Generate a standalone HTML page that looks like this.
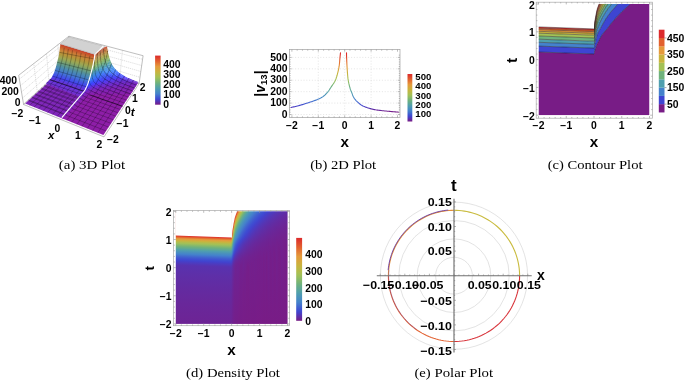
<!DOCTYPE html>
<html><head><meta charset="utf-8"><style>html,body{margin:0;padding:0;background:#fff}svg{display:block;will-change:transform}.m{stroke:#000;stroke-opacity:.47;stroke-width:.55;fill:none}</style></head>
<body><svg width="685" height="381" viewBox="0 0 685 381">
<rect width="685" height="381" fill="#fff"/>
<g opacity="0.999"><text x="58.8" y="169.3" font-family="'Liberation Serif', serif" font-size="13.2" font-weight="normal" textLength="66.4" lengthAdjust="spacingAndGlyphs" fill="#000">(a) 3D Plot</text><text x="310.2" y="169.4" font-family="'Liberation Serif', serif" font-size="13.2" font-weight="normal" textLength="66.0" lengthAdjust="spacingAndGlyphs" fill="#000">(b) 2D Plot</text><text x="547.7" y="169.1" font-family="'Liberation Serif', serif" font-size="13.2" font-weight="normal" textLength="94.8" lengthAdjust="spacingAndGlyphs" fill="#000">(c) Contour Plot</text><text x="186.1" y="377.3" font-family="'Liberation Serif', serif" font-size="13.2" font-weight="normal" textLength="93.8" lengthAdjust="spacingAndGlyphs" fill="#000">(d) Density Plot</text><text x="414.4" y="377.3" font-family="'Liberation Serif', serif" font-size="13.2" font-weight="normal" textLength="78.7" lengthAdjust="spacingAndGlyphs" fill="#000">(e) Polar Plot</text><path d="M318.30 49.5V117.5M344.70 49.5V117.5M371.10 49.5V117.5M289.5 114.50H400M289.5 103.08H400M289.5 91.66H400M289.5 80.24H400M289.5 68.82H400M289.5 57.40H400" stroke="#d4d4d4" stroke-width="0.6" stroke-dasharray="1,1.8" fill="none"/><rect x="289.5" y="49.5" width="110.5" height="68" fill="none" stroke="#a0a0a0" stroke-width="0.7"/><path d="M291.90 117.5v-2.2M291.90 49.5v2.2M297.18 117.5v-1.2M297.18 49.5v1.2M302.46 117.5v-1.2M302.46 49.5v1.2M307.74 117.5v-1.2M307.74 49.5v1.2M313.02 117.5v-1.2M313.02 49.5v1.2M318.30 117.5v-2.2M318.30 49.5v2.2M323.58 117.5v-1.2M323.58 49.5v1.2M328.86 117.5v-1.2M328.86 49.5v1.2M334.14 117.5v-1.2M334.14 49.5v1.2M339.42 117.5v-1.2M339.42 49.5v1.2M344.70 117.5v-2.2M344.70 49.5v2.2M349.98 117.5v-1.2M349.98 49.5v1.2M355.26 117.5v-1.2M355.26 49.5v1.2M360.54 117.5v-1.2M360.54 49.5v1.2M365.82 117.5v-1.2M365.82 49.5v1.2M371.10 117.5v-2.2M371.10 49.5v2.2M376.38 117.5v-1.2M376.38 49.5v1.2M381.66 117.5v-1.2M381.66 49.5v1.2M386.94 117.5v-1.2M386.94 49.5v1.2M392.22 117.5v-1.2M392.22 49.5v1.2M397.50 117.5v-2.2M397.50 49.5v2.2M289.5 114.50h2.2M400 114.50h-2.2M289.5 112.22h1.2M400 112.22h-1.2M289.5 109.93h1.2M400 109.93h-1.2M289.5 107.65h1.2M400 107.65h-1.2M289.5 105.36h1.2M400 105.36h-1.2M289.5 103.08h2.2M400 103.08h-2.2M289.5 100.80h1.2M400 100.80h-1.2M289.5 98.51h1.2M400 98.51h-1.2M289.5 96.23h1.2M400 96.23h-1.2M289.5 93.94h1.2M400 93.94h-1.2M289.5 91.66h2.2M400 91.66h-2.2M289.5 89.38h1.2M400 89.38h-1.2M289.5 87.09h1.2M400 87.09h-1.2M289.5 84.81h1.2M400 84.81h-1.2M289.5 82.52h1.2M400 82.52h-1.2M289.5 80.24h2.2M400 80.24h-2.2M289.5 77.96h1.2M400 77.96h-1.2M289.5 75.67h1.2M400 75.67h-1.2M289.5 73.39h1.2M400 73.39h-1.2M289.5 71.10h1.2M400 71.10h-1.2M289.5 68.82h2.2M400 68.82h-2.2M289.5 66.54h1.2M400 66.54h-1.2M289.5 64.25h1.2M400 64.25h-1.2M289.5 61.97h1.2M400 61.97h-1.2M289.5 59.68h1.2M400 59.68h-1.2M289.5 57.40h2.2M400 57.40h-2.2M289.5 55.12h1.2M400 55.12h-1.2" stroke="#909090" stroke-width="0.6" fill="none"/><text x="287.6" y="117.74" font-family="'Liberation Sans', sans-serif" font-size="10.1" font-weight="bold" text-anchor="end" textLength="5.78" lengthAdjust="spacingAndGlyphs" fill="#000">0</text><text x="287.6" y="106.32" font-family="'Liberation Sans', sans-serif" font-size="10.1" font-weight="bold" text-anchor="end" textLength="17.35" lengthAdjust="spacingAndGlyphs" fill="#000">100</text><text x="287.6" y="94.9" font-family="'Liberation Sans', sans-serif" font-size="10.1" font-weight="bold" text-anchor="end" textLength="17.35" lengthAdjust="spacingAndGlyphs" fill="#000">200</text><text x="287.6" y="83.48" font-family="'Liberation Sans', sans-serif" font-size="10.1" font-weight="bold" text-anchor="end" textLength="17.35" lengthAdjust="spacingAndGlyphs" fill="#000">300</text><text x="287.6" y="72.06" font-family="'Liberation Sans', sans-serif" font-size="10.1" font-weight="bold" text-anchor="end" textLength="17.35" lengthAdjust="spacingAndGlyphs" fill="#000">400</text><text x="287.6" y="60.64" font-family="'Liberation Sans', sans-serif" font-size="10.1" font-weight="bold" text-anchor="end" textLength="17.35" lengthAdjust="spacingAndGlyphs" fill="#000">500</text><text x="291.9" y="129.44" font-family="'Liberation Sans', sans-serif" font-size="10.1" font-weight="bold" text-anchor="middle" textLength="11.86" lengthAdjust="spacingAndGlyphs" fill="#000">−2</text><text x="318.3" y="129.44" font-family="'Liberation Sans', sans-serif" font-size="10.1" font-weight="bold" text-anchor="middle" textLength="11.86" lengthAdjust="spacingAndGlyphs" fill="#000">−1</text><text x="344.7" y="129.44" font-family="'Liberation Sans', sans-serif" font-size="10.1" font-weight="bold" text-anchor="middle" textLength="5.78" lengthAdjust="spacingAndGlyphs" fill="#000">0</text><text x="371.1" y="129.44" font-family="'Liberation Sans', sans-serif" font-size="10.1" font-weight="bold" text-anchor="middle" textLength="5.78" lengthAdjust="spacingAndGlyphs" fill="#000">1</text><text x="397.5" y="129.44" font-family="'Liberation Sans', sans-serif" font-size="10.1" font-weight="bold" text-anchor="middle" textLength="5.78" lengthAdjust="spacingAndGlyphs" fill="#000">2</text><text x="344.7" y="147.0" font-family="'Liberation Sans', sans-serif" font-size="15.2" font-weight="bold" text-anchor="middle" fill="#000">x</text><g transform="translate(264.6,83.6) rotate(-90)"><text x="0" y="0" font-family="Liberation Sans, sans-serif" font-size="14" font-weight="bold" text-anchor="middle">|<tspan font-style="italic">v</tspan><tspan font-size="9.6" dy="2.7">13</tspan><tspan dy="-2.7">|</tspan></text></g><defs><linearGradient id="cvg" gradientUnits="userSpaceOnUse" x1="0" y1="111.99" x2="0" y2="53.97"><stop offset="0.00" stop-color="#781c86"/><stop offset="0.05" stop-color="#5e2ea8"/><stop offset="0.10" stop-color="#4441ca"/><stop offset="0.15" stop-color="#405ad0"/><stop offset="0.20" stop-color="#4376cd"/><stop offset="0.25" stop-color="#4789c4"/><stop offset="0.30" stop-color="#4c96b7"/><stop offset="0.35" stop-color="#54a2a6"/><stop offset="0.40" stop-color="#62aa90"/><stop offset="0.45" stop-color="#72b37a"/><stop offset="0.50" stop-color="#89ba69"/><stop offset="0.55" stop-color="#a0c058"/><stop offset="0.60" stop-color="#b2bc4c"/><stop offset="0.65" stop-color="#c3b642"/><stop offset="0.70" stop-color="#d1ac3d"/><stop offset="0.75" stop-color="#dea03c"/><stop offset="0.80" stop-color="#e48e39"/><stop offset="0.85" stop-color="#e37433"/><stop offset="0.90" stop-color="#e15b2e"/><stop offset="0.95" stop-color="#df422d"/><stop offset="1.00" stop-color="#dc2a2c"/></linearGradient></defs><path d="M291.10 107.50 292.00 107.28 292.88 107.08 293.74 106.89 294.61 106.69 295.50 106.48 296.43 106.25 297.43 105.99 298.50 105.70 299.67 105.37 300.93 105.00 302.26 104.61 303.63 104.20 305.01 103.78 306.38 103.35 307.72 102.92 309.00 102.50 310.26 102.08 311.52 101.66 312.79 101.23 314.03 100.79 315.22 100.36 316.36 99.93 317.43 99.51 318.40 99.10 319.27 98.71 320.04 98.33 320.74 97.96 321.38 97.60 321.97 97.23 322.55 96.85 323.12 96.44 323.70 96.00 324.29 95.53 324.85 95.04 325.40 94.52 325.94 93.99 326.45 93.45 326.95 92.90 327.44 92.35 327.90 91.80 328.33 91.27 328.71 90.75 329.07 90.24 329.42 89.72 329.77 89.17 330.14 88.58 330.54 87.93 331.00 87.20 331.52 86.41 332.10 85.59 332.71 84.72 333.34 83.81 333.98 82.83 334.59 81.79 335.17 80.68 335.70 79.50 336.19 78.20 336.65 76.78 337.10 75.27 337.52 73.71 337.92 72.12 338.28 70.55 338.61 69.03 338.90 67.60 339.14 66.21 339.34 64.80 339.49 63.41 339.62 62.05 339.72 60.75 339.82 59.52 339.91 58.40 340.00 57.40 340.09 56.55 340.17 55.84 340.23 55.23 340.29 54.71 340.34 54.22 340.39 53.75 340.44 53.25 340.50 52.70" fill="none" stroke="url(#cvg)" stroke-width="1.1" stroke-linecap="round" stroke-linejoin="round"/><path d="M346.50 52.70 346.51 53.25 346.52 53.75 346.52 54.22 346.52 54.71 346.53 55.23 346.55 55.84 346.57 56.55 346.60 57.40 346.64 58.40 346.69 59.52 346.74 60.75 346.79 62.05 346.86 63.41 346.93 64.80 347.01 66.21 347.10 67.60 347.19 69.03 347.29 70.54 347.40 72.09 347.51 73.66 347.64 75.21 347.78 76.72 347.93 78.16 348.10 79.50 348.30 80.76 348.52 81.97 348.76 83.13 349.02 84.24 349.28 85.29 349.53 86.27 349.78 87.18 350.00 88.00 350.20 88.70 350.38 89.27 350.55 89.75 350.71 90.16 350.88 90.56 351.06 90.97 351.27 91.44 351.50 92.00 351.75 92.66 352.02 93.37 352.30 94.13 352.59 94.92 352.91 95.71 353.25 96.48 353.61 97.22 354.00 97.90 354.42 98.54 354.87 99.15 355.35 99.73 355.85 100.30 356.37 100.85 356.90 101.38 357.45 101.89 358.00 102.40 358.54 102.89 359.08 103.36 359.61 103.81 360.17 104.24 360.76 104.67 361.40 105.08 362.11 105.49 362.90 105.90 363.79 106.31 364.77 106.72 365.82 107.13 366.92 107.53 368.05 107.91 369.19 108.27 370.31 108.60 371.40 108.90 372.45 109.16 373.49 109.39 374.53 109.59 375.56 109.78 376.61 109.94 377.68 110.10 378.77 110.25 379.90 110.40 381.08 110.55 382.31 110.69 383.57 110.82 384.85 110.95 386.13 111.07 387.39 111.18 388.62 111.29 389.80 111.40 390.93 111.50 392.02 111.60 393.09 111.68 394.14 111.77 395.17 111.85 396.21 111.93 397.25 112.01 398.30 112.10" fill="none" stroke="url(#cvg)" stroke-width="1.1" stroke-linecap="round" stroke-linejoin="round"/><defs><linearGradient id="cbb" x1="0" y1="1" x2="0" y2="0"><stop offset="0.000" stop-color="#781c86"/><stop offset="0.025" stop-color="#6b2597"/><stop offset="0.050" stop-color="#5e2ea8"/><stop offset="0.075" stop-color="#5138b9"/><stop offset="0.100" stop-color="#4441ca"/><stop offset="0.125" stop-color="#3f4dd1"/><stop offset="0.150" stop-color="#405ad0"/><stop offset="0.175" stop-color="#4168cf"/><stop offset="0.200" stop-color="#4376cd"/><stop offset="0.225" stop-color="#4483cb"/><stop offset="0.250" stop-color="#4789c4"/><stop offset="0.275" stop-color="#4990be"/><stop offset="0.300" stop-color="#4c96b7"/><stop offset="0.325" stop-color="#4e9db0"/><stop offset="0.350" stop-color="#54a2a6"/><stop offset="0.375" stop-color="#5ba69b"/><stop offset="0.400" stop-color="#62aa90"/><stop offset="0.425" stop-color="#69af85"/><stop offset="0.450" stop-color="#72b37a"/><stop offset="0.475" stop-color="#7db672"/><stop offset="0.500" stop-color="#89ba69"/><stop offset="0.525" stop-color="#95bd60"/><stop offset="0.550" stop-color="#a0c058"/><stop offset="0.575" stop-color="#aabf52"/><stop offset="0.600" stop-color="#b2bc4c"/><stop offset="0.625" stop-color="#bbb947"/><stop offset="0.650" stop-color="#c3b642"/><stop offset="0.675" stop-color="#cbb23e"/><stop offset="0.700" stop-color="#d1ac3d"/><stop offset="0.725" stop-color="#d8a63d"/><stop offset="0.750" stop-color="#dea03c"/><stop offset="0.775" stop-color="#e49b3c"/><stop offset="0.800" stop-color="#e48e39"/><stop offset="0.825" stop-color="#e48136"/><stop offset="0.850" stop-color="#e37433"/><stop offset="0.875" stop-color="#e26730"/><stop offset="0.900" stop-color="#e15b2e"/><stop offset="0.925" stop-color="#e04e2d"/><stop offset="0.950" stop-color="#df422d"/><stop offset="0.975" stop-color="#dd362c"/><stop offset="1.000" stop-color="#dc2a2c"/></linearGradient></defs><rect x="407.5" y="74" width="4.800000000000011" height="47.5" fill="url(#cbb)"/><text x="415.3" y="117.3" font-family="'Liberation Sans', sans-serif" font-size="8.6" font-weight="bold" textLength="16.07" lengthAdjust="spacingAndGlyphs" fill="#000">100</text><text x="415.3" y="107.95" font-family="'Liberation Sans', sans-serif" font-size="8.6" font-weight="bold" textLength="16.07" lengthAdjust="spacingAndGlyphs" fill="#000">200</text><text x="415.3" y="98.6" font-family="'Liberation Sans', sans-serif" font-size="8.6" font-weight="bold" textLength="16.07" lengthAdjust="spacingAndGlyphs" fill="#000">300</text><text x="415.3" y="89.25" font-family="'Liberation Sans', sans-serif" font-size="8.6" font-weight="bold" textLength="16.07" lengthAdjust="spacingAndGlyphs" fill="#000">400</text><text x="415.3" y="79.9" font-family="'Liberation Sans', sans-serif" font-size="8.6" font-weight="bold" textLength="16.07" lengthAdjust="spacingAndGlyphs" fill="#000">500</text><defs><clipPath id="cl"><rect x="538.5" y="4.0" width="55.5" height="111.2"/></clipPath><clipPath id="cr"><rect x="594.0" y="4.0" width="55.5" height="111.2"/></clipPath></defs><g clip-path="url(#cl)"><path d="M538.7 115.2 594.0 115.2 594.0 54.0 538.5 52.0 538.5 115.2Z" fill="#781c86" fill-rule="evenodd"/><path d="M591.4 53.9 594.0 54.0 594.0 48.1 538.5 46.1 538.5 52.0Z" fill="#3e45d2" fill-rule="evenodd"/><path d="M588.2 47.9 594.0 48.1 594.0 44.3 538.5 42.3 538.5 46.1Z" fill="#4482cc" fill-rule="evenodd"/><path d="M590.1 44.2 594.0 44.3 594.0 41.2 538.5 39.2 538.5 42.3Z" fill="#4f9fae" fill-rule="evenodd"/><path d="M592.6 41.1 594.0 41.2 594.0 38.0 538.5 36.0 538.5 39.2Z" fill="#6fb27c" fill-rule="evenodd"/><path d="M591.2 37.9 594.0 38.0 594.0 35.2 538.5 33.2 538.5 36.0Z" fill="#a3c156" fill-rule="evenodd"/><path d="M591.9 35.1 594.0 35.2 594.0 33.3 538.5 31.3 538.5 33.2Z" fill="#c9b43e" fill-rule="evenodd"/><path d="M592.6 33.3 594.0 33.3 594.0 31.6 538.5 29.6 538.5 31.3Z" fill="#e59a3c" fill-rule="evenodd"/><path d="M588.2 31.4 594.0 31.6 594.0 30.1 538.5 28.1 538.5 29.6Z" fill="#e2602e" fill-rule="evenodd"/><path d="M591.2 30.0 594.0 30.1 594.0 28.9 538.5 26.9 538.5 28.1Z" fill="#dc2a2c" fill-rule="evenodd"/><polyline points="538.5,52.0 594.0,54.0" fill="none" stroke="#1a1a1a" stroke-opacity="0.55" stroke-width="0.85"/><polyline points="538.5,46.1 594.0,48.1" fill="none" stroke="#1a1a1a" stroke-opacity="0.55" stroke-width="0.85"/><polyline points="538.5,42.3 594.0,44.3" fill="none" stroke="#1a1a1a" stroke-opacity="0.55" stroke-width="0.85"/><polyline points="538.5,39.2 594.0,41.2" fill="none" stroke="#1a1a1a" stroke-opacity="0.55" stroke-width="0.85"/><polyline points="538.5,36.0 594.0,38.0" fill="none" stroke="#1a1a1a" stroke-opacity="0.55" stroke-width="0.85"/><polyline points="538.5,33.2 594.0,35.2" fill="none" stroke="#1a1a1a" stroke-opacity="0.55" stroke-width="0.85"/><polyline points="538.5,31.3 594.0,33.3" fill="none" stroke="#1a1a1a" stroke-opacity="0.55" stroke-width="0.85"/><polyline points="538.5,29.6 594.0,31.6" fill="none" stroke="#1a1a1a" stroke-opacity="0.55" stroke-width="0.85"/><polyline points="538.5,28.1 594.0,30.1" fill="none" stroke="#1a1a1a" stroke-opacity="0.55" stroke-width="0.85"/><polyline points="538.5,26.9 594.0,28.9" fill="none" stroke="#1a1a1a" stroke-opacity="0.55" stroke-width="0.85"/></g><g clip-path="url(#cr)"><path d="M594.2 115.2 649.5 115.2 649.5 4.0 630.3 4.0 621.6 11.9 616.3 17.4 610.7 24.0 607.2 28.8 605.1 31.0 601.9 35.1 597.3 43.5 594.7 50.6 594.0 54.0 594.0 115.2Z" fill="#781c86" fill-rule="evenodd"/><path d="M594.0 53.9 594.7 50.6 597.0 44.0 602.1 34.7 605.1 31.0 607.2 28.8 610.7 24.0 616.3 17.4 621.9 11.7 630.3 4.0 617.8 4.0 610.7 12.1 607.9 15.8 605.1 20.0 602.4 24.7 600.3 28.8 598.2 32.3 597.0 34.9 595.6 41.4 594.7 44.3 594.0 48.1Z" fill="#3e45d2" fill-rule="evenodd"/><path d="M594.1 47.9 594.7 44.3 595.6 41.4 597.0 35.1 598.2 32.3 604.9 20.4 607.9 15.8 610.7 12.1 617.8 4.0 611.7 4.0 607.7 9.2 605.1 13.0 602.4 17.7 599.6 23.4 596.8 30.6 595.9 34.0 594.7 39.6 594.0 44.3Z" fill="#4482cc" fill-rule="evenodd"/><path d="M594.0 44.2 594.7 39.6 595.9 34.0 597.0 29.8 599.6 23.4 602.4 17.7 605.1 13.0 607.9 8.9 611.7 4.0 607.9 4.0 605.1 8.1 602.4 12.8 599.6 18.4 597.3 24.5 594.7 35.3 594.0 41.2Z" fill="#4f9fae" fill-rule="evenodd"/><path d="M594.0 41.1 594.7 35.3 597.0 25.3 598.2 21.8 599.6 18.4 602.4 12.8 605.1 8.1 607.9 4.0 605.3 4.0 601.0 11.6 598.2 18.0 597.0 21.5 595.6 28.8 594.7 32.5 594.0 38.0Z" fill="#6fb27c" fill-rule="evenodd"/><path d="M594.0 37.9 594.7 32.5 595.6 28.8 597.3 20.7 598.2 18.0 601.0 11.6 605.3 4.0 603.4 4.0 601.0 8.5 599.6 11.5 597.3 17.5 594.7 30.2 594.0 35.2Z" fill="#a3c156" fill-rule="evenodd"/><path d="M594.0 35.1 594.7 30.2 597.3 17.5 599.6 11.5 601.0 8.5 603.4 4.0 601.9 4.0 599.6 8.8 597.3 14.9 594.7 28.1 594.0 33.3Z" fill="#c9b43e" fill-rule="evenodd"/><path d="M594.0 33.3 594.7 28.1 597.0 15.7 598.2 12.2 599.6 8.8 601.9 4.0 600.8 4.0 598.2 9.9 597.0 13.4 594.7 25.9 594.4 29.1 594.0 31.6Z" fill="#e59a3c" fill-rule="evenodd"/><path d="M594.1 31.4 594.5 28.9 594.7 25.9 597.0 13.4 598.2 9.9 600.8 4.0 599.8 4.0 598.2 7.9 597.0 11.4 594.7 23.8 594.3 28.8 594.0 30.1Z" fill="#e2602e" fill-rule="evenodd"/><path d="M594.0 30.0 594.3 28.8 594.7 23.8 597.0 11.4 598.2 7.9 599.8 4.0 599.0 4.0 597.0 9.6 594.7 22.0 594.0 28.9Z" fill="#dc2a2c" fill-rule="evenodd"/><polyline points="594.0,54.0 594.7,50.6 597.0,44.0 602.1,34.7 605.1,31.0 607.2,28.8 610.7,24.0 616.3,17.4 621.9,11.7 630.3,4.0" fill="none" stroke="#1a1a1a" stroke-opacity="0.55" stroke-width="0.85"/><polyline points="594.0,48.1 594.7,44.3 597.0,35.1 598.2,32.3 604.9,20.4 607.9,15.8 610.7,12.1 617.8,4.0" fill="none" stroke="#1a1a1a" stroke-opacity="0.55" stroke-width="0.85"/><polyline points="594.0,44.3 594.7,39.6 595.9,34.0 597.0,29.8 599.6,23.4 602.4,17.7 605.1,13.0 607.9,8.9 611.7,4.0" fill="none" stroke="#1a1a1a" stroke-opacity="0.55" stroke-width="0.85"/><polyline points="594.0,41.2 594.7,35.3 597.0,25.3 598.2,21.8 599.6,18.4 602.4,12.8 605.1,8.1 607.9,4.0" fill="none" stroke="#1a1a1a" stroke-opacity="0.55" stroke-width="0.85"/><polyline points="594.0,38.0 594.7,32.5 597.3,20.7 598.2,18.0 601.0,11.6 605.3,4.0" fill="none" stroke="#1a1a1a" stroke-opacity="0.55" stroke-width="0.85"/><polyline points="594.0,35.2 594.7,30.2 597.3,17.5 599.6,11.5 603.4,4.0" fill="none" stroke="#1a1a1a" stroke-opacity="0.55" stroke-width="0.85"/><polyline points="594.0,33.3 594.7,28.1 597.0,15.7 599.6,8.8 601.9,4.0" fill="none" stroke="#1a1a1a" stroke-opacity="0.55" stroke-width="0.85"/><polyline points="594.0,31.6 594.7,25.9 597.0,13.4 598.2,9.9 600.8,4.0" fill="none" stroke="#1a1a1a" stroke-opacity="0.55" stroke-width="0.85"/><polyline points="594.0,30.1 594.7,23.8 597.0,11.4 598.2,7.9 599.8,4.0" fill="none" stroke="#1a1a1a" stroke-opacity="0.55" stroke-width="0.85"/><polyline points="594.0,28.9 594.7,22.0 596.1,14.2 597.3,8.8 599.0,4.0" fill="none" stroke="#1a1a1a" stroke-opacity="0.55" stroke-width="0.85"/></g><rect x="536.2" y="2.2" width="116.19999999999993" height="116.0" fill="none" stroke="#a8a8a8" stroke-width="0.7"/><path d="M538.50 118.2v-2.2M538.50 2.2v2.2M544.05 118.2v-1.2M544.05 2.2v1.2M549.60 118.2v-1.2M549.60 2.2v1.2M555.15 118.2v-1.2M555.15 2.2v1.2M560.70 118.2v-1.2M560.70 2.2v1.2M566.25 118.2v-2.2M566.25 2.2v2.2M571.80 118.2v-1.2M571.80 2.2v1.2M577.35 118.2v-1.2M577.35 2.2v1.2M582.90 118.2v-1.2M582.90 2.2v1.2M588.45 118.2v-1.2M588.45 2.2v1.2M594.00 118.2v-2.2M594.00 2.2v2.2M599.55 118.2v-1.2M599.55 2.2v1.2M605.10 118.2v-1.2M605.10 2.2v1.2M610.65 118.2v-1.2M610.65 2.2v1.2M616.20 118.2v-1.2M616.20 2.2v1.2M621.75 118.2v-2.2M621.75 2.2v2.2M627.30 118.2v-1.2M627.30 2.2v1.2M632.85 118.2v-1.2M632.85 2.2v1.2M638.40 118.2v-1.2M638.40 2.2v1.2M643.95 118.2v-1.2M643.95 2.2v1.2M649.50 118.2v-2.2M649.50 2.2v2.2M536.2 115.20h2.2M652.4 115.20h-2.2M536.2 109.64h1.2M652.4 109.64h-1.2M536.2 104.08h1.2M652.4 104.08h-1.2M536.2 98.52h1.2M652.4 98.52h-1.2M536.2 92.96h1.2M652.4 92.96h-1.2M536.2 87.40h2.2M652.4 87.40h-2.2M536.2 81.84h1.2M652.4 81.84h-1.2M536.2 76.28h1.2M652.4 76.28h-1.2M536.2 70.72h1.2M652.4 70.72h-1.2M536.2 65.16h1.2M652.4 65.16h-1.2M536.2 59.60h2.2M652.4 59.60h-2.2M536.2 54.04h1.2M652.4 54.04h-1.2M536.2 48.48h1.2M652.4 48.48h-1.2M536.2 42.92h1.2M652.4 42.92h-1.2M536.2 37.36h1.2M652.4 37.36h-1.2M536.2 31.80h2.2M652.4 31.80h-2.2M536.2 26.24h1.2M652.4 26.24h-1.2M536.2 20.68h1.2M652.4 20.68h-1.2M536.2 15.12h1.2M652.4 15.12h-1.2M536.2 9.56h1.2M652.4 9.56h-1.2M536.2 4.00h2.2M652.4 4.00h-2.2" stroke="#909090" stroke-width="0.6" fill="none"/><text x="538.5" y="129.34" font-family="'Liberation Sans', sans-serif" font-size="10.1" font-weight="bold" text-anchor="middle" textLength="11.86" lengthAdjust="spacingAndGlyphs" fill="#000">−2</text><text x="534.8" y="119.74" font-family="'Liberation Sans', sans-serif" font-size="10.1" font-weight="bold" text-anchor="end" textLength="11.86" lengthAdjust="spacingAndGlyphs" fill="#000">−2</text><text x="566.25" y="129.34" font-family="'Liberation Sans', sans-serif" font-size="10.1" font-weight="bold" text-anchor="middle" textLength="11.86" lengthAdjust="spacingAndGlyphs" fill="#000">−1</text><text x="534.8" y="91.94" font-family="'Liberation Sans', sans-serif" font-size="10.1" font-weight="bold" text-anchor="end" textLength="11.86" lengthAdjust="spacingAndGlyphs" fill="#000">−1</text><text x="594.0" y="129.34" font-family="'Liberation Sans', sans-serif" font-size="10.1" font-weight="bold" text-anchor="middle" textLength="5.78" lengthAdjust="spacingAndGlyphs" fill="#000">0</text><text x="534.8" y="64.14" font-family="'Liberation Sans', sans-serif" font-size="10.1" font-weight="bold" text-anchor="end" textLength="5.78" lengthAdjust="spacingAndGlyphs" fill="#000">0</text><text x="621.75" y="129.34" font-family="'Liberation Sans', sans-serif" font-size="10.1" font-weight="bold" text-anchor="middle" textLength="5.78" lengthAdjust="spacingAndGlyphs" fill="#000">1</text><text x="534.8" y="36.34" font-family="'Liberation Sans', sans-serif" font-size="10.1" font-weight="bold" text-anchor="end" textLength="5.78" lengthAdjust="spacingAndGlyphs" fill="#000">1</text><text x="649.5" y="129.34" font-family="'Liberation Sans', sans-serif" font-size="10.1" font-weight="bold" text-anchor="middle" textLength="5.78" lengthAdjust="spacingAndGlyphs" fill="#000">2</text><text x="534.8" y="8.54" font-family="'Liberation Sans', sans-serif" font-size="10.1" font-weight="bold" text-anchor="end" textLength="5.78" lengthAdjust="spacingAndGlyphs" fill="#000">2</text><text x="594" y="146.8" font-family="'Liberation Sans', sans-serif" font-size="15.2" font-weight="bold" text-anchor="middle" fill="#000">x</text><g transform="translate(516.6,60.4) rotate(-90)"><text x="0" y="0" font-family="Liberation Sans, sans-serif" font-size="15.5" font-weight="bold" text-anchor="middle">t</text></g><rect x="658.8" y="104.13" width="5.7" height="8.32" fill="#781c86"/><rect x="658.8" y="95.86" width="5.7" height="8.32" fill="#3e45d2"/><rect x="658.8" y="87.59" width="5.7" height="8.32" fill="#4482cc"/><rect x="658.8" y="79.32" width="5.7" height="8.32" fill="#4f9fae"/><rect x="658.8" y="71.05" width="5.7" height="8.32" fill="#6fb27c"/><rect x="658.8" y="62.78" width="5.7" height="8.32" fill="#a3c156"/><rect x="658.8" y="54.51" width="5.7" height="8.32" fill="#c9b43e"/><rect x="658.8" y="46.24" width="5.7" height="8.32" fill="#e59a3c"/><rect x="658.8" y="37.97" width="5.7" height="8.32" fill="#e2602e"/><rect x="658.8" y="29.70" width="5.7" height="8.32" fill="#dc2a2c"/><line x1="664.5" y1="104.13" x2="666.5" y2="104.13" stroke="#555" stroke-width="0.5"/><text x="667.0" y="107.77" font-family="'Liberation Sans', sans-serif" font-size="10.1" font-weight="bold" textLength="11.57" lengthAdjust="spacingAndGlyphs" fill="#000">50</text><line x1="664.5" y1="87.59" x2="666.5" y2="87.59" stroke="#555" stroke-width="0.5"/><text x="667.0" y="91.23" font-family="'Liberation Sans', sans-serif" font-size="10.1" font-weight="bold" textLength="17.35" lengthAdjust="spacingAndGlyphs" fill="#000">150</text><line x1="664.5" y1="71.05" x2="666.5" y2="71.05" stroke="#555" stroke-width="0.5"/><text x="667.0" y="74.69" font-family="'Liberation Sans', sans-serif" font-size="10.1" font-weight="bold" textLength="17.35" lengthAdjust="spacingAndGlyphs" fill="#000">250</text><line x1="664.5" y1="54.51" x2="666.5" y2="54.51" stroke="#555" stroke-width="0.5"/><text x="667.0" y="58.15" font-family="'Liberation Sans', sans-serif" font-size="10.1" font-weight="bold" textLength="17.35" lengthAdjust="spacingAndGlyphs" fill="#000">350</text><line x1="664.5" y1="37.97" x2="666.5" y2="37.97" stroke="#555" stroke-width="0.5"/><text x="667.0" y="41.61" font-family="'Liberation Sans', sans-serif" font-size="10.1" font-weight="bold" textLength="17.35" lengthAdjust="spacingAndGlyphs" fill="#000">450</text><defs><linearGradient id="dgl" gradientUnits="userSpaceOnUse" x1="203.73" y1="205.40" x2="199.25" y2="329.74"><stop offset="0.0000" stop-color="#dc2a2c"/><stop offset="0.2521" stop-color="#dd332c"/><stop offset="0.2538" stop-color="#de3b2d"/><stop offset="0.2554" stop-color="#df442d"/><stop offset="0.2571" stop-color="#e04c2d"/><stop offset="0.2588" stop-color="#e1542e"/><stop offset="0.2604" stop-color="#e25c2e"/><stop offset="0.2621" stop-color="#e2632f"/><stop offset="0.2638" stop-color="#e36b31"/><stop offset="0.2654" stop-color="#e37232"/><stop offset="0.2671" stop-color="#e37934"/><stop offset="0.2688" stop-color="#e48036"/><stop offset="0.2721" stop-color="#e48e39"/><stop offset="0.2755" stop-color="#e59a3c"/><stop offset="0.2805" stop-color="#dba33d"/><stop offset="0.2855" stop-color="#d2ab3d"/><stop offset="0.2905" stop-color="#cab33e"/><stop offset="0.2938" stop-color="#c2b642"/><stop offset="0.2972" stop-color="#bbb947"/><stop offset="0.3005" stop-color="#b4bb4b"/><stop offset="0.3055" stop-color="#acbe51"/><stop offset="0.3105" stop-color="#a4c155"/><stop offset="0.3155" stop-color="#9abe5d"/><stop offset="0.3205" stop-color="#90bc64"/><stop offset="0.3255" stop-color="#86b96b"/><stop offset="0.3306" stop-color="#7db672"/><stop offset="0.3356" stop-color="#73b379"/><stop offset="0.3406" stop-color="#6cb080"/><stop offset="0.3456" stop-color="#67ad89"/><stop offset="0.3506" stop-color="#62aa91"/><stop offset="0.3556" stop-color="#5ba69b"/><stop offset="0.3606" stop-color="#55a3a4"/><stop offset="0.3656" stop-color="#509fad"/><stop offset="0.3723" stop-color="#4d99b4"/><stop offset="0.3806" stop-color="#4a91bc"/><stop offset="0.3890" stop-color="#478ac4"/><stop offset="0.3973" stop-color="#4483cb"/><stop offset="0.4023" stop-color="#437ccd"/><stop offset="0.4073" stop-color="#4374cd"/><stop offset="0.4124" stop-color="#426dce"/><stop offset="0.4190" stop-color="#4163cf"/><stop offset="0.4257" stop-color="#405bd0"/><stop offset="0.4324" stop-color="#3f53d1"/><stop offset="0.4407" stop-color="#3f4bd1"/><stop offset="0.4508" stop-color="#4143ce"/><stop offset="0.4591" stop-color="#473ec6"/><stop offset="0.4674" stop-color="#4d3bbf"/><stop offset="0.4775" stop-color="#5336b7"/><stop offset="0.4891" stop-color="#5832af"/><stop offset="0.5626" stop-color="#5e2fa8"/><stop offset="0.6661" stop-color="#632ba1"/><stop offset="0.8013" stop-color="#69279a"/><stop offset="0.9933" stop-color="#6e2393"/><stop offset="1.0000" stop-color="#6e2393"/></linearGradient><linearGradient id="dg1" x1="0" y1="0" x2="0" y2="1"><stop offset="0.000" stop-color="#dc2a2c"/><stop offset="0.199" stop-color="#dd372c"/><stop offset="0.203" stop-color="#df442d"/><stop offset="0.208" stop-color="#e0522d"/><stop offset="0.212" stop-color="#e25e2e"/><stop offset="0.217" stop-color="#e36b31"/><stop offset="0.221" stop-color="#e37834"/><stop offset="0.225" stop-color="#e48537"/><stop offset="0.230" stop-color="#e5913a"/><stop offset="0.234" stop-color="#e39c3c"/><stop offset="0.241" stop-color="#d6a83d"/><stop offset="0.248" stop-color="#ccb23e"/><stop offset="0.254" stop-color="#bfb744"/><stop offset="0.261" stop-color="#b3bc4c"/><stop offset="0.268" stop-color="#a7c053"/><stop offset="0.275" stop-color="#99be5d"/><stop offset="0.281" stop-color="#8bba68"/><stop offset="0.288" stop-color="#7db672"/><stop offset="0.295" stop-color="#72b37a"/><stop offset="0.304" stop-color="#69ae86"/><stop offset="0.312" stop-color="#61aa92"/><stop offset="0.321" stop-color="#59a59e"/><stop offset="0.330" stop-color="#52a1a9"/><stop offset="0.344" stop-color="#4d99b4"/><stop offset="0.357" stop-color="#498fbf"/><stop offset="0.373" stop-color="#4584ca"/><stop offset="0.382" stop-color="#4379cd"/><stop offset="0.391" stop-color="#426ece"/><stop offset="0.400" stop-color="#4164cf"/><stop offset="0.411" stop-color="#4058d0"/><stop offset="0.422" stop-color="#3f4dd1"/><stop offset="0.435" stop-color="#4143ce"/><stop offset="0.449" stop-color="#4a3dc3"/><stop offset="0.464" stop-color="#5237b8"/><stop offset="0.482" stop-color="#5a31ad"/><stop offset="0.536" stop-color="#622ca3"/><stop offset="0.746" stop-color="#692699"/><stop offset="1.000" stop-color="#6f2292"/></linearGradient><linearGradient id="dg2" x1="0" y1="0" x2="0" y2="1"><stop offset="0.000" stop-color="#dc2a2c"/><stop offset="0.136" stop-color="#dd342c"/><stop offset="0.141" stop-color="#df422d"/><stop offset="0.145" stop-color="#e04f2d"/><stop offset="0.150" stop-color="#e25c2e"/><stop offset="0.154" stop-color="#e26930"/><stop offset="0.158" stop-color="#e37633"/><stop offset="0.163" stop-color="#e48336"/><stop offset="0.167" stop-color="#e48f39"/><stop offset="0.172" stop-color="#e59a3c"/><stop offset="0.181" stop-color="#daa53d"/><stop offset="0.190" stop-color="#cfae3e"/><stop offset="0.199" stop-color="#c4b641"/><stop offset="0.208" stop-color="#b8ba49"/><stop offset="0.217" stop-color="#acbe50"/><stop offset="0.225" stop-color="#a0c058"/><stop offset="0.232" stop-color="#95bd60"/><stop offset="0.237" stop-color="#8bba68"/><stop offset="0.241" stop-color="#81b76f"/><stop offset="0.248" stop-color="#73b379"/><stop offset="0.254" stop-color="#6aaf83"/><stop offset="0.261" stop-color="#63ab8e"/><stop offset="0.268" stop-color="#5da799"/><stop offset="0.277" stop-color="#54a2a6"/><stop offset="0.286" stop-color="#4e9db0"/><stop offset="0.304" stop-color="#4a92bc"/><stop offset="0.324" stop-color="#4688c6"/><stop offset="0.342" stop-color="#437ccd"/><stop offset="0.353" stop-color="#4270ce"/><stop offset="0.364" stop-color="#4165cf"/><stop offset="0.375" stop-color="#405ad0"/><stop offset="0.386" stop-color="#3f50d1"/><stop offset="0.400" stop-color="#3e46d2"/><stop offset="0.413" stop-color="#473fc7"/><stop offset="0.426" stop-color="#4e39bc"/><stop offset="0.442" stop-color="#5634b2"/><stop offset="0.462" stop-color="#5e2ea8"/><stop offset="0.489" stop-color="#66299e"/><stop offset="0.701" stop-color="#6d2494"/><stop offset="1.000" stop-color="#72208e"/></linearGradient><linearGradient id="dg3" x1="0" y1="0" x2="0" y2="1"><stop offset="0.000" stop-color="#dc2a2c"/><stop offset="0.087" stop-color="#dd372c"/><stop offset="0.092" stop-color="#df442d"/><stop offset="0.096" stop-color="#e0522d"/><stop offset="0.100" stop-color="#e25e2e"/><stop offset="0.105" stop-color="#e36b31"/><stop offset="0.109" stop-color="#e37834"/><stop offset="0.114" stop-color="#e48537"/><stop offset="0.118" stop-color="#e5913a"/><stop offset="0.123" stop-color="#e49b3c"/><stop offset="0.132" stop-color="#d9a53d"/><stop offset="0.141" stop-color="#ceaf3e"/><stop offset="0.150" stop-color="#c3b642"/><stop offset="0.158" stop-color="#b7ba4a"/><stop offset="0.167" stop-color="#abbe51"/><stop offset="0.176" stop-color="#9ec059"/><stop offset="0.183" stop-color="#94bd61"/><stop offset="0.190" stop-color="#89ba69"/><stop offset="0.199" stop-color="#7cb673"/><stop offset="0.208" stop-color="#70b27c"/><stop offset="0.217" stop-color="#68ae87"/><stop offset="0.225" stop-color="#61aa91"/><stop offset="0.234" stop-color="#5aa69c"/><stop offset="0.241" stop-color="#54a2a7"/><stop offset="0.250" stop-color="#4e9cb1"/><stop offset="0.266" stop-color="#4a91bc"/><stop offset="0.283" stop-color="#4686c7"/><stop offset="0.299" stop-color="#437ccd"/><stop offset="0.312" stop-color="#4271ce"/><stop offset="0.326" stop-color="#4167cf"/><stop offset="0.342" stop-color="#405cd0"/><stop offset="0.355" stop-color="#3f52d1"/><stop offset="0.371" stop-color="#3e47d2"/><stop offset="0.386" stop-color="#463fc7"/><stop offset="0.402" stop-color="#4f39bc"/><stop offset="0.420" stop-color="#5733b1"/><stop offset="0.442" stop-color="#5f2da6"/><stop offset="0.471" stop-color="#67289c"/><stop offset="0.618" stop-color="#6f2292"/><stop offset="1.000" stop-color="#741f8c"/></linearGradient><linearGradient id="dg4" x1="0" y1="0" x2="0" y2="1"><stop offset="0.000" stop-color="#dc2a2c"/><stop offset="0.049" stop-color="#dd352c"/><stop offset="0.054" stop-color="#df422d"/><stop offset="0.058" stop-color="#e0502d"/><stop offset="0.063" stop-color="#e25c2e"/><stop offset="0.067" stop-color="#e26930"/><stop offset="0.071" stop-color="#e37633"/><stop offset="0.076" stop-color="#e48336"/><stop offset="0.080" stop-color="#e48f39"/><stop offset="0.085" stop-color="#e49a3c"/><stop offset="0.094" stop-color="#daa53d"/><stop offset="0.103" stop-color="#cfae3e"/><stop offset="0.112" stop-color="#c4b641"/><stop offset="0.121" stop-color="#b8ba49"/><stop offset="0.129" stop-color="#acbe51"/><stop offset="0.138" stop-color="#a0c059"/><stop offset="0.145" stop-color="#95bd60"/><stop offset="0.152" stop-color="#8aba68"/><stop offset="0.161" stop-color="#7db672"/><stop offset="0.170" stop-color="#71b27b"/><stop offset="0.179" stop-color="#69ae86"/><stop offset="0.188" stop-color="#62aa91"/><stop offset="0.196" stop-color="#5ba69b"/><stop offset="0.208" stop-color="#54a2a6"/><stop offset="0.221" stop-color="#4e9cb1"/><stop offset="0.239" stop-color="#4a91bc"/><stop offset="0.257" stop-color="#4686c8"/><stop offset="0.272" stop-color="#437acd"/><stop offset="0.283" stop-color="#426fce"/><stop offset="0.297" stop-color="#4165cf"/><stop offset="0.315" stop-color="#405ad0"/><stop offset="0.333" stop-color="#3f4fd1"/><stop offset="0.350" stop-color="#3e45d2"/><stop offset="0.366" stop-color="#473fc6"/><stop offset="0.382" stop-color="#4f39bc"/><stop offset="0.400" stop-color="#5733b2"/><stop offset="0.422" stop-color="#5f2ea7"/><stop offset="0.451" stop-color="#67289c"/><stop offset="0.498" stop-color="#6f2392"/><stop offset="1.000" stop-color="#751e8a"/></linearGradient><linearGradient id="dg5" x1="0" y1="0" x2="0" y2="1"><stop offset="0.000" stop-color="#dc2a2c"/><stop offset="0.025" stop-color="#dd352c"/><stop offset="0.029" stop-color="#df422d"/><stop offset="0.033" stop-color="#e0502d"/><stop offset="0.038" stop-color="#e25c2e"/><stop offset="0.042" stop-color="#e26930"/><stop offset="0.047" stop-color="#e37633"/><stop offset="0.051" stop-color="#e48336"/><stop offset="0.056" stop-color="#e48f39"/><stop offset="0.060" stop-color="#e49a3c"/><stop offset="0.069" stop-color="#d9a53d"/><stop offset="0.078" stop-color="#cfae3e"/><stop offset="0.087" stop-color="#c4b641"/><stop offset="0.096" stop-color="#b7ba49"/><stop offset="0.105" stop-color="#acbe51"/><stop offset="0.114" stop-color="#a0c059"/><stop offset="0.121" stop-color="#95bd60"/><stop offset="0.127" stop-color="#8aba68"/><stop offset="0.136" stop-color="#7db672"/><stop offset="0.145" stop-color="#71b27b"/><stop offset="0.154" stop-color="#69ae86"/><stop offset="0.163" stop-color="#62aa91"/><stop offset="0.172" stop-color="#5ba69b"/><stop offset="0.183" stop-color="#54a2a6"/><stop offset="0.196" stop-color="#4e9cb1"/><stop offset="0.217" stop-color="#4a92bc"/><stop offset="0.237" stop-color="#4688c6"/><stop offset="0.252" stop-color="#437ccd"/><stop offset="0.263" stop-color="#4271ce"/><stop offset="0.277" stop-color="#4166cf"/><stop offset="0.290" stop-color="#405bd0"/><stop offset="0.308" stop-color="#3f51d1"/><stop offset="0.328" stop-color="#3e47d2"/><stop offset="0.350" stop-color="#473fc6"/><stop offset="0.368" stop-color="#4f39bc"/><stop offset="0.386" stop-color="#5734b2"/><stop offset="0.408" stop-color="#5f2ea7"/><stop offset="0.437" stop-color="#67289d"/><stop offset="0.482" stop-color="#6e2393"/><stop offset="1.000" stop-color="#751e8a"/></linearGradient><linearGradient id="dg6" x1="0" y1="0" x2="0" y2="1"><stop offset="0.000" stop-color="#dc2c2c"/><stop offset="0.004" stop-color="#de3a2d"/><stop offset="0.009" stop-color="#df472d"/><stop offset="0.013" stop-color="#e1542e"/><stop offset="0.018" stop-color="#e2612e"/><stop offset="0.022" stop-color="#e36e31"/><stop offset="0.027" stop-color="#e37b34"/><stop offset="0.031" stop-color="#e48737"/><stop offset="0.036" stop-color="#e5933a"/><stop offset="0.042" stop-color="#e09f3c"/><stop offset="0.051" stop-color="#d5a93d"/><stop offset="0.060" stop-color="#cbb23e"/><stop offset="0.069" stop-color="#bfb845"/><stop offset="0.078" stop-color="#b2bc4c"/><stop offset="0.087" stop-color="#a7c054"/><stop offset="0.096" stop-color="#99be5d"/><stop offset="0.103" stop-color="#8fbb65"/><stop offset="0.109" stop-color="#84b86c"/><stop offset="0.118" stop-color="#78b476"/><stop offset="0.127" stop-color="#6db17f"/><stop offset="0.136" stop-color="#66ac8a"/><stop offset="0.145" stop-color="#5fa995"/><stop offset="0.156" stop-color="#57a4a1"/><stop offset="0.167" stop-color="#50a0ad"/><stop offset="0.185" stop-color="#4c96b7"/><stop offset="0.208" stop-color="#488cc2"/><stop offset="0.232" stop-color="#4482cc"/><stop offset="0.243" stop-color="#4375cd"/><stop offset="0.254" stop-color="#426bce"/><stop offset="0.268" stop-color="#4160cf"/><stop offset="0.283" stop-color="#4055d0"/><stop offset="0.304" stop-color="#3e49d2"/><stop offset="0.333" stop-color="#463fc8"/><stop offset="0.353" stop-color="#4e3abd"/><stop offset="0.373" stop-color="#5634b2"/><stop offset="0.395" stop-color="#5e2ea8"/><stop offset="0.424" stop-color="#66299e"/><stop offset="0.467" stop-color="#6e2394"/><stop offset="0.953" stop-color="#751e8a"/><stop offset="1.000" stop-color="#761e89"/></linearGradient><linearGradient id="dg7" x1="0" y1="0" x2="0" y2="1"><stop offset="0.000" stop-color="#e2652f"/><stop offset="0.004" stop-color="#e37232"/><stop offset="0.009" stop-color="#e47f35"/><stop offset="0.013" stop-color="#e48b38"/><stop offset="0.018" stop-color="#e5973b"/><stop offset="0.027" stop-color="#dba33d"/><stop offset="0.036" stop-color="#d1ad3d"/><stop offset="0.045" stop-color="#c6b540"/><stop offset="0.054" stop-color="#bab948"/><stop offset="0.063" stop-color="#aebd4f"/><stop offset="0.071" stop-color="#a2c157"/><stop offset="0.078" stop-color="#97be5f"/><stop offset="0.085" stop-color="#8dbb66"/><stop offset="0.092" stop-color="#82b86e"/><stop offset="0.100" stop-color="#76b477"/><stop offset="0.109" stop-color="#6cb081"/><stop offset="0.118" stop-color="#65ac8c"/><stop offset="0.127" stop-color="#5ea896"/><stop offset="0.138" stop-color="#56a3a3"/><stop offset="0.150" stop-color="#4f9fae"/><stop offset="0.170" stop-color="#4b94b9"/><stop offset="0.192" stop-color="#478ac4"/><stop offset="0.217" stop-color="#447fcc"/><stop offset="0.232" stop-color="#4373cd"/><stop offset="0.243" stop-color="#4168cf"/><stop offset="0.257" stop-color="#405ed0"/><stop offset="0.272" stop-color="#3f53d1"/><stop offset="0.290" stop-color="#3e48d2"/><stop offset="0.317" stop-color="#463fc7"/><stop offset="0.339" stop-color="#4e3abd"/><stop offset="0.362" stop-color="#5634b2"/><stop offset="0.386" stop-color="#5e2ea7"/><stop offset="0.415" stop-color="#66299d"/><stop offset="0.460" stop-color="#6e2393"/><stop offset="0.967" stop-color="#761e89"/><stop offset="1.000" stop-color="#761e89"/></linearGradient><linearGradient id="dg8" x1="0" y1="0" x2="0" y2="1"><stop offset="0.000" stop-color="#e5983b"/><stop offset="0.009" stop-color="#dba33d"/><stop offset="0.018" stop-color="#d1ad3d"/><stop offset="0.027" stop-color="#c6b540"/><stop offset="0.036" stop-color="#b9b948"/><stop offset="0.045" stop-color="#adbd4f"/><stop offset="0.054" stop-color="#a2c157"/><stop offset="0.060" stop-color="#97bd5f"/><stop offset="0.067" stop-color="#8cba67"/><stop offset="0.074" stop-color="#82b86e"/><stop offset="0.083" stop-color="#75b477"/><stop offset="0.092" stop-color="#6bb081"/><stop offset="0.100" stop-color="#64ac8c"/><stop offset="0.109" stop-color="#5ea897"/><stop offset="0.121" stop-color="#56a3a3"/><stop offset="0.132" stop-color="#4f9fae"/><stop offset="0.152" stop-color="#4b94b9"/><stop offset="0.174" stop-color="#478ac4"/><stop offset="0.199" stop-color="#447fcc"/><stop offset="0.214" stop-color="#4373cd"/><stop offset="0.230" stop-color="#4269ce"/><stop offset="0.243" stop-color="#405ed0"/><stop offset="0.259" stop-color="#3f53d1"/><stop offset="0.277" stop-color="#3e48d2"/><stop offset="0.301" stop-color="#463fc7"/><stop offset="0.326" stop-color="#4f39bc"/><stop offset="0.350" stop-color="#5634b2"/><stop offset="0.375" stop-color="#5e2ea8"/><stop offset="0.406" stop-color="#66299d"/><stop offset="0.451" stop-color="#6e2393"/><stop offset="0.911" stop-color="#761e89"/><stop offset="1.000" stop-color="#761d89"/></linearGradient><linearGradient id="dg9" x1="0" y1="0" x2="0" y2="1"><stop offset="0.000" stop-color="#d2ac3d"/><stop offset="0.009" stop-color="#c7b53f"/><stop offset="0.018" stop-color="#bab947"/><stop offset="0.027" stop-color="#aebd4f"/><stop offset="0.036" stop-color="#a3c156"/><stop offset="0.042" stop-color="#98be5e"/><stop offset="0.049" stop-color="#8ebb66"/><stop offset="0.056" stop-color="#83b86d"/><stop offset="0.065" stop-color="#77b476"/><stop offset="0.074" stop-color="#6cb080"/><stop offset="0.083" stop-color="#65ac8b"/><stop offset="0.092" stop-color="#5fa896"/><stop offset="0.103" stop-color="#57a4a2"/><stop offset="0.114" stop-color="#4f9fad"/><stop offset="0.132" stop-color="#4c96b7"/><stop offset="0.154" stop-color="#488bc2"/><stop offset="0.179" stop-color="#4481cc"/><stop offset="0.192" stop-color="#4377cd"/><stop offset="0.208" stop-color="#426cce"/><stop offset="0.225" stop-color="#4161cf"/><stop offset="0.241" stop-color="#4056d0"/><stop offset="0.257" stop-color="#3f4cd1"/><stop offset="0.279" stop-color="#4342cc"/><stop offset="0.299" stop-color="#4b3cc1"/><stop offset="0.326" stop-color="#5336b7"/><stop offset="0.353" stop-color="#5b31ad"/><stop offset="0.382" stop-color="#632ba2"/><stop offset="0.420" stop-color="#6b2598"/><stop offset="0.484" stop-color="#72208e"/><stop offset="1.000" stop-color="#761d88"/></linearGradient><linearGradient id="dg10" x1="0" y1="0" x2="0" y2="1"><stop offset="0.000" stop-color="#beb845"/><stop offset="0.009" stop-color="#b2bc4d"/><stop offset="0.018" stop-color="#a6c054"/><stop offset="0.027" stop-color="#99be5d"/><stop offset="0.033" stop-color="#8ebb65"/><stop offset="0.040" stop-color="#84b86d"/><stop offset="0.049" stop-color="#77b476"/><stop offset="0.058" stop-color="#6db180"/><stop offset="0.067" stop-color="#66ac8b"/><stop offset="0.076" stop-color="#5fa895"/><stop offset="0.087" stop-color="#57a4a1"/><stop offset="0.098" stop-color="#509fad"/><stop offset="0.116" stop-color="#4c96b7"/><stop offset="0.138" stop-color="#488cc2"/><stop offset="0.163" stop-color="#4481cc"/><stop offset="0.176" stop-color="#4377cd"/><stop offset="0.192" stop-color="#426dce"/><stop offset="0.210" stop-color="#4162cf"/><stop offset="0.230" stop-color="#4057d0"/><stop offset="0.246" stop-color="#3f4cd1"/><stop offset="0.268" stop-color="#4342cc"/><stop offset="0.286" stop-color="#4b3cc2"/><stop offset="0.310" stop-color="#5237b8"/><stop offset="0.342" stop-color="#5a31ad"/><stop offset="0.373" stop-color="#622ba2"/><stop offset="0.411" stop-color="#6a2698"/><stop offset="0.475" stop-color="#72208e"/><stop offset="1.000" stop-color="#761d88"/></linearGradient><linearGradient id="dg11" x1="0" y1="0" x2="0" y2="1"><stop offset="0.000" stop-color="#aabf52"/><stop offset="0.009" stop-color="#9dbf5a"/><stop offset="0.016" stop-color="#93bc62"/><stop offset="0.022" stop-color="#88b96a"/><stop offset="0.031" stop-color="#7bb573"/><stop offset="0.040" stop-color="#6fb27c"/><stop offset="0.049" stop-color="#68ae88"/><stop offset="0.058" stop-color="#61aa92"/><stop offset="0.069" stop-color="#59a59f"/><stop offset="0.080" stop-color="#52a0aa"/><stop offset="0.096" stop-color="#4d99b5"/><stop offset="0.116" stop-color="#498fbf"/><stop offset="0.141" stop-color="#4584ca"/><stop offset="0.158" stop-color="#4379cd"/><stop offset="0.174" stop-color="#426ece"/><stop offset="0.192" stop-color="#4163cf"/><stop offset="0.212" stop-color="#4058d0"/><stop offset="0.234" stop-color="#3f4dd1"/><stop offset="0.254" stop-color="#4242cd"/><stop offset="0.272" stop-color="#493dc3"/><stop offset="0.295" stop-color="#5237b8"/><stop offset="0.326" stop-color="#5a32ae"/><stop offset="0.359" stop-color="#612ca4"/><stop offset="0.397" stop-color="#692699"/><stop offset="0.455" stop-color="#71218f"/><stop offset="1.000" stop-color="#771d88"/></linearGradient><linearGradient id="dg12" x1="0" y1="0" x2="0" y2="1"><stop offset="0.000" stop-color="#94bd61"/><stop offset="0.007" stop-color="#8aba68"/><stop offset="0.016" stop-color="#7db672"/><stop offset="0.025" stop-color="#70b27b"/><stop offset="0.033" stop-color="#68ae86"/><stop offset="0.042" stop-color="#62aa91"/><stop offset="0.051" stop-color="#5ba69b"/><stop offset="0.063" stop-color="#54a2a7"/><stop offset="0.076" stop-color="#4e9cb1"/><stop offset="0.096" stop-color="#4a91bc"/><stop offset="0.118" stop-color="#4688c6"/><stop offset="0.138" stop-color="#447dcc"/><stop offset="0.154" stop-color="#4272ce"/><stop offset="0.170" stop-color="#4168cf"/><stop offset="0.188" stop-color="#405dd0"/><stop offset="0.208" stop-color="#3f53d1"/><stop offset="0.230" stop-color="#3e49d2"/><stop offset="0.254" stop-color="#463fc7"/><stop offset="0.275" stop-color="#4e39bc"/><stop offset="0.299" stop-color="#5634b2"/><stop offset="0.335" stop-color="#5e2ea8"/><stop offset="0.373" stop-color="#66299d"/><stop offset="0.420" stop-color="#6e2393"/><stop offset="0.696" stop-color="#761e89"/><stop offset="1.000" stop-color="#771d88"/></linearGradient><linearGradient id="dg13" x1="0" y1="0" x2="0" y2="1"><stop offset="0.000" stop-color="#80b770"/><stop offset="0.009" stop-color="#73b379"/><stop offset="0.018" stop-color="#6aaf83"/><stop offset="0.027" stop-color="#63ab8e"/><stop offset="0.036" stop-color="#5da798"/><stop offset="0.047" stop-color="#55a3a4"/><stop offset="0.058" stop-color="#4f9eaf"/><stop offset="0.078" stop-color="#4b94ba"/><stop offset="0.100" stop-color="#4789c4"/><stop offset="0.123" stop-color="#447fcc"/><stop offset="0.138" stop-color="#4374cd"/><stop offset="0.154" stop-color="#4269ce"/><stop offset="0.172" stop-color="#415fcf"/><stop offset="0.192" stop-color="#3f54d1"/><stop offset="0.214" stop-color="#3e4ad2"/><stop offset="0.243" stop-color="#463fc8"/><stop offset="0.263" stop-color="#4e3abd"/><stop offset="0.288" stop-color="#5634b2"/><stop offset="0.324" stop-color="#5e2ea8"/><stop offset="0.364" stop-color="#66299e"/><stop offset="0.411" stop-color="#6e2394"/><stop offset="0.594" stop-color="#751e8a"/><stop offset="1.000" stop-color="#771d88"/></linearGradient><linearGradient id="dg14" x1="0" y1="0" x2="0" y2="1"><stop offset="0.000" stop-color="#6eb17d"/><stop offset="0.009" stop-color="#67ad89"/><stop offset="0.018" stop-color="#60a993"/><stop offset="0.029" stop-color="#58a59f"/><stop offset="0.040" stop-color="#51a0ab"/><stop offset="0.056" stop-color="#4c98b5"/><stop offset="0.076" stop-color="#498ebf"/><stop offset="0.100" stop-color="#4584ca"/><stop offset="0.118" stop-color="#4379cd"/><stop offset="0.134" stop-color="#426ece"/><stop offset="0.152" stop-color="#4163cf"/><stop offset="0.172" stop-color="#4058d0"/><stop offset="0.194" stop-color="#3f4dd1"/><stop offset="0.223" stop-color="#4242cd"/><stop offset="0.243" stop-color="#4a3cc2"/><stop offset="0.266" stop-color="#5237b8"/><stop offset="0.292" stop-color="#5a31ad"/><stop offset="0.333" stop-color="#622ca3"/><stop offset="0.377" stop-color="#6a2699"/><stop offset="0.440" stop-color="#71218f"/><stop offset="1.000" stop-color="#771d87"/></linearGradient><linearGradient id="dg15" x1="0" y1="0" x2="0" y2="1"><stop offset="0.000" stop-color="#64ac8d"/><stop offset="0.009" stop-color="#5ea897"/><stop offset="0.020" stop-color="#56a3a3"/><stop offset="0.031" stop-color="#4f9fae"/><stop offset="0.051" stop-color="#4b94b9"/><stop offset="0.074" stop-color="#478ac4"/><stop offset="0.098" stop-color="#447ecc"/><stop offset="0.114" stop-color="#4373cd"/><stop offset="0.129" stop-color="#4169cf"/><stop offset="0.147" stop-color="#405ed0"/><stop offset="0.167" stop-color="#3f53d1"/><stop offset="0.190" stop-color="#3e49d2"/><stop offset="0.223" stop-color="#463fc8"/><stop offset="0.246" stop-color="#4e39bc"/><stop offset="0.270" stop-color="#5634b2"/><stop offset="0.301" stop-color="#5e2ea8"/><stop offset="0.348" stop-color="#66299d"/><stop offset="0.400" stop-color="#6e2393"/><stop offset="0.565" stop-color="#761e89"/><stop offset="1.000" stop-color="#771d87"/></linearGradient><linearGradient id="dg16" x1="0" y1="0" x2="0" y2="1"><stop offset="0.000" stop-color="#5ba69b"/><stop offset="0.011" stop-color="#54a2a6"/><stop offset="0.025" stop-color="#4e9cb1"/><stop offset="0.045" stop-color="#4a92bc"/><stop offset="0.067" stop-color="#4688c6"/><stop offset="0.087" stop-color="#447ecc"/><stop offset="0.103" stop-color="#4272ce"/><stop offset="0.118" stop-color="#4168cf"/><stop offset="0.136" stop-color="#405ed0"/><stop offset="0.156" stop-color="#3f53d1"/><stop offset="0.179" stop-color="#3e49d2"/><stop offset="0.212" stop-color="#463fc7"/><stop offset="0.237" stop-color="#4e3abd"/><stop offset="0.259" stop-color="#5634b3"/><stop offset="0.288" stop-color="#5e2fa9"/><stop offset="0.335" stop-color="#65299e"/><stop offset="0.386" stop-color="#6d2494"/><stop offset="0.482" stop-color="#751e8a"/><stop offset="1.000" stop-color="#771d87"/></linearGradient><linearGradient id="dg17" x1="0" y1="0" x2="0" y2="1"><stop offset="0.000" stop-color="#53a2a7"/><stop offset="0.013" stop-color="#4e9bb2"/><stop offset="0.033" stop-color="#4a91bc"/><stop offset="0.056" stop-color="#4687c6"/><stop offset="0.076" stop-color="#447dcc"/><stop offset="0.092" stop-color="#4272ce"/><stop offset="0.107" stop-color="#4168cf"/><stop offset="0.125" stop-color="#405dd0"/><stop offset="0.145" stop-color="#3f53d1"/><stop offset="0.167" stop-color="#3e49d2"/><stop offset="0.201" stop-color="#473fc7"/><stop offset="0.228" stop-color="#4e39bd"/><stop offset="0.252" stop-color="#5634b2"/><stop offset="0.283" stop-color="#5f2ea7"/><stop offset="0.330" stop-color="#66299d"/><stop offset="0.386" stop-color="#6e2393"/><stop offset="0.498" stop-color="#761e89"/><stop offset="1.000" stop-color="#771d87"/></linearGradient><linearGradient id="dg18" x1="0" y1="0" x2="0" y2="1"><stop offset="0.000" stop-color="#4e9db0"/><stop offset="0.020" stop-color="#4a92bb"/><stop offset="0.042" stop-color="#4688c5"/><stop offset="0.065" stop-color="#447dcc"/><stop offset="0.080" stop-color="#4272ce"/><stop offset="0.096" stop-color="#4168cf"/><stop offset="0.114" stop-color="#405dd0"/><stop offset="0.134" stop-color="#3f53d1"/><stop offset="0.156" stop-color="#3e49d2"/><stop offset="0.190" stop-color="#463fc7"/><stop offset="0.217" stop-color="#4e39bd"/><stop offset="0.243" stop-color="#5634b2"/><stop offset="0.275" stop-color="#5e2ea8"/><stop offset="0.321" stop-color="#66299d"/><stop offset="0.382" stop-color="#6e2393"/><stop offset="0.498" stop-color="#761e89"/><stop offset="1.000" stop-color="#771d87"/></linearGradient><linearGradient id="dg19" x1="0" y1="0" x2="0" y2="1"><stop offset="0.000" stop-color="#4c97b6"/><stop offset="0.022" stop-color="#488cc1"/><stop offset="0.047" stop-color="#4482cc"/><stop offset="0.063" stop-color="#4377cd"/><stop offset="0.078" stop-color="#426cce"/><stop offset="0.096" stop-color="#4161cf"/><stop offset="0.116" stop-color="#4056d0"/><stop offset="0.138" stop-color="#3f4cd1"/><stop offset="0.167" stop-color="#4342cc"/><stop offset="0.192" stop-color="#4a3cc2"/><stop offset="0.221" stop-color="#5237b8"/><stop offset="0.250" stop-color="#5a31ad"/><stop offset="0.283" stop-color="#622ca3"/><stop offset="0.339" stop-color="#6a2699"/><stop offset="0.408" stop-color="#71218f"/><stop offset="1.000" stop-color="#771d87"/></linearGradient><linearGradient id="dg20" x1="0" y1="0" x2="0" y2="1"><stop offset="0.000" stop-color="#4a92bc"/><stop offset="0.022" stop-color="#4688c6"/><stop offset="0.045" stop-color="#437ccd"/><stop offset="0.060" stop-color="#4271ce"/><stop offset="0.076" stop-color="#4167cf"/><stop offset="0.094" stop-color="#405dd0"/><stop offset="0.114" stop-color="#3f52d1"/><stop offset="0.136" stop-color="#3e48d2"/><stop offset="0.167" stop-color="#463fc7"/><stop offset="0.194" stop-color="#4e3abd"/><stop offset="0.225" stop-color="#5634b3"/><stop offset="0.257" stop-color="#5e2fa8"/><stop offset="0.297" stop-color="#65299e"/><stop offset="0.362" stop-color="#6d2494"/><stop offset="0.462" stop-color="#751e8a"/><stop offset="1.000" stop-color="#771c87"/></linearGradient><linearGradient id="dg21" x1="0" y1="0" x2="0" y2="1"><stop offset="0.000" stop-color="#488dc1"/><stop offset="0.025" stop-color="#4483cb"/><stop offset="0.040" stop-color="#4378cd"/><stop offset="0.056" stop-color="#426dce"/><stop offset="0.074" stop-color="#4162cf"/><stop offset="0.094" stop-color="#4057d0"/><stop offset="0.116" stop-color="#3f4cd1"/><stop offset="0.145" stop-color="#4242cd"/><stop offset="0.170" stop-color="#4a3cc2"/><stop offset="0.199" stop-color="#5237b8"/><stop offset="0.234" stop-color="#5a31ad"/><stop offset="0.268" stop-color="#622ca3"/><stop offset="0.321" stop-color="#6a2699"/><stop offset="0.397" stop-color="#71218f"/><stop offset="1.000" stop-color="#771c87"/></linearGradient><linearGradient id="dg22" x1="0" y1="0" x2="0" y2="1"><stop offset="0.000" stop-color="#4688c5"/><stop offset="0.022" stop-color="#447dcc"/><stop offset="0.038" stop-color="#4272ce"/><stop offset="0.054" stop-color="#4168cf"/><stop offset="0.071" stop-color="#405dd0"/><stop offset="0.092" stop-color="#3f53d1"/><stop offset="0.114" stop-color="#3e49d2"/><stop offset="0.147" stop-color="#463fc7"/><stop offset="0.174" stop-color="#4e39bd"/><stop offset="0.205" stop-color="#5634b3"/><stop offset="0.241" stop-color="#5e2fa8"/><stop offset="0.281" stop-color="#66299e"/><stop offset="0.350" stop-color="#6d2394"/><stop offset="0.458" stop-color="#751e8a"/><stop offset="1.000" stop-color="#771c87"/></linearGradient><linearGradient id="dg23" x1="0" y1="0" x2="0" y2="1"><stop offset="0.000" stop-color="#4584ca"/><stop offset="0.018" stop-color="#4379cd"/><stop offset="0.033" stop-color="#426ece"/><stop offset="0.051" stop-color="#4163cf"/><stop offset="0.071" stop-color="#4058d0"/><stop offset="0.094" stop-color="#3f4dd1"/><stop offset="0.121" stop-color="#4143ce"/><stop offset="0.145" stop-color="#493dc4"/><stop offset="0.174" stop-color="#5138b9"/><stop offset="0.210" stop-color="#5932af"/><stop offset="0.248" stop-color="#612ca4"/><stop offset="0.295" stop-color="#69279a"/><stop offset="0.375" stop-color="#702190"/><stop offset="1.000" stop-color="#771c87"/></linearGradient><linearGradient id="dg24" x1="0" y1="0" x2="0" y2="1"><stop offset="0.000" stop-color="#447fcc"/><stop offset="0.016" stop-color="#4374cd"/><stop offset="0.031" stop-color="#4269ce"/><stop offset="0.049" stop-color="#415fcf"/><stop offset="0.069" stop-color="#3f54d1"/><stop offset="0.092" stop-color="#3e4ad2"/><stop offset="0.125" stop-color="#4640c8"/><stop offset="0.152" stop-color="#4e3abe"/><stop offset="0.183" stop-color="#5534b3"/><stop offset="0.223" stop-color="#5d2fa9"/><stop offset="0.263" stop-color="#65299f"/><stop offset="0.328" stop-color="#6d2495"/><stop offset="0.431" stop-color="#741f8b"/><stop offset="1.000" stop-color="#771c87"/></linearGradient><linearGradient id="dg25" x1="0" y1="0" x2="0" y2="1"><stop offset="0.000" stop-color="#4378cd"/><stop offset="0.016" stop-color="#426ece"/><stop offset="0.033" stop-color="#4162cf"/><stop offset="0.054" stop-color="#4057d0"/><stop offset="0.076" stop-color="#3f4dd1"/><stop offset="0.105" stop-color="#4242cd"/><stop offset="0.129" stop-color="#4a3dc3"/><stop offset="0.158" stop-color="#5237b8"/><stop offset="0.194" stop-color="#5a31ae"/><stop offset="0.239" stop-color="#622ca3"/><stop offset="0.288" stop-color="#6a2699"/><stop offset="0.377" stop-color="#71218f"/><stop offset="1.000" stop-color="#771c87"/></linearGradient><linearGradient id="dg26" x1="0" y1="0" x2="0" y2="1"><stop offset="0.000" stop-color="#4272ce"/><stop offset="0.016" stop-color="#4168cf"/><stop offset="0.033" stop-color="#405dd0"/><stop offset="0.054" stop-color="#3f53d1"/><stop offset="0.076" stop-color="#3e49d2"/><stop offset="0.109" stop-color="#463fc7"/><stop offset="0.136" stop-color="#4e39bd"/><stop offset="0.167" stop-color="#5634b3"/><stop offset="0.208" stop-color="#5e2fa8"/><stop offset="0.252" stop-color="#65299e"/><stop offset="0.317" stop-color="#6d2494"/><stop offset="0.429" stop-color="#751e8a"/><stop offset="1.000" stop-color="#781c87"/></linearGradient><linearGradient id="dg27" x1="0" y1="0" x2="0" y2="1"><stop offset="0.000" stop-color="#426cce"/><stop offset="0.018" stop-color="#4161cf"/><stop offset="0.038" stop-color="#4056d0"/><stop offset="0.060" stop-color="#3f4bd1"/><stop offset="0.092" stop-color="#4441cb"/><stop offset="0.116" stop-color="#4b3cc1"/><stop offset="0.145" stop-color="#5336b6"/><stop offset="0.181" stop-color="#5b31ac"/><stop offset="0.228" stop-color="#622ba2"/><stop offset="0.279" stop-color="#6a2698"/><stop offset="0.375" stop-color="#72208e"/><stop offset="1.000" stop-color="#781c87"/></linearGradient><linearGradient id="dg28" x1="0" y1="0" x2="0" y2="1"><stop offset="0.000" stop-color="#4166cf"/><stop offset="0.018" stop-color="#405cd0"/><stop offset="0.038" stop-color="#3f51d1"/><stop offset="0.063" stop-color="#3e47d2"/><stop offset="0.089" stop-color="#463fc8"/><stop offset="0.116" stop-color="#4e3abd"/><stop offset="0.147" stop-color="#5634b3"/><stop offset="0.188" stop-color="#5e2fa9"/><stop offset="0.239" stop-color="#65299e"/><stop offset="0.301" stop-color="#6d2494"/><stop offset="0.422" stop-color="#751e8a"/><stop offset="1.000" stop-color="#781c87"/></linearGradient><linearGradient id="dg29" x1="0" y1="0" x2="0" y2="1"><stop offset="0.000" stop-color="#4161cf"/><stop offset="0.020" stop-color="#4056d0"/><stop offset="0.042" stop-color="#3f4bd1"/><stop offset="0.074" stop-color="#4441cb"/><stop offset="0.098" stop-color="#4b3cc1"/><stop offset="0.127" stop-color="#5336b6"/><stop offset="0.163" stop-color="#5b31ac"/><stop offset="0.210" stop-color="#622ba2"/><stop offset="0.266" stop-color="#6a2698"/><stop offset="0.362" stop-color="#72208e"/><stop offset="1.000" stop-color="#781c87"/></linearGradient><linearGradient id="dg30" x1="0" y1="0" x2="0" y2="1"><stop offset="0.000" stop-color="#405cd0"/><stop offset="0.020" stop-color="#3f52d1"/><stop offset="0.045" stop-color="#3e47d2"/><stop offset="0.074" stop-color="#463fc7"/><stop offset="0.100" stop-color="#4e3abd"/><stop offset="0.132" stop-color="#5634b3"/><stop offset="0.172" stop-color="#5e2fa8"/><stop offset="0.225" stop-color="#65299e"/><stop offset="0.288" stop-color="#6d2494"/><stop offset="0.415" stop-color="#751e8a"/><stop offset="1.000" stop-color="#781c87"/></linearGradient><linearGradient id="dg31" x1="0" y1="0" x2="0" y2="1"><stop offset="0.000" stop-color="#4058d0"/><stop offset="0.022" stop-color="#3f4dd1"/><stop offset="0.049" stop-color="#4143ce"/><stop offset="0.074" stop-color="#493dc4"/><stop offset="0.103" stop-color="#5138b9"/><stop offset="0.138" stop-color="#5932af"/><stop offset="0.183" stop-color="#612ca4"/><stop offset="0.241" stop-color="#69279a"/><stop offset="0.324" stop-color="#702290"/><stop offset="1.000" stop-color="#781c86"/></linearGradient><linearGradient id="dg32" x1="0" y1="0" x2="0" y2="1"><stop offset="0.000" stop-color="#3f54d1"/><stop offset="0.022" stop-color="#3e4ad2"/><stop offset="0.056" stop-color="#463fc8"/><stop offset="0.083" stop-color="#4e3abd"/><stop offset="0.114" stop-color="#5634b3"/><stop offset="0.154" stop-color="#5d2fa9"/><stop offset="0.208" stop-color="#65299f"/><stop offset="0.275" stop-color="#6d2494"/><stop offset="0.404" stop-color="#751e8a"/><stop offset="1.000" stop-color="#781c86"/></linearGradient><linearGradient id="dg33" x1="0" y1="0" x2="0" y2="1"><stop offset="0.000" stop-color="#3f50d1"/><stop offset="0.025" stop-color="#3e45d2"/><stop offset="0.049" stop-color="#463fc7"/><stop offset="0.076" stop-color="#4e3abd"/><stop offset="0.107" stop-color="#5634b3"/><stop offset="0.147" stop-color="#5e2fa8"/><stop offset="0.201" stop-color="#65299e"/><stop offset="0.270" stop-color="#6d2494"/><stop offset="0.402" stop-color="#751e8a"/><stop offset="1.000" stop-color="#781c86"/></linearGradient><linearGradient id="dg34" x1="0" y1="0" x2="0" y2="1"><stop offset="0.000" stop-color="#3f4cd1"/><stop offset="0.029" stop-color="#4242cc"/><stop offset="0.054" stop-color="#4a3cc2"/><stop offset="0.083" stop-color="#5237b8"/><stop offset="0.118" stop-color="#5a31ad"/><stop offset="0.165" stop-color="#622ca3"/><stop offset="0.232" stop-color="#6a2699"/><stop offset="0.324" stop-color="#71218f"/><stop offset="1.000" stop-color="#781c86"/></linearGradient><linearGradient id="dg35" x1="0" y1="0" x2="0" y2="1"><stop offset="0.000" stop-color="#3e49d2"/><stop offset="0.033" stop-color="#473fc7"/><stop offset="0.060" stop-color="#4e39bc"/><stop offset="0.094" stop-color="#5734b2"/><stop offset="0.134" stop-color="#5e2ea8"/><stop offset="0.190" stop-color="#66299e"/><stop offset="0.263" stop-color="#6e2393"/><stop offset="0.408" stop-color="#751e89"/><stop offset="1.000" stop-color="#781c86"/></linearGradient><linearGradient id="dg36" x1="0" y1="0" x2="0" y2="1"><stop offset="0.000" stop-color="#3e45d2"/><stop offset="0.025" stop-color="#463fc7"/><stop offset="0.051" stop-color="#4e3abd"/><stop offset="0.083" stop-color="#5634b3"/><stop offset="0.123" stop-color="#5e2fa8"/><stop offset="0.176" stop-color="#65299e"/><stop offset="0.252" stop-color="#6d2494"/><stop offset="0.391" stop-color="#751e8a"/><stop offset="1.000" stop-color="#781c86"/></linearGradient><linearGradient id="dg37" x1="0" y1="0" x2="0" y2="1"><stop offset="0.000" stop-color="#4143cf"/><stop offset="0.025" stop-color="#493dc4"/><stop offset="0.054" stop-color="#5138b9"/><stop offset="0.089" stop-color="#5932af"/><stop offset="0.134" stop-color="#612ca4"/><stop offset="0.196" stop-color="#69279a"/><stop offset="0.283" stop-color="#702190"/><stop offset="1.000" stop-color="#781c86"/></linearGradient><linearGradient id="dg38" x1="0" y1="0" x2="0" y2="1"><stop offset="0.000" stop-color="#4341cb"/><stop offset="0.025" stop-color="#4b3cc1"/><stop offset="0.054" stop-color="#5336b7"/><stop offset="0.089" stop-color="#5a31ad"/><stop offset="0.136" stop-color="#622ba3"/><stop offset="0.203" stop-color="#6a2699"/><stop offset="0.301" stop-color="#72218e"/><stop offset="1.000" stop-color="#781c86"/></linearGradient><linearGradient id="dg39" x1="0" y1="0" x2="0" y2="1"><stop offset="0.000" stop-color="#4640c8"/><stop offset="0.027" stop-color="#4e3abe"/><stop offset="0.058" stop-color="#5534b3"/><stop offset="0.098" stop-color="#5d2fa9"/><stop offset="0.152" stop-color="#65299f"/><stop offset="0.232" stop-color="#6d2495"/><stop offset="0.366" stop-color="#741e8b"/><stop offset="1.000" stop-color="#781c86"/></linearGradient><linearGradient id="dg40" x1="0" y1="0" x2="0" y2="1"><stop offset="0.000" stop-color="#483ec5"/><stop offset="0.027" stop-color="#5039bb"/><stop offset="0.060" stop-color="#5733b1"/><stop offset="0.103" stop-color="#5f2da6"/><stop offset="0.161" stop-color="#67289c"/><stop offset="0.248" stop-color="#6f2392"/><stop offset="0.429" stop-color="#761d88"/><stop offset="1.000" stop-color="#781c86"/></linearGradient><linearGradient id="dg41" x1="0" y1="0" x2="0" y2="1"><stop offset="0.000" stop-color="#4a3cc2"/><stop offset="0.029" stop-color="#5237b8"/><stop offset="0.065" stop-color="#5a31ae"/><stop offset="0.112" stop-color="#622ca3"/><stop offset="0.179" stop-color="#6a2699"/><stop offset="0.279" stop-color="#71218f"/><stop offset="1.000" stop-color="#781c86"/></linearGradient><linearGradient id="dg42" x1="0" y1="0" x2="0" y2="1"><stop offset="0.000" stop-color="#4c3bbf"/><stop offset="0.031" stop-color="#5435b5"/><stop offset="0.069" stop-color="#5c30ab"/><stop offset="0.121" stop-color="#642aa0"/><stop offset="0.196" stop-color="#6c2596"/><stop offset="0.321" stop-color="#731f8c"/><stop offset="1.000" stop-color="#781c86"/></linearGradient><linearGradient id="dg43" x1="0" y1="0" x2="0" y2="1"><stop offset="0.000" stop-color="#4e3abd"/><stop offset="0.031" stop-color="#5634b3"/><stop offset="0.071" stop-color="#5e2fa8"/><stop offset="0.125" stop-color="#65299e"/><stop offset="0.208" stop-color="#6d2494"/><stop offset="0.357" stop-color="#751e8a"/><stop offset="1.000" stop-color="#781c86"/></linearGradient><linearGradient id="dg44" x1="0" y1="0" x2="0" y2="1"><stop offset="0.000" stop-color="#5038ba"/><stop offset="0.033" stop-color="#5833b0"/><stop offset="0.076" stop-color="#602da6"/><stop offset="0.134" stop-color="#67289c"/><stop offset="0.230" stop-color="#6f2292"/><stop offset="0.426" stop-color="#771d88"/><stop offset="1.000" stop-color="#781c86"/></linearGradient><linearGradient id="dg45" x1="0" y1="0" x2="0" y2="1"><stop offset="0.000" stop-color="#5237b8"/><stop offset="0.036" stop-color="#5a31ae"/><stop offset="0.083" stop-color="#622ca3"/><stop offset="0.147" stop-color="#692699"/><stop offset="0.254" stop-color="#71218f"/><stop offset="1.000" stop-color="#781c86"/></linearGradient><linearGradient id="dg46" x1="0" y1="0" x2="0" y2="1"><stop offset="0.000" stop-color="#5436b6"/><stop offset="0.038" stop-color="#5b30ab"/><stop offset="0.087" stop-color="#632ba1"/><stop offset="0.158" stop-color="#6b2597"/><stop offset="0.277" stop-color="#73208d"/><stop offset="1.000" stop-color="#781c86"/></linearGradient><linearGradient id="dg47" x1="0" y1="0" x2="0" y2="1"><stop offset="0.000" stop-color="#5535b4"/><stop offset="0.040" stop-color="#5d2fa9"/><stop offset="0.094" stop-color="#65299f"/><stop offset="0.174" stop-color="#6d2495"/><stop offset="0.321" stop-color="#741f8b"/><stop offset="1.000" stop-color="#781c86"/></linearGradient><linearGradient id="dg48" x1="0" y1="0" x2="0" y2="1"><stop offset="0.000" stop-color="#5634b2"/><stop offset="0.040" stop-color="#5e2ea8"/><stop offset="0.096" stop-color="#66299e"/><stop offset="0.183" stop-color="#6e2393"/><stop offset="0.357" stop-color="#751e89"/><stop offset="1.000" stop-color="#781c86"/></linearGradient><linearGradient id="dg49" x1="0" y1="0" x2="0" y2="1"><stop offset="0.000" stop-color="#5833b0"/><stop offset="0.042" stop-color="#602da6"/><stop offset="0.100" stop-color="#67289c"/><stop offset="0.194" stop-color="#6f2292"/><stop offset="0.402" stop-color="#771d88"/><stop offset="1.000" stop-color="#781c86"/></linearGradient><linearGradient id="dg50" x1="0" y1="0" x2="0" y2="1"><stop offset="0.000" stop-color="#5932ae"/><stop offset="0.045" stop-color="#612ca4"/><stop offset="0.107" stop-color="#69279a"/><stop offset="0.214" stop-color="#702190"/><stop offset="1.000" stop-color="#781c86"/></linearGradient><linearGradient id="dg51" x1="0" y1="0" x2="0" y2="1"><stop offset="0.000" stop-color="#5a31ad"/><stop offset="0.047" stop-color="#622ba3"/><stop offset="0.114" stop-color="#6a2699"/><stop offset="0.234" stop-color="#72218e"/><stop offset="1.000" stop-color="#781c86"/></linearGradient><linearGradient id="dg52" x1="0" y1="0" x2="0" y2="1"><stop offset="0.000" stop-color="#5c30ab"/><stop offset="0.049" stop-color="#632ba1"/><stop offset="0.121" stop-color="#6b2597"/><stop offset="0.250" stop-color="#73208d"/><stop offset="1.000" stop-color="#781c86"/></linearGradient><linearGradient id="dg53" x1="0" y1="0" x2="0" y2="1"><stop offset="0.000" stop-color="#5d2faa"/><stop offset="0.051" stop-color="#642aa0"/><stop offset="0.129" stop-color="#6c2495"/><stop offset="0.277" stop-color="#741f8b"/><stop offset="1.000" stop-color="#781c86"/></linearGradient><linearGradient id="dg54" x1="0" y1="0" x2="0" y2="1"><stop offset="0.000" stop-color="#5e2ea8"/><stop offset="0.054" stop-color="#66299e"/><stop offset="0.136" stop-color="#6d2494"/><stop offset="0.304" stop-color="#751e8a"/><stop offset="1.000" stop-color="#781c86"/></linearGradient><linearGradient id="dg55" x1="0" y1="0" x2="0" y2="1"><stop offset="0.000" stop-color="#5f2ea7"/><stop offset="0.058" stop-color="#67289d"/><stop offset="0.150" stop-color="#6f2392"/><stop offset="0.362" stop-color="#761d88"/><stop offset="1.000" stop-color="#781c86"/></linearGradient><linearGradient id="dg56" x1="0" y1="0" x2="0" y2="1"><stop offset="0.000" stop-color="#602da6"/><stop offset="0.060" stop-color="#68289b"/><stop offset="0.158" stop-color="#6f2291"/><stop offset="0.413" stop-color="#771d87"/><stop offset="1.000" stop-color="#781c86"/></linearGradient></defs><rect x="175.8" y="211.4" width="56.35" height="112.50" fill="url(#dgl)"/><rect x="231.65" y="211.4" width="1.50" height="112.50" fill="url(#dg1)"/><rect x="232.65" y="211.4" width="1.50" height="112.50" fill="url(#dg2)"/><rect x="233.65" y="211.4" width="1.50" height="112.50" fill="url(#dg3)"/><rect x="234.65" y="211.4" width="1.50" height="112.50" fill="url(#dg4)"/><rect x="235.65" y="211.4" width="1.50" height="112.50" fill="url(#dg5)"/><rect x="236.65" y="211.4" width="1.50" height="112.50" fill="url(#dg6)"/><rect x="237.65" y="211.4" width="1.50" height="112.50" fill="url(#dg7)"/><rect x="238.65" y="211.4" width="1.50" height="112.50" fill="url(#dg8)"/><rect x="239.65" y="211.4" width="1.50" height="112.50" fill="url(#dg9)"/><rect x="240.65" y="211.4" width="1.50" height="112.50" fill="url(#dg10)"/><rect x="241.65" y="211.4" width="1.50" height="112.50" fill="url(#dg11)"/><rect x="242.65" y="211.4" width="1.50" height="112.50" fill="url(#dg12)"/><rect x="243.65" y="211.4" width="1.50" height="112.50" fill="url(#dg13)"/><rect x="244.65" y="211.4" width="1.50" height="112.50" fill="url(#dg14)"/><rect x="245.65" y="211.4" width="1.50" height="112.50" fill="url(#dg15)"/><rect x="246.65" y="211.4" width="1.50" height="112.50" fill="url(#dg16)"/><rect x="247.65" y="211.4" width="1.50" height="112.50" fill="url(#dg17)"/><rect x="248.65" y="211.4" width="1.50" height="112.50" fill="url(#dg18)"/><rect x="249.65" y="211.4" width="1.50" height="112.50" fill="url(#dg19)"/><rect x="250.65" y="211.4" width="1.50" height="112.50" fill="url(#dg20)"/><rect x="251.65" y="211.4" width="1.50" height="112.50" fill="url(#dg21)"/><rect x="252.65" y="211.4" width="1.50" height="112.50" fill="url(#dg22)"/><rect x="253.65" y="211.4" width="1.50" height="112.50" fill="url(#dg23)"/><rect x="254.65" y="211.4" width="1.50" height="112.50" fill="url(#dg24)"/><rect x="255.65" y="211.4" width="1.50" height="112.50" fill="url(#dg25)"/><rect x="256.65" y="211.4" width="1.50" height="112.50" fill="url(#dg26)"/><rect x="257.65" y="211.4" width="1.50" height="112.50" fill="url(#dg27)"/><rect x="258.65" y="211.4" width="1.50" height="112.50" fill="url(#dg28)"/><rect x="259.65" y="211.4" width="1.50" height="112.50" fill="url(#dg29)"/><rect x="260.65" y="211.4" width="1.50" height="112.50" fill="url(#dg30)"/><rect x="261.65" y="211.4" width="1.50" height="112.50" fill="url(#dg31)"/><rect x="262.65" y="211.4" width="1.50" height="112.50" fill="url(#dg32)"/><rect x="263.65" y="211.4" width="1.50" height="112.50" fill="url(#dg33)"/><rect x="264.65" y="211.4" width="1.50" height="112.50" fill="url(#dg34)"/><rect x="265.65" y="211.4" width="1.50" height="112.50" fill="url(#dg35)"/><rect x="266.65" y="211.4" width="1.50" height="112.50" fill="url(#dg36)"/><rect x="267.65" y="211.4" width="1.50" height="112.50" fill="url(#dg37)"/><rect x="268.65" y="211.4" width="1.50" height="112.50" fill="url(#dg38)"/><rect x="269.65" y="211.4" width="1.50" height="112.50" fill="url(#dg39)"/><rect x="270.65" y="211.4" width="1.50" height="112.50" fill="url(#dg40)"/><rect x="271.65" y="211.4" width="1.50" height="112.50" fill="url(#dg41)"/><rect x="272.65" y="211.4" width="1.50" height="112.50" fill="url(#dg42)"/><rect x="273.65" y="211.4" width="1.50" height="112.50" fill="url(#dg43)"/><rect x="274.65" y="211.4" width="1.50" height="112.50" fill="url(#dg44)"/><rect x="275.65" y="211.4" width="1.50" height="112.50" fill="url(#dg45)"/><rect x="276.65" y="211.4" width="1.50" height="112.50" fill="url(#dg46)"/><rect x="277.65" y="211.4" width="1.50" height="112.50" fill="url(#dg47)"/><rect x="278.65" y="211.4" width="1.50" height="112.50" fill="url(#dg48)"/><rect x="279.65" y="211.4" width="1.50" height="112.50" fill="url(#dg49)"/><rect x="280.65" y="211.4" width="1.50" height="112.50" fill="url(#dg50)"/><rect x="281.65" y="211.4" width="1.50" height="112.50" fill="url(#dg51)"/><rect x="282.65" y="211.4" width="1.50" height="112.50" fill="url(#dg52)"/><rect x="283.65" y="211.4" width="1.50" height="112.50" fill="url(#dg53)"/><rect x="284.65" y="211.4" width="1.50" height="112.50" fill="url(#dg54)"/><rect x="285.65" y="211.4" width="1.50" height="112.50" fill="url(#dg55)"/><rect x="286.65" y="211.4" width="0.85" height="112.50" fill="url(#dg56)"/><path d="M175.30 210.90 231.90 210.90 231.90 237.58 175.30 235.56Z" fill="#fff"/><path d="M231.35 210.90 231.35 237.58 231.65 237.58 231.77 236.91 231.89 236.23 232.01 235.16 232.13 233.56 232.25 231.97 232.37 230.53 232.49 229.89 232.49 229.89 232.75 228.50 233.01 227.10 233.27 225.57 233.53 223.84 233.79 222.51 234.05 221.23 234.31 219.94 234.57 218.66 234.83 217.47 235.09 216.72 235.35 215.96 235.61 215.20 235.87 214.46 236.13 213.82 236.39 213.19 236.65 212.56 236.91 211.92 237.17 210.90Z" fill="#fff"/><rect x="173.6" y="210.6" width="115.9" height="115.1" fill="none" stroke="#a8a8a8" stroke-width="0.7"/><path d="M175.80 325.7v-2.2M175.80 210.6v2.2M181.39 325.7v-1.2M181.39 210.6v1.2M186.97 325.7v-1.2M186.97 210.6v1.2M192.56 325.7v-1.2M192.56 210.6v1.2M198.14 325.7v-1.2M198.14 210.6v1.2M203.72 325.7v-2.2M203.72 210.6v2.2M209.31 325.7v-1.2M209.31 210.6v1.2M214.89 325.7v-1.2M214.89 210.6v1.2M220.48 325.7v-1.2M220.48 210.6v1.2M226.06 325.7v-1.2M226.06 210.6v1.2M231.65 325.7v-2.2M231.65 210.6v2.2M237.23 325.7v-1.2M237.23 210.6v1.2M242.82 325.7v-1.2M242.82 210.6v1.2M248.41 325.7v-1.2M248.41 210.6v1.2M253.99 325.7v-1.2M253.99 210.6v1.2M259.57 325.7v-2.2M259.57 210.6v2.2M265.16 325.7v-1.2M265.16 210.6v1.2M270.75 325.7v-1.2M270.75 210.6v1.2M276.33 325.7v-1.2M276.33 210.6v1.2M281.91 325.7v-1.2M281.91 210.6v1.2M287.50 325.7v-2.2M287.50 210.6v2.2M173.6 323.90h2.2M289.5 323.90h-2.2M173.6 318.27h1.2M289.5 318.27h-1.2M173.6 312.65h1.2M289.5 312.65h-1.2M173.6 307.02h1.2M289.5 307.02h-1.2M173.6 301.40h1.2M289.5 301.40h-1.2M173.6 295.77h2.2M289.5 295.77h-2.2M173.6 290.15h1.2M289.5 290.15h-1.2M173.6 284.52h1.2M289.5 284.52h-1.2M173.6 278.90h1.2M289.5 278.90h-1.2M173.6 273.27h1.2M289.5 273.27h-1.2M173.6 267.65h2.2M289.5 267.65h-2.2M173.6 262.03h1.2M289.5 262.03h-1.2M173.6 256.40h1.2M289.5 256.40h-1.2M173.6 250.78h1.2M289.5 250.78h-1.2M173.6 245.15h1.2M289.5 245.15h-1.2M173.6 239.53h2.2M289.5 239.53h-2.2M173.6 233.90h1.2M289.5 233.90h-1.2M173.6 228.28h1.2M289.5 228.28h-1.2M173.6 222.65h1.2M289.5 222.65h-1.2M173.6 217.03h1.2M289.5 217.03h-1.2M173.6 211.40h2.2M289.5 211.40h-2.2" stroke="#909090" stroke-width="0.6" fill="none"/><text x="175.8" y="337.44" font-family="'Liberation Sans', sans-serif" font-size="10.1" font-weight="bold" text-anchor="middle" textLength="11.86" lengthAdjust="spacingAndGlyphs" fill="#000">−2</text><text x="171.6" y="328.14" font-family="'Liberation Sans', sans-serif" font-size="10.1" font-weight="bold" text-anchor="end" textLength="11.86" lengthAdjust="spacingAndGlyphs" fill="#000">−2</text><text x="203.73" y="337.44" font-family="'Liberation Sans', sans-serif" font-size="10.1" font-weight="bold" text-anchor="middle" textLength="11.86" lengthAdjust="spacingAndGlyphs" fill="#000">−1</text><text x="171.6" y="300.01" font-family="'Liberation Sans', sans-serif" font-size="10.1" font-weight="bold" text-anchor="end" textLength="11.86" lengthAdjust="spacingAndGlyphs" fill="#000">−1</text><text x="231.65" y="337.44" font-family="'Liberation Sans', sans-serif" font-size="10.1" font-weight="bold" text-anchor="middle" textLength="5.78" lengthAdjust="spacingAndGlyphs" fill="#000">0</text><text x="171.6" y="271.89" font-family="'Liberation Sans', sans-serif" font-size="10.1" font-weight="bold" text-anchor="end" textLength="5.78" lengthAdjust="spacingAndGlyphs" fill="#000">0</text><text x="259.57" y="337.44" font-family="'Liberation Sans', sans-serif" font-size="10.1" font-weight="bold" text-anchor="middle" textLength="5.78" lengthAdjust="spacingAndGlyphs" fill="#000">1</text><text x="171.6" y="243.76" font-family="'Liberation Sans', sans-serif" font-size="10.1" font-weight="bold" text-anchor="end" textLength="5.78" lengthAdjust="spacingAndGlyphs" fill="#000">1</text><text x="287.5" y="337.44" font-family="'Liberation Sans', sans-serif" font-size="10.1" font-weight="bold" text-anchor="middle" textLength="5.78" lengthAdjust="spacingAndGlyphs" fill="#000">2</text><text x="171.6" y="215.64" font-family="'Liberation Sans', sans-serif" font-size="10.1" font-weight="bold" text-anchor="end" textLength="5.78" lengthAdjust="spacingAndGlyphs" fill="#000">2</text><text x="231.6" y="354.6" font-family="'Liberation Sans', sans-serif" font-size="15.2" font-weight="bold" text-anchor="middle" fill="#000">x</text><g transform="translate(153.5,268.2) rotate(-90)"><text x="0" y="0" font-family="Liberation Sans, sans-serif" font-size="13.5" font-weight="bold" text-anchor="middle">t</text></g><defs><linearGradient id="cbd" x1="0" y1="1" x2="0" y2="0"><stop offset="0.000" stop-color="#781c86"/><stop offset="0.025" stop-color="#6b2597"/><stop offset="0.050" stop-color="#5e2ea8"/><stop offset="0.075" stop-color="#5138b9"/><stop offset="0.100" stop-color="#4441ca"/><stop offset="0.125" stop-color="#3f4dd1"/><stop offset="0.150" stop-color="#405ad0"/><stop offset="0.175" stop-color="#4168cf"/><stop offset="0.200" stop-color="#4376cd"/><stop offset="0.225" stop-color="#4483cb"/><stop offset="0.250" stop-color="#4789c4"/><stop offset="0.275" stop-color="#4990be"/><stop offset="0.300" stop-color="#4c96b7"/><stop offset="0.325" stop-color="#4e9db0"/><stop offset="0.350" stop-color="#54a2a6"/><stop offset="0.375" stop-color="#5ba69b"/><stop offset="0.400" stop-color="#62aa90"/><stop offset="0.425" stop-color="#69af85"/><stop offset="0.450" stop-color="#72b37a"/><stop offset="0.475" stop-color="#7db672"/><stop offset="0.500" stop-color="#89ba69"/><stop offset="0.525" stop-color="#95bd60"/><stop offset="0.550" stop-color="#a0c058"/><stop offset="0.575" stop-color="#aabf52"/><stop offset="0.600" stop-color="#b2bc4c"/><stop offset="0.625" stop-color="#bbb947"/><stop offset="0.650" stop-color="#c3b642"/><stop offset="0.675" stop-color="#cbb23e"/><stop offset="0.700" stop-color="#d1ac3d"/><stop offset="0.725" stop-color="#d8a63d"/><stop offset="0.750" stop-color="#dea03c"/><stop offset="0.775" stop-color="#e49b3c"/><stop offset="0.800" stop-color="#e48e39"/><stop offset="0.825" stop-color="#e48136"/><stop offset="0.850" stop-color="#e37433"/><stop offset="0.875" stop-color="#e26730"/><stop offset="0.900" stop-color="#e15b2e"/><stop offset="0.925" stop-color="#e04e2d"/><stop offset="0.950" stop-color="#df422d"/><stop offset="0.975" stop-color="#dd362c"/><stop offset="1.000" stop-color="#dc2a2c"/></linearGradient></defs><rect x="296.2" y="237.9" width="5.900000000000034" height="82.9" fill="url(#cbd)"/><text x="305.2" y="324.94" font-family="'Liberation Sans', sans-serif" font-size="10.1" font-weight="bold" textLength="5.78" lengthAdjust="spacingAndGlyphs" fill="#000">0</text><text x="305.2" y="308.29" font-family="'Liberation Sans', sans-serif" font-size="10.1" font-weight="bold" textLength="17.35" lengthAdjust="spacingAndGlyphs" fill="#000">100</text><text x="305.2" y="291.64" font-family="'Liberation Sans', sans-serif" font-size="10.1" font-weight="bold" textLength="17.35" lengthAdjust="spacingAndGlyphs" fill="#000">200</text><text x="305.2" y="274.99" font-family="'Liberation Sans', sans-serif" font-size="10.1" font-weight="bold" textLength="17.35" lengthAdjust="spacingAndGlyphs" fill="#000">300</text><text x="305.2" y="258.34" font-family="'Liberation Sans', sans-serif" font-size="10.1" font-weight="bold" textLength="17.35" lengthAdjust="spacingAndGlyphs" fill="#000">400</text><circle cx="454.0" cy="275.7" r="18.4" fill="none" stroke="#d0d0d0" stroke-width="0.6"/><circle cx="454.0" cy="275.7" r="36.8" fill="none" stroke="#d0d0d0" stroke-width="0.6"/><circle cx="454.0" cy="275.7" r="55.2" fill="none" stroke="#d0d0d0" stroke-width="0.6"/><circle cx="454.0" cy="275.7" r="73.6" fill="none" stroke="#d0d0d0" stroke-width="0.6"/><polyline points="519.60,275.90 519.55,273.32 519.40,270.75 519.15,268.19 518.79,265.64 518.34,263.10 517.79,260.59 517.14,258.09 516.39,255.63 515.55,253.19 514.61,250.80 513.57,248.44 512.45,246.12 511.24,243.85 509.93,241.62 508.54,239.45 507.07,237.34 505.52,235.29 503.88,233.30 502.17,231.37 500.39,229.51 498.53,227.73 496.60,226.02 494.61,224.38 492.56,222.83 490.45,221.36 488.28,219.97 486.05,218.66 483.78,217.45 481.46,216.33 479.10,215.29 476.71,214.35 474.27,213.51 471.81,212.76 469.31,212.11 466.80,211.56 464.26,211.11 461.71,210.75 459.15,210.50 456.58,210.35 454.00,210.30" fill="none" stroke="#c9bb3e" stroke-width="1.1" stroke-opacity="1"/><polyline points="454.00,210.30 451.42,210.35 448.85,210.50 446.29,210.75 443.74,211.11 441.20,211.56 438.69,212.11 436.19,212.76 433.73,213.51 431.29,214.35 428.90,215.29 426.54,216.33 424.22,217.45 421.95,218.66 419.72,219.97 417.55,221.36 415.44,222.83 413.39,224.38 411.40,226.02 409.47,227.73 407.61,229.51 405.83,231.37 404.12,233.30 402.48,235.29 400.93,237.34 399.46,239.45 398.07,241.62 396.76,243.85 395.55,246.12 394.43,248.44 393.39,250.80 392.45,253.19 391.61,255.63 390.86,258.09 390.21,260.59 389.66,263.10 389.21,265.64 388.85,268.19 388.60,270.75 388.45,273.32 388.40,275.90" fill="none" stroke="#e3903a" stroke-width="1.1" stroke-opacity="1"/><polyline points="388.40,275.90 388.45,278.48 388.60,281.05 388.85,283.61 389.21,286.16 389.66,288.70 390.21,291.21 390.86,293.71 391.61,296.17 392.45,298.61 393.39,301.00 394.43,303.36 395.55,305.68 396.76,307.95 398.07,310.18 399.46,312.35 400.93,314.46 402.48,316.51 404.12,318.50 405.83,320.43 407.61,322.29 409.47,324.07 411.40,325.78 413.39,327.42 415.44,328.97 417.55,330.44 419.72,331.83 421.95,333.14 424.22,334.35 426.54,335.47 428.90,336.51 431.29,337.45 433.73,338.29 436.19,339.04 438.69,339.69 441.20,340.24 443.74,340.69 446.29,341.05 448.85,341.30 451.42,341.45 454.00,341.50" fill="none" stroke="#e26232" stroke-width="1.1" stroke-opacity="1"/><polyline points="454.00,341.50 456.58,341.45 459.15,341.30 461.71,341.05 464.26,340.69 466.80,340.24 469.31,339.69 471.81,339.04 474.27,338.29 476.71,337.45 479.10,336.51 481.46,335.47 483.78,334.35 486.05,333.14 488.28,331.83 490.45,330.44 492.56,328.97 494.61,327.42 496.60,325.78 498.53,324.07 500.39,322.29 502.17,320.43 503.88,318.50 505.52,316.51 507.07,314.46 508.54,312.35 509.93,310.18 511.24,307.95 512.45,305.68 513.57,303.36 514.61,301.00 515.55,298.61 516.39,296.17 517.14,293.71 517.79,291.21 518.34,288.70 518.79,286.16 519.15,283.61 519.40,281.05 519.55,278.48 519.60,275.90" fill="none" stroke="#d8333a" stroke-width="1.1" stroke-opacity="1"/><polyline points="448.24,210.05 445.94,210.29 443.66,210.61 441.39,211.01 439.13,211.49 436.89,212.05 434.67,212.69 432.48,213.40 430.31,214.19 428.17,215.05 426.06,215.99 423.99,217.00 421.95,218.09 419.96,219.24 418.00,220.46 416.09,221.75 414.22,223.11 412.40,224.53 410.63,226.01 408.92,227.56 407.26,229.16 405.66,230.82 404.11,232.53 402.63,234.30 401.21,236.12 399.85,237.99 398.56,239.90 397.34,241.86 396.19,243.85 395.10,245.89 394.09,247.96 393.15,250.07 392.29,252.21 391.50,254.38 390.79,256.57 390.15,258.79 389.59,261.03 389.11,263.29 388.71,265.56 388.39,267.84 388.15,270.14" fill="none" stroke="#5a2fa8" stroke-width="0.8" stroke-opacity="1"/><polyline points="388.95,270.21 388.82,271.91 388.74,273.62 388.70,275.33 388.71,277.04 388.76,278.75 388.86,280.46 389.00,282.16 389.19,283.86 389.42,285.55 389.69,287.24 390.01,288.92 390.37,290.59 390.78,292.25 391.23,293.90 391.72,295.54 392.26,297.16 392.84,298.77 393.45,300.36 394.12,301.94 394.82,303.50 395.56,305.04 396.34,306.56 397.17,308.06 398.03,309.53 398.93,310.99 399.86,312.42 400.84,313.82 401.85,315.20 402.90,316.55 403.98,317.87 405.09,319.17 406.24,320.43 407.42,321.67 408.64,322.87 409.88,324.04 411.16,325.18 412.46,326.29 413.80,327.36 415.16,328.39 416.55,329.39" fill="none" stroke="#5a2fa8" stroke-width="0.6" stroke-opacity="0.6"/><path d="M380.20 275.7v-2.0M454.0 201.90h2.0M385.12 275.7v-1.2M454.0 206.82h1.2M390.04 275.7v-1.2M454.0 211.74h1.2M394.96 275.7v-1.2M454.0 216.66h1.2M399.88 275.7v-1.2M454.0 221.58h1.2M404.80 275.7v-2.0M454.0 226.50h2.0M409.72 275.7v-1.2M454.0 231.42h1.2M414.64 275.7v-1.2M454.0 236.34h1.2M419.56 275.7v-1.2M454.0 241.26h1.2M424.48 275.7v-1.2M454.0 246.18h1.2M429.40 275.7v-2.0M454.0 251.10h2.0M434.32 275.7v-1.2M454.0 256.02h1.2M439.24 275.7v-1.2M454.0 260.94h1.2M444.16 275.7v-1.2M454.0 265.86h1.2M449.08 275.7v-1.2M454.0 270.78h1.2M454.00 275.7v-2.0M454.0 275.70h2.0M458.92 275.7v-1.2M454.0 280.62h1.2M463.84 275.7v-1.2M454.0 285.54h1.2M468.76 275.7v-1.2M454.0 290.46h1.2M473.68 275.7v-1.2M454.0 295.38h1.2M478.60 275.7v-2.0M454.0 300.30h2.0M483.52 275.7v-1.2M454.0 305.22h1.2M488.44 275.7v-1.2M454.0 310.14h1.2M493.36 275.7v-1.2M454.0 315.06h1.2M498.28 275.7v-1.2M454.0 319.98h1.2M503.20 275.7v-2.0M454.0 324.90h2.0M508.12 275.7v-1.2M454.0 329.82h1.2M513.04 275.7v-1.2M454.0 334.74h1.2M517.96 275.7v-1.2M454.0 339.66h1.2M522.88 275.7v-1.2M454.0 344.58h1.2M527.80 275.7v-2.0M454.0 349.50h2.0" stroke="#808080" stroke-width="0.6" fill="none"/><line x1="376.8" y1="275.7" x2="531.7" y2="275.7" stroke="#707070" stroke-width="1.15"/><line x1="454.0" y1="198.8" x2="454.0" y2="352.4" stroke="#707070" stroke-width="1.15"/><text x="451.8" y="205.86" font-family="'Liberation Sans', sans-serif" font-size="11.8" font-weight="bold" text-anchor="end" textLength="24.11" lengthAdjust="spacingAndGlyphs" fill="#000">0.15</text><text x="451.8" y="230.65" font-family="'Liberation Sans', sans-serif" font-size="11.8" font-weight="bold" text-anchor="end" textLength="24.11" lengthAdjust="spacingAndGlyphs" fill="#000">0.10</text><text x="451.8" y="255.45" font-family="'Liberation Sans', sans-serif" font-size="11.8" font-weight="bold" text-anchor="end" textLength="24.11" lengthAdjust="spacingAndGlyphs" fill="#000">0.05</text><text x="451.8" y="305.04" font-family="'Liberation Sans', sans-serif" font-size="11.8" font-weight="bold" text-anchor="end" textLength="31.35" lengthAdjust="spacingAndGlyphs" fill="#000">−0.05</text><text x="451.8" y="329.84" font-family="'Liberation Sans', sans-serif" font-size="11.8" font-weight="bold" text-anchor="end" textLength="31.35" lengthAdjust="spacingAndGlyphs" fill="#000">−0.10</text><text x="451.8" y="354.64" font-family="'Liberation Sans', sans-serif" font-size="11.8" font-weight="bold" text-anchor="end" textLength="31.35" lengthAdjust="spacingAndGlyphs" fill="#000">−0.15</text><text x="479.7" y="288.75" font-family="'Liberation Sans', sans-serif" font-size="11.8" font-weight="bold" text-anchor="middle" textLength="24.11" lengthAdjust="spacingAndGlyphs" fill="#000">0.05</text><text x="504.3" y="288.75" font-family="'Liberation Sans', sans-serif" font-size="11.8" font-weight="bold" text-anchor="middle" textLength="24.11" lengthAdjust="spacingAndGlyphs" fill="#000">0.10</text><text x="528.9" y="288.75" font-family="'Liberation Sans', sans-serif" font-size="11.8" font-weight="bold" text-anchor="middle" textLength="24.11" lengthAdjust="spacingAndGlyphs" fill="#000">0.15</text><text x="427.8" y="288.75" font-family="'Liberation Sans', sans-serif" font-size="11.8" font-weight="bold" text-anchor="middle" textLength="31.35" lengthAdjust="spacingAndGlyphs" fill="#000">−0.05</text><text x="403.2" y="288.75" font-family="'Liberation Sans', sans-serif" font-size="11.8" font-weight="bold" text-anchor="middle" textLength="31.35" lengthAdjust="spacingAndGlyphs" fill="#000">−0.10</text><text x="378.6" y="288.75" font-family="'Liberation Sans', sans-serif" font-size="11.8" font-weight="bold" text-anchor="middle" textLength="31.35" lengthAdjust="spacingAndGlyphs" fill="#000">−0.15</text><text x="540.8" y="280.2" font-family="'Liberation Sans', sans-serif" font-size="14" font-weight="bold" text-anchor="middle" fill="#000">x</text><text x="453.9" y="191.4" font-family="'Liberation Sans', sans-serif" font-size="17" font-weight="bold" text-anchor="middle" fill="#000">t</text><path d="M23.6 104.5 L69.8 62.4 L68.9 36.2 L18.7 75.3Z" fill="#ffffff"/><path d="M69.8 62.4 L139.1 83.5 L143.1 55.7 L68.9 36.2Z" fill="#ffffff"/><path d="M23.5 104.0L69.8 61.9L139.2 83.0M22.5 98.1L69.6 56.5L140.0 77.3M21.5 92.0L69.4 51.0L140.9 71.5M20.4 85.7L69.2 45.4L141.7 65.5M19.3 79.2L69.0 39.6L142.6 59.3M37.3 92.0L33.8 63.6M49.0 81.3L46.5 53.7M59.6 71.7L57.9 44.7M86.3 67.4L86.4 40.8M102.6 72.4L103.9 45.4M119.9 77.6L122.4 50.2" fill="none" stroke="#c4c4c4" stroke-width="0.55" stroke-dasharray="1.2,0.8"/><path d="M23.6 104.5L69.8 62.4M69.8 62.4L139.1 83.5M23.6 104.5L18.7 75.3M69.8 62.4L68.9 36.2M139.1 83.5L143.1 55.7M18.7 75.3L68.9 36.2M68.9 36.2L143.1 55.7" fill="none" stroke="#8a8a8a" stroke-width="0.55"/><path d="M25.2 103.6 L61.8 118.3 L102.1 72.4 L70.1 62.7Z" fill="#8027ba"/><path d="M61.9 118.3 L103.4 134.9 L137.8 83.3 L102.3 72.5Z" fill="#8e1ea8"/><path d="M28.6 100.6L64.8 114.8M65.0 114.8L106.0 130.9M29.6 105.4L74.0 63.8M31.9 97.6L67.8 111.4M67.9 111.5L108.6 127.1M34.0 107.1L77.8 65.0M35.1 94.7L70.7 108.1M70.8 108.2L111.1 123.4M38.4 108.9L81.8 66.2M38.2 91.8L73.5 104.9M73.6 105.0L113.5 119.8M43.0 110.7L85.8 67.4M41.2 89.0L76.2 101.8M76.4 101.9L115.8 116.2M47.6 112.6L89.8 68.6M44.2 86.3L78.9 98.8M79.0 98.8L118.1 112.8M52.3 114.5L93.9 69.9M47.1 83.7L81.5 95.8M81.6 95.9L120.3 109.5M57.0 116.4L98.0 71.2M49.9 81.1L84.0 93.0M84.2 93.0L122.5 106.3M52.6 78.6L86.5 90.2M86.6 90.2L124.6 103.1M66.7 120.2L106.4 73.7M55.3 76.2L88.9 87.4M89.0 87.5L126.6 100.1M71.7 122.2L110.7 75.0M57.9 73.8L91.2 84.8M91.4 84.8L128.6 97.1M76.8 124.3L115.1 76.4M60.5 71.5L93.5 82.2M93.7 82.2L130.5 94.2M81.9 126.3L119.5 77.7M63.0 69.2L95.8 79.7M95.9 79.7L132.4 91.3M87.2 128.4L124.0 79.1M65.4 67.0L97.9 77.2M98.1 77.2L134.2 88.6M92.5 130.5L128.5 80.5M67.8 64.8L100.1 74.8M100.2 74.8L136.0 85.9M97.9 132.7L133.1 81.9" class="m"/><defs><linearGradient id="wallg" gradientUnits="userSpaceOnUse" x1="62.27" y1="89.79" x2="74.88" y2="48.35"><stop offset="0.0000" stop-color="#7031d1"/><stop offset="0.0787" stop-color="#6c33d6"/><stop offset="0.1523" stop-color="#6535d5"/><stop offset="0.1684" stop-color="#6037da"/><stop offset="0.1852" stop-color="#593adf"/><stop offset="0.2026" stop-color="#533de5"/><stop offset="0.2207" stop-color="#4b41eb"/><stop offset="0.2333" stop-color="#4644f0"/><stop offset="0.2530" stop-color="#434aee"/><stop offset="0.2737" stop-color="#4351e9"/><stop offset="0.2882" stop-color="#4356e5"/><stop offset="0.3032" stop-color="#435ce2"/><stop offset="0.3189" stop-color="#4362de"/><stop offset="0.3353" stop-color="#4368da"/><stop offset="0.3524" stop-color="#4470da"/><stop offset="0.3695" stop-color="#4477d6"/><stop offset="0.3873" stop-color="#457ace"/><stop offset="0.4059" stop-color="#467dc7"/><stop offset="0.4255" stop-color="#4780bf"/><stop offset="0.4459" stop-color="#4885b8"/><stop offset="0.4662" stop-color="#4b8ab4"/><stop offset="0.4865" stop-color="#4e8dab"/><stop offset="0.4970" stop-color="#518ea5"/><stop offset="0.5078" stop-color="#54909f"/><stop offset="0.5187" stop-color="#569199"/><stop offset="0.5300" stop-color="#599293"/><stop offset="0.5526" stop-color="#639a8c"/><stop offset="0.5625" stop-color="#669b87"/><stop offset="0.5726" stop-color="#689c82"/><stop offset="0.5828" stop-color="#6b9d7d"/><stop offset="0.6038" stop-color="#749f74"/><stop offset="0.6254" stop-color="#7ea16b"/><stop offset="0.6365" stop-color="#83a267"/><stop offset="0.6478" stop-color="#89a463"/><stop offset="0.6698" stop-color="#92a65b"/><stop offset="0.6926" stop-color="#9ca653"/><stop offset="0.7161" stop-color="#a3a34d"/><stop offset="0.7405" stop-color="#a79c45"/><stop offset="0.7553" stop-color="#ac9a41"/><stop offset="0.7704" stop-color="#b1983d"/><stop offset="0.8019" stop-color="#ba913a"/><stop offset="0.8346" stop-color="#c38939"/><stop offset="0.8682" stop-color="#cb8138"/><stop offset="0.8856" stop-color="#cc7836"/><stop offset="0.9035" stop-color="#cb6f33"/><stop offset="0.9217" stop-color="#ca6531"/><stop offset="0.9404" stop-color="#c95b2e"/><stop offset="0.9595" stop-color="#c8502b"/><stop offset="0.9791" stop-color="#c7462a"/><stop offset="1.0000" stop-color="#c53c2a"/></linearGradient></defs><path d="M79.7 96.5 L79.8 96.3 L80.0 96.2 L80.1 96.0 L80.2 95.9 L80.4 95.7 L80.5 95.6 L80.6 95.4 L80.7 95.3 L80.9 95.1 L81.0 94.9 L81.1 94.8 L81.3 94.6 L81.4 94.5 L81.5 94.3 L81.6 94.2 L81.8 94.0 L81.9 93.9 L82.0 93.7 L82.2 93.6 L82.3 93.4 L82.4 93.3 L82.5 93.1 L82.7 92.9 L82.8 92.8 L82.9 92.6 L83.1 92.5 L83.2 92.3 L83.3 92.2 L83.4 92.0 L83.6 91.9 L83.7 91.7 L83.8 91.6 L83.9 91.4 L84.1 91.3 L84.2 91.1 L84.3 91.0 L84.4 90.8 L84.6 90.6 L84.7 90.4 L84.8 90.2 L84.9 89.9 L85.1 89.7 L85.2 89.5 L85.3 89.3 L85.4 89.0 L85.6 88.8 L85.7 88.6 L85.8 88.3 L85.9 88.1 L86.0 87.8 L86.2 87.5 L86.3 87.3 L86.4 87.0 L86.5 86.7 L86.7 86.5 L86.8 86.2 L86.9 85.9 L87.0 85.6 L87.2 85.3 L87.3 85.0 L87.4 84.7 L87.5 84.3 L87.7 84.0 L87.8 83.7 L87.9 83.3 L88.0 83.0 L88.2 82.6 L88.3 82.2 L88.4 81.9 L88.5 81.5 L88.6 81.1 L88.8 80.7 L88.9 80.3 L89.0 79.9 L89.1 79.5 L89.3 79.1 L89.4 78.6 L89.5 78.2 L89.6 77.7 L89.8 77.3 L89.9 76.9 L90.0 76.4 L90.1 76.0 L90.3 75.5 L90.4 75.0 L90.5 74.5 L90.6 74.0 L90.8 73.6 L90.9 73.2 L91.0 72.7 L91.1 72.3 L91.3 71.8 L91.4 71.4 L91.5 70.9 L91.7 70.4 L91.8 69.9 L91.9 69.5 L92.0 69.0 L92.2 68.5 L92.3 68.0 L92.4 67.5 L92.5 67.0 L92.7 66.4 L92.8 65.9 L92.9 65.3 L93.1 64.6 L93.2 63.9 L93.3 63.2 L93.5 62.5 L93.6 61.8 L93.7 61.0 L93.9 60.3 L94.0 59.5 L94.1 58.7 L94.3 57.9 L94.4 57.1 L94.5 56.2 L94.7 55.3 L94.8 54.4 L60.4 43.9 L60.3 44.8 L60.2 45.7 L60.1 46.5 L60.0 47.3 L59.9 48.0 L59.8 48.8 L59.7 49.5 L59.6 50.3 L59.5 51.0 L59.4 51.6 L59.3 52.3 L59.2 53.0 L59.1 53.7 L59.0 54.3 L58.9 54.9 L58.8 55.4 L58.7 55.9 L58.6 56.4 L58.5 56.9 L58.4 57.4 L58.3 57.8 L58.2 58.3 L58.0 58.7 L57.9 59.2 L57.8 59.6 L57.7 60.1 L57.6 60.5 L57.5 61.0 L57.4 61.4 L57.3 61.8 L57.1 62.2 L57.0 62.6 L56.9 63.1 L56.8 63.5 L56.7 64.0 L56.6 64.4 L56.5 64.9 L56.4 65.3 L56.3 65.7 L56.1 66.1 L56.0 66.5 L55.9 66.9 L55.8 67.4 L55.7 67.8 L55.6 68.2 L55.5 68.6 L55.3 69.0 L55.2 69.3 L55.1 69.7 L55.0 70.0 L54.9 70.4 L54.8 70.7 L54.6 71.1 L54.5 71.4 L54.4 71.7 L54.3 72.0 L54.2 72.4 L54.0 72.7 L53.9 73.0 L53.8 73.2 L53.7 73.5 L53.5 73.8 L53.4 74.1 L53.3 74.3 L53.2 74.6 L53.0 74.9 L52.9 75.1 L52.8 75.4 L52.7 75.6 L52.5 75.8 L52.4 76.1 L52.3 76.3 L52.2 76.5 L52.0 76.7 L51.9 76.9 L51.8 77.2 L51.6 77.4 L51.5 77.6 L51.4 77.8 L51.2 78.0 L51.1 78.2 L51.0 78.4 L50.8 78.5 L50.7 78.6 L50.6 78.8 L50.4 78.9 L50.3 79.0 L50.2 79.2 L50.0 79.3 L49.9 79.5 L49.7 79.6 L49.6 79.7 L49.5 79.9 L49.3 80.0 L49.2 80.1 L49.0 80.3 L48.9 80.4 L48.8 80.5 L48.6 80.7 L48.5 80.8 L48.3 81.0 L48.2 81.1 L48.1 81.2 L47.9 81.4 L47.8 81.5 L47.6 81.6 L47.5 81.8 L47.4 81.9 L47.2 82.1 L47.1 82.2 L46.9 82.3 L46.8 82.5 L46.6 82.6 L46.5 82.8 L46.4 82.9 L46.2 83.0 L46.1 83.2 L45.9 83.3 L45.8 83.4Z" fill="url(#wallg)"/><path d="M49.8 85.0 L50.4 84.4 L50.9 83.9 L51.5 83.3 L52.1 82.8 L52.6 82.2 L53.2 81.6 L53.7 81.1 L54.3 80.5 L54.8 80.0 L55.4 79.2 L55.9 78.4 L56.4 77.5 L56.9 76.6 L57.4 75.5 L57.9 74.4 L58.4 73.1 L58.8 71.8 L59.3 70.4 L59.8 68.8 L60.2 67.1 L60.7 65.4 L61.1 63.6 L61.6 61.9 L62.1 60.1 L62.5 58.2 L63.0 56.2 L63.4 53.6 L63.8 50.8 L64.2 47.7M53.9 86.6 L54.5 86.0 L55.0 85.4 L55.6 84.9 L56.1 84.3 L56.7 83.7 L57.2 83.2 L57.8 82.6 L58.3 82.0 L58.9 81.5 L59.4 80.7 L59.9 79.9 L60.4 79.0 L60.9 78.0 L61.4 77.0 L61.9 75.8 L62.4 74.6 L62.9 73.2 L63.4 71.8 L63.8 70.2 L64.3 68.5 L64.7 66.7 L65.2 64.9 L65.7 63.2 L66.1 61.4 L66.6 59.5 L67.0 57.5 L67.5 54.9 L67.9 52.1 L68.3 49.0M58.1 88.2 L58.6 87.6 L59.2 87.0 L59.7 86.4 L60.3 85.9 L60.8 85.3 L61.3 84.7 L61.9 84.1 L62.4 83.6 L63.0 83.0 L63.5 82.3 L64.0 81.4 L64.5 80.5 L65.0 79.5 L65.5 78.5 L66.0 77.3 L66.5 76.0 L67.0 74.7 L67.4 73.2 L67.9 71.6 L68.4 69.9 L68.9 68.1 L69.3 66.3 L69.8 64.6 L70.3 62.8 L70.7 60.9 L71.2 58.9 L71.6 56.3 L72.1 53.4 L72.5 50.3M62.3 89.8 L62.8 89.2 L63.4 88.6 L63.9 88.0 L64.4 87.4 L65.0 86.9 L65.5 86.3 L66.1 85.7 L66.6 85.1 L67.1 84.6 L67.6 83.8 L68.1 82.9 L68.7 82.0 L69.2 81.0 L69.7 80.0 L70.1 78.8 L70.6 77.5 L71.1 76.1 L71.6 74.7 L72.1 73.1 L72.6 71.4 L73.0 69.6 L73.5 67.7 L74.0 66.0 L74.5 64.2 L74.9 62.3 L75.4 60.3 L75.9 57.6 L76.3 54.8 L76.8 51.6M66.5 91.4 L67.1 90.8 L67.6 90.2 L68.2 89.7 L68.7 89.1 L69.2 88.5 L69.8 87.9 L70.3 87.3 L70.8 86.7 L71.3 86.1 L71.8 85.4 L72.4 84.5 L72.9 83.6 L73.4 82.6 L73.9 81.5 L74.4 80.3 L74.8 79.0 L75.3 77.6 L75.8 76.2 L76.3 74.5 L76.8 72.8 L77.3 71.0 L77.7 69.2 L78.2 67.4 L78.7 65.6 L79.2 63.7 L79.7 61.6 L80.1 59.0 L80.6 56.1 L81.1 53.0M70.9 93.1 L71.4 92.5 L72.0 91.9 L72.5 91.3 L73.0 90.7 L73.5 90.1 L74.1 89.5 L74.6 88.9 L75.1 88.3 L75.6 87.7 L76.1 86.9 L76.6 86.1 L77.1 85.1 L77.6 84.1 L78.1 83.0 L78.6 81.9 L79.1 80.6 L79.6 79.2 L80.1 77.7 L80.6 76.0 L81.1 74.3 L81.6 72.5 L82.0 70.6 L82.5 68.9 L83.0 67.0 L83.5 65.1 L84.0 63.1 L84.5 60.4 L85.0 57.5 L85.5 54.3M75.3 94.8 L75.8 94.2 L76.4 93.6 L76.9 93.0 L77.4 92.4 L77.9 91.8 L78.4 91.2 L78.9 90.5 L79.5 89.9 L80.0 89.4 L80.5 88.6 L81.0 87.7 L81.5 86.7 L82.0 85.7 L82.5 84.6 L83.0 83.4 L83.5 82.1 L83.9 80.7 L84.4 79.2 L84.9 77.5 L85.4 75.8 L85.9 74.0 L86.4 72.1 L86.9 70.4 L87.4 68.5 L87.9 66.5 L88.4 64.5 L88.9 61.8 L89.4 58.9 L89.9 55.7M28.5 99.9 L31.6 101.1 L34.8 102.3 L38.0 103.6 L41.2 104.9 L44.4 106.1 L47.7 107.4 L51.1 108.7 L54.4 110.0 L57.8 111.4 L61.3 112.7 L64.8 114.1M31.8 96.8 L34.9 98.0 L38.0 99.2 L41.2 100.4 L44.4 101.6 L47.6 102.9 L50.9 104.1 L54.2 105.4 L57.5 106.7 L60.9 108.0 L64.3 109.3 L67.8 110.6M35.0 93.8 L38.0 95.0 L41.1 96.1 L44.3 97.3 L47.5 98.5 L50.7 99.7 L53.9 100.9 L57.2 102.1 L60.5 103.4 L63.8 104.7 L67.2 105.9 L70.7 107.2M38.1 90.9 L41.1 92.0 L44.2 93.1 L47.3 94.3 L50.5 95.4 L53.6 96.6 L56.9 97.8 L60.1 99.0 L63.4 100.2 L66.7 101.4 L70.1 102.6 L73.5 103.9M41.1 88.0 L44.1 89.1 L47.2 90.2 L50.3 91.3 L53.4 92.4 L56.6 93.6 L59.7 94.7 L63.0 95.9 L66.2 97.0 L69.5 98.2 L72.8 99.4 L76.2 100.7M44.0 85.1 L47.1 86.2 L50.1 87.3 L53.2 88.4 L56.3 89.5 L59.4 90.6 L62.6 91.7 L65.8 92.8 L69.0 94.0 L72.2 95.1 L75.5 96.3 L78.9 97.5M46.9 82.3 L49.9 83.4 L52.9 84.4 L56.0 85.5 L59.0 86.6 L62.2 87.6 L65.3 88.7 L68.5 89.8 L71.7 91.0 L74.9 92.1 L78.2 93.2 L81.5 94.4M49.7 79.6 L52.7 80.6 L55.7 81.6 L58.7 82.7 L61.8 83.7 L64.9 84.8 L68.0 85.8 L71.1 86.9 L74.3 88.0 L77.5 89.1 L80.7 90.2 L84.0 91.3M52.4 76.1 L55.4 77.0 L58.3 77.9 L61.3 78.9 L64.4 79.8 L67.4 80.8 L70.5 81.8 L73.7 82.8 L76.8 83.8 L80.0 84.8 L83.2 85.8 L86.5 86.8M54.9 70.4 L57.8 71.2 L60.8 72.1 L63.8 72.9 L66.8 73.8 L69.9 74.7 L73.0 75.5 L76.1 76.4 L79.3 77.3 L82.5 78.2 L85.7 79.1 L89.0 80.0M57.1 62.2 L60.1 63.0 L63.1 63.7 L66.1 64.5 L69.2 65.3 L72.3 66.1 L75.4 66.9 L78.5 67.7 L81.7 68.5 L84.9 69.3 L88.2 70.2 L91.5 71.0M59.3 52.3 L62.3 52.9 L65.3 53.5 L68.4 54.1 L71.5 54.7 L74.6 55.3 L77.7 55.9 L80.9 56.5 L84.2 57.1 L87.4 57.7 L90.7 58.3 L94.1 58.9" class="m"/><path d="M49.7 79.6 L52.2 80.4 L54.8 81.3 L57.3 82.2 L59.9 83.1 L62.5 83.9 L65.1 84.8 L67.7 85.7 L70.4 86.6 L73.1 87.6 L75.8 88.5 L78.5 89.4 L81.3 90.4 L84.0 91.3M84.2 91.4 L87.0 93.6 L89.8 94.7 L92.6 95.8 L95.5 96.8 L98.4 97.8 L101.3 98.9 L104.2 99.9 L107.2 100.9 L110.2 102.0 L113.2 103.0 L116.3 104.1 L119.4 105.2 L122.5 106.2" stroke="#000" stroke-opacity="0.45" stroke-width="1.1" fill="none"/><path d="M60.4 43.9 L94.8 54.4 L103.3 46.0 L69.2 37.0Z" fill="#d2d2d2" stroke="#999" stroke-width="0.4"/><path d="M102.8 46.6 103.1 46.7 103.8 45.9 103.6 45.8Z" fill="#d2d2d2"/><path d="M103.0 46.6 103.3 46.8 104.0 46.0 103.7 45.8Z" fill="#d2d2d2"/><path d="M103.1 46.7 103.5 46.8 104.3 46.0 103.9 45.9Z" fill="#d2d2d2"/><path d="M103.4 46.7 103.8 46.9 104.5 46.1 104.1 45.9Z" fill="#d2d2d2"/><path d="M103.6 46.8 104.2 47.0 104.9 46.2 104.3 46.0Z" fill="#d2d2d2"/><path d="M104.0 46.9 104.6 47.1 105.3 46.3 104.7 46.1Z" fill="#d2d2d2"/><path d="M102.4 47.0 102.6 47.1 103.4 46.3 103.2 46.2Z" fill="#d2d2d2"/><path d="M104.4 46.9 105.1 47.2 105.7 46.5 105.0 46.2Z" fill="#d2d2d2"/><path d="M102.5 47.0 102.8 47.2 103.6 46.4 103.3 46.3Z" fill="#d2d2d2"/><path d="M102.7 47.1 103.1 47.3 103.8 46.5 103.5 46.3Z" fill="#d2d2d2"/><path d="M104.8 47.0 105.6 47.4 106.3 46.6 105.4 46.3Z" fill="#d2d2d2"/><path d="M102.9 47.1 103.4 47.3 104.1 46.6 103.7 46.4Z" fill="#d2d2d2"/><path d="M103.2 47.2 103.8 47.4 104.5 46.7 103.9 46.4Z" fill="#d2d2d2"/><path d="M105.4 47.2 106.1 47.5 106.7 46.7 106.0 46.4Z" fill="#d2d2d2"/><path d="M103.6 47.3 104.1 47.5 104.8 46.8 104.3 46.5Z" fill="#d2d2d2"/><path d="M105.8 47.1 106.5 49.3 107.2 46.8 106.5 46.6Z" fill="#c94d37"/><path d="M102.0 47.5 102.2 47.6 103.0 46.8 102.7 46.7Z" fill="#d2d2d2"/><path d="M103.9 47.4 104.6 47.7 105.3 46.9 104.6 46.6Z" fill="#d2d2d2"/><path d="M102.1 47.5 102.4 47.6 103.1 46.8 102.9 46.7Z" fill="#d2d2d2"/><path d="M102.3 47.5 102.6 47.7 103.4 46.9 103.0 46.7Z" fill="#d2d2d2"/><path d="M104.4 47.5 105.2 47.8 105.8 47.0 105.0 46.7Z" fill="#d2d2d2"/><path d="M106.4 48.8 107.2 53.7 107.9 51.3 107.0 46.7Z" fill="#bc713e"/><path d="M107.2 53.4L107.7 51.1" class="m"/><path d="M102.5 47.6 102.9 47.8 103.7 47.0 103.2 46.8Z" fill="#d2d2d2"/><path d="M102.8 47.6 103.3 47.9 104.0 47.1 103.5 46.9Z" fill="#d2d2d2"/><path d="M104.9 47.6 105.6 48.6 106.3 47.1 105.6 46.9Z" fill="#e64f3a"/><path d="M103.1 47.7 103.7 48.0 104.4 47.2 103.8 46.9Z" fill="#d2d2d2"/><path d="M107.0 53.2 107.9 57.0 108.6 55.0 107.7 50.9Z" fill="#b29d49"/><path d="M107.2 53.4L107.7 51.1" class="m"/><path d="M105.5 48.1 106.0 51.8 106.8 49.0 106.1 47.0Z" fill="#bb5b38"/><path d="M101.5 47.9 101.7 48.0 102.5 47.2 102.3 47.1Z" fill="#d2d2d2"/><path d="M103.5 47.8 104.2 48.1 104.9 47.3 104.2 47.0Z" fill="#d2d2d2"/><path d="M101.7 47.9 101.9 48.1 102.7 47.3 102.4 47.1Z" fill="#d2d2d2"/><path d="M101.8 48.0 102.2 48.1 102.9 47.3 102.6 47.2Z" fill="#d2d2d2"/><path d="M103.9 47.9 104.8 48.3 105.4 47.5 104.6 47.2Z" fill="#ff4f39"/><path d="M105.8 51.3 106.7 55.8 107.3 53.6 106.5 48.8Z" fill="#bd8e47"/><path d="M106.7 55.5L107.2 53.4" class="m"/><path d="M102.1 48.0 102.5 48.2 103.2 47.4 102.8 47.2Z" fill="#d2d2d2"/><path d="M102.3 48.1 102.9 48.3 103.6 47.5 103.0 47.3Z" fill="#d2d2d2"/><path d="M107.8 56.6 109.1 60.8 109.7 59.1 108.4 54.5Z" fill="#97b05b"/><path d="M104.6 47.8 105.0 51.1 105.8 48.1 105.2 47.3Z" fill="#bb5238"/><path d="M102.7 48.2 103.3 48.4 104.0 47.6 103.4 47.4Z" fill="#d2d2d2"/><path d="M106.5 55.4 107.4 58.9 108.1 57.0 107.2 53.2Z" fill="#a7a94b"/><path d="M106.7 55.5L107.2 53.4" class="m"/><path d="M104.8 50.8 105.4 54.1 106.2 51.7 105.6 48.1Z" fill="#bb7640"/><path d="M101.1 48.3 101.3 48.4 102.1 47.7 101.9 47.5Z" fill="#d2d2d2"/><path d="M103.1 48.3 103.8 48.5 104.4 47.8 103.7 47.5Z" fill="#d2d2d2"/><path d="M101.2 48.4 101.5 48.5 102.3 47.7 102.0 47.6Z" fill="#d2d2d2"/><path d="M101.4 48.4 101.7 48.6 102.5 47.8 102.1 47.6Z" fill="#d2d2d2"/><path d="M103.6 48.1 104.2 50.9 104.9 47.9 104.2 47.6Z" fill="#c24e37"/><path d="M105.3 53.6 106.2 57.8 106.8 55.8 106.0 51.3Z" fill="#b29d49"/><path d="M106.2 57.6L106.7 55.5" class="m"/><path d="M101.6 48.5 102.0 48.7 102.8 47.9 102.4 47.7Z" fill="#d2d2d2"/><path d="M101.9 48.5 102.4 48.8 103.2 48.0 102.6 47.7Z" fill="#d2d2d2"/><path d="M107.2 58.5 108.6 62.4 109.2 60.8 107.9 56.5Z" fill="#8ab567"/><path d="M103.9 50.7 104.5 53.6 105.3 51.0 104.7 47.8Z" fill="#ba6a3c"/><path d="M108.9 60.4 111.1 65.3 111.7 63.9 109.5 58.6Z" fill="#6aac8b"/><path d="M111.0 65.1L111.5 63.7" class="m"/><path d="M102.3 48.6 102.8 48.9 103.5 48.1 103.0 47.8Z" fill="#d2d2d2"/><path d="M106.0 57.4 106.9 60.7 107.6 58.9 106.7 55.3Z" fill="#99af59"/><path d="M106.2 57.6L106.7 55.5" class="m"/><path d="M104.3 53.2 104.9 56.3 105.7 54.0 105.1 50.6Z" fill="#ba9348"/><path d="M100.6 48.8 100.8 48.9 101.6 48.1 101.4 48.0Z" fill="#d2d2d2"/><path d="M102.6 48.6 103.3 49.6 103.9 48.1 103.3 47.9Z" fill="#e54f3a"/><path d="M102.8 48.6L103.3 49.4" class="m"/><path d="M100.8 48.8 101.0 48.9 101.8 48.1 101.5 48.0Z" fill="#d2d2d2"/><path d="M100.9 48.8 101.3 49.0 102.1 48.2 101.7 48.1Z" fill="#d2d2d2"/><path d="M103.2 49.2 103.6 53.4 104.4 50.8 103.7 48.0Z" fill="#ba603a"/><path d="M103.3 49.4L103.7 53.1" class="m"/><path d="M104.8 55.8 105.7 59.7 106.3 57.8 105.4 53.6Z" fill="#a7a94b"/><path d="M105.7 59.4L106.2 57.6" class="m"/><path d="M101.2 48.9 101.6 49.1 102.3 48.3 101.9 48.1Z" fill="#d2d2d2"/><path d="M101.4 49.0 102.0 49.2 102.7 48.4 102.2 48.2Z" fill="#d2d2d2"/><path d="M106.7 60.3 108.1 63.9 108.7 62.4 107.4 58.4Z" fill="#7ab179"/><path d="M103.4 53.1 104.0 55.8 104.8 53.4 104.2 50.4Z" fill="#bc8b47"/><path d="M103.7 53.1L104.0 55.5" class="m"/><path d="M108.4 62.0 110.6 66.6 111.2 65.3 109.0 60.3Z" fill="#5ea89c"/><path d="M110.6 66.4L111.0 65.1" class="m"/><path d="M101.8 49.1 102.4 49.3 103.1 48.5 102.5 48.3Z" fill="#d2d2d2"/><path d="M105.5 59.3 106.4 62.4 107.1 60.6 106.2 57.3Z" fill="#8cb565"/><path d="M105.7 59.4L106.2 57.6" class="m"/><path d="M103.8 55.5 104.4 58.3 105.1 56.1 104.5 53.1Z" fill="#aea04a"/><path d="M104.0 55.5L104.4 58.0" class="m"/><path d="M100.2 49.2 100.4 49.3 101.2 48.5 101.0 48.4Z" fill="#d2d2d2"/><path d="M110.8 65.0 113.2 68.5 113.7 67.2 111.4 63.5Z" fill="#4d9dca"/><path d="M111.0 65.1L111.5 63.7" class="m"/><path d="M102.3 48.8 102.7 52.2 103.5 49.2 102.9 48.4Z" fill="#bb5238"/><path d="M102.8 48.6L103.3 49.4" class="m"/><path d="M100.3 49.3 100.6 49.4 101.4 48.6 101.1 48.5Z" fill="#d2d2d2"/><path d="M100.5 49.3 100.9 49.5 101.6 48.7 101.3 48.5Z" fill="#d2d2d2"/><path d="M102.6 51.8 103.1 55.7 103.8 53.3 103.3 49.1Z" fill="#bb7b42"/><path d="M103.3 49.4L103.7 53.1" class="m"/><path d="M104.2 57.9 105.2 61.5 105.8 59.6 104.9 55.8Z" fill="#98af59"/><path d="M104.4 58.0L105.2 61.2M105.2 61.2L105.7 59.4" class="m"/><path d="M100.7 49.4 101.1 49.5 101.9 48.7 101.5 48.6Z" fill="#d2d2d2"/><path d="M101.0 49.4 101.6 49.7 102.3 48.9 101.7 48.6Z" fill="#d2d2d2"/><path d="M106.2 62.0 107.7 65.4 108.3 63.9 106.9 60.2Z" fill="#6bac8a"/><path d="M102.9 55.4 103.5 57.9 104.2 55.6 103.7 52.9Z" fill="#b29b49"/><path d="M103.7 53.1L104.0 55.5" class="m"/><path d="M107.9 63.5 110.2 67.9 110.7 66.6 108.5 61.9Z" fill="#56a3af"/><path d="M110.1 67.6L110.6 66.4" class="m"/><path d="M101.4 49.5 101.9 49.8 102.6 49.0 102.1 48.7Z" fill="#d2d2d2"/><path d="M105.0 61.1 106.0 63.9 106.6 62.3 105.7 59.2Z" fill="#7cb176"/><path d="M105.2 61.2L105.9 63.7M105.2 61.2L105.7 59.4" class="m"/><path d="M103.2 57.6 103.9 60.2 104.6 58.2 104.0 55.3Z" fill="#a2ab4f"/><path d="M104.0 55.5L104.4 58.0" class="m"/><path d="M99.7 49.7 99.9 49.8 100.7 49.0 100.5 48.9Z" fill="#d2d2d2"/><path d="M110.4 66.3 112.7 69.6 113.3 68.4 111.0 64.9Z" fill="#4899d8"/><path d="M110.6 66.4L111.0 65.1" class="m"/><path d="M101.9 49.3 102.2 54.7 102.9 52.2 102.4 48.8Z" fill="#b9623a"/><path d="M99.9 49.7 100.1 49.8 100.9 49.0 100.6 48.9Z" fill="#d2d2d2"/><path d="M100.0 49.7 100.4 49.9 101.2 49.1 100.8 48.9Z" fill="#d2d2d2"/><path d="M102.0 54.2 102.6 57.8 103.3 55.6 102.7 51.7Z" fill="#b89549"/><path d="M103.7 59.8 104.7 63.1 105.3 61.4 104.4 57.8Z" fill="#8bb565"/><path d="M104.4 58.0L105.2 61.2M104.7 62.9L105.2 61.2" class="m"/><path d="M112.9 68.1 115.3 70.8 115.8 69.7 113.4 66.8Z" fill="#468eeb"/><path d="M115.2 70.6L115.6 69.6" class="m"/><path d="M100.3 49.8 100.7 50.0 101.4 49.2 101.0 49.0Z" fill="#d2d2d2"/><path d="M100.5 49.9 101.1 50.1 101.8 49.3 101.3 49.1Z" fill="#d2d2d2"/><path d="M105.8 63.5 107.2 66.8 107.8 65.3 106.4 61.9Z" fill="#5ea89b"/><path d="M105.9 63.7L107.2 66.5" class="m"/><path d="M102.4 57.6 103.0 59.9 103.7 57.7 103.1 55.2Z" fill="#a7a84b"/><path d="M107.4 65.0 109.7 69.1 110.3 67.8 108.0 63.5Z" fill="#4f9fc1"/><path d="M109.7 68.8L110.1 67.6" class="m"/><path d="M101.0 49.7 101.4 52.3 102.1 49.3 101.6 49.2Z" fill="#bd4d37"/><path d="M104.5 62.8 105.5 65.4 106.2 63.8 105.2 61.0Z" fill="#6cad87"/><path d="M105.2 61.2L105.9 63.7M104.7 62.9L105.2 61.2" class="m"/><path d="M102.7 59.6 103.4 62.0 104.2 60.0 103.5 57.4Z" fill="#94b05c"/><path d="M99.3 50.1 99.5 50.2 100.3 49.4 100.1 49.3Z" fill="#d2d2d2"/><path d="M109.9 67.5 112.3 70.6 112.9 69.5 110.5 66.2Z" fill="#4793e1"/><path d="M110.1 67.6L110.6 66.4" class="m"/><path d="M101.3 51.8 101.7 56.9 102.3 54.6 102.0 49.3Z" fill="#b97a42"/><path d="M99.4 50.2 99.7 50.3 100.5 49.5 100.2 49.4Z" fill="#d2d2d2"/><path d="M99.6 50.2 100.0 50.4 100.7 49.6 100.4 49.4Z" fill="#d2d2d2"/><path d="M101.5 56.5 102.1 59.8 102.8 57.8 102.2 54.2Z" fill="#aca24a"/><path d="M103.2 61.6 104.2 64.7 104.9 63.1 103.9 59.7Z" fill="#7cb276"/><path d="M104.2 64.5L104.7 62.9" class="m"/><path d="M112.4 69.2 114.9 71.8 115.4 70.7 113.0 68.0Z" fill="#458af4"/><path d="M114.8 71.6L115.2 70.6" class="m"/><path d="M99.8 50.2 100.2 50.4 101.0 49.6 100.6 49.4Z" fill="#d2d2d2"/><path d="M100.1 50.3 100.7 50.6 101.4 49.8 100.8 49.5Z" fill="#d2d2d2"/><path d="M105.3 65.0 106.7 68.0 107.3 66.7 105.9 63.4Z" fill="#56a3ae"/><path d="M105.9 63.7L107.2 66.5" class="m"/><path d="M101.9 59.6 102.5 61.7 103.2 59.6 102.6 57.3Z" fill="#99ae57"/><path d="M107.0 66.3 109.3 70.2 109.8 69.0 107.5 64.9Z" fill="#499bd1"/><path d="M107.2 66.5L109.2 69.9M109.2 69.9L109.7 68.8" class="m"/><path d="M115.0 70.5 117.5 72.7 118.0 71.7 115.5 69.4Z" fill="#4581ff"/><path d="M115.2 70.6L115.6 69.6" class="m"/><path d="M100.6 50.1 100.9 54.8 101.6 52.2 101.2 49.6Z" fill="#b85c39"/><path d="M104.0 64.3 105.0 66.8 105.7 65.3 104.7 62.6Z" fill="#5fa997"/><path d="M104.2 64.5L104.7 62.9" class="m"/><path d="M102.2 61.4 102.9 63.7 103.7 61.8 103.0 59.4Z" fill="#87b568"/><path d="M98.8 50.6 99.0 50.7 99.8 49.9 99.6 49.8Z" fill="#d2d2d2"/><path d="M109.4 68.7 111.9 71.6 112.4 70.5 110.0 67.4Z" fill="#468fea"/><path d="M109.7 68.8L110.1 67.6" class="m"/><path d="M100.8 54.3 101.2 59.0 101.8 56.9 101.4 51.8Z" fill="#b79449"/><path d="M99.0 50.6 99.2 50.7 100.0 49.9 99.7 49.8Z" fill="#d2d2d2"/><path d="M99.1 50.6 99.5 50.8 100.3 50.0 99.9 49.8Z" fill="#d2d2d2"/><path d="M101.0 58.6 101.6 61.7 102.3 59.8 101.7 56.4Z" fill="#9fab51"/><path d="M102.7 63.3 103.7 66.2 104.4 64.6 103.4 61.5Z" fill="#6cad87"/><path d="M103.7 65.9L104.2 64.5" class="m"/><path d="M112.0 70.3 114.4 72.7 115.0 71.7 112.5 69.1Z" fill="#4586fc"/><path d="M114.3 72.5L114.8 71.6" class="m"/><path d="M99.4 50.7 99.8 50.9 100.5 50.1 100.1 49.9Z" fill="#d2d2d2"/><path d="M99.7 50.5 100.1 53.2 100.8 50.1 100.3 50.0Z" fill="#bd4d37"/><path d="M99.9 50.7L100.2 53.0" class="m"/><path d="M104.8 66.5 106.3 69.3 106.9 68.0 105.4 64.9Z" fill="#4f9fc0"/><path d="M101.4 61.5 102.0 63.4 102.7 61.5 102.1 59.3Z" fill="#8cb464"/><path d="M106.5 67.6 108.8 71.3 109.4 70.1 107.1 66.3Z" fill="#4796dc"/><path d="M107.2 66.5L109.2 69.9M108.8 71.0L109.2 69.9" class="m"/><path d="M114.5 71.5 117.0 73.6 117.6 72.6 115.1 70.4Z" fill="#4578ff"/><path d="M114.8 71.6L115.2 70.6" class="m"/><path d="M100.0 52.7 100.4 57.1 101.0 54.8 100.7 50.1Z" fill="#b97540"/><path d="M100.2 53.0L100.4 56.9" class="m"/><path d="M103.5 65.8 104.6 68.2 105.2 66.7 104.2 64.2Z" fill="#57a4ab"/><path d="M103.7 65.9L104.2 64.5" class="m"/><path d="M101.7 63.2 102.4 65.3 103.2 63.5 102.5 61.2Z" fill="#77b07a"/><path d="M98.4 51.0 98.6 51.1 99.4 50.3 99.2 50.2Z" fill="#d2d2d2"/><path d="M109.0 69.8 111.4 72.6 112.0 71.5 109.6 68.6Z" fill="#458af3"/><path d="M109.2 69.9L111.3 72.4M109.2 69.9L109.7 68.8" class="m"/><path d="M100.3 56.6 100.7 61.0 101.3 59.0 100.9 54.3Z" fill="#aba14b"/><path d="M100.4 56.9L100.7 60.7" class="m"/><path d="M117.1 72.5 119.6 74.4 120.1 73.4 117.6 71.4Z" fill="#456cff"/><path d="M119.5 74.1L119.9 73.3" class="m"/><path d="M98.5 51.1 98.8 51.2 99.6 50.4 99.3 50.3Z" fill="#d2d2d2"/><path d="M98.7 51.1 99.0 51.3 99.8 50.5 99.5 50.3Z" fill="#d2d2d2"/><path d="M100.5 60.6 101.1 63.5 101.8 61.6 101.2 58.5Z" fill="#91b15e"/><path d="M100.7 60.7L101.1 63.2" class="m"/><path d="M102.2 64.9 103.3 67.6 103.9 66.1 102.9 63.2Z" fill="#5ea997"/><path d="M103.2 67.3L103.7 65.9" class="m"/><path d="M111.5 71.3 114.0 73.6 114.6 72.6 112.1 70.2Z" fill="#447fff"/><path d="M113.9 73.4L114.3 72.5" class="m"/><path d="M98.9 51.2 99.3 51.4 100.1 50.5 99.7 50.4Z" fill="#d2d2d2"/><path d="M99.4 50.9 99.6 55.7 100.3 53.1 99.9 50.4Z" fill="#b85d39"/><path d="M99.9 50.7L100.2 53.0" class="m"/><path d="M104.3 67.8 105.8 70.5 106.4 69.2 104.9 66.3Z" fill="#499bd0"/><path d="M100.9 63.3 101.5 65.1 102.2 63.2 101.6 61.2Z" fill="#7cb274"/><path d="M101.1 63.2L101.5 64.8" class="m"/><path d="M106.0 68.9 108.4 72.3 109.0 71.2 106.6 67.6Z" fill="#4591e6"/><path d="M108.3 72.1L108.8 71.0" class="m"/><path d="M114.1 72.4 116.6 74.5 117.1 73.5 114.6 71.4Z" fill="#4570ff"/><path d="M114.3 72.5L114.8 71.6" class="m"/><path d="M99.5 55.2 99.8 59.3 100.5 57.1 100.2 52.7Z" fill="#b99249"/><path d="M100.2 53.0L100.4 56.9" class="m"/><path d="M103.0 67.3 104.1 69.4 104.8 68.0 103.7 65.7Z" fill="#509fbc"/><path d="M103.2 67.3L103.7 65.9" class="m"/><path d="M101.3 64.8 102.0 66.8 102.7 65.1 102.0 62.9Z" fill="#68ac8b"/><path d="M101.5 64.8L102.0 66.5" class="m"/><path d="M97.9 51.5 98.1 51.6 98.9 50.8 98.7 50.7Z" fill="#d2d2d2"/><path d="M108.5 70.9 111.0 73.5 111.5 72.5 109.1 69.7Z" fill="#4486fb"/><path d="M109.2 69.9L111.3 72.4M108.8 71.0L109.2 69.9" class="m"/><path d="M99.7 58.8 100.2 62.9 100.8 61.0 100.4 56.6Z" fill="#9fab50"/><path d="M100.4 56.9L100.7 60.7" class="m"/><path d="M116.7 73.3 119.2 75.2 119.7 74.2 117.2 72.3Z" fill="#4564ff"/><path d="M119.1 75.0L119.5 74.1" class="m"/><path d="M98.0 51.5 98.3 51.7 99.1 50.8 98.8 50.7Z" fill="#d2d2d2"/><path d="M98.2 51.6 98.6 51.7 99.4 50.9 99.0 50.7Z" fill="#d2d2d2"/><path d="M100.0 62.5 100.6 65.1 101.3 63.4 100.7 60.5Z" fill="#84b56b"/><path d="M100.7 60.7L101.1 63.2" class="m"/><path d="M101.8 66.4 102.8 68.9 103.5 67.5 102.4 64.8Z" fill="#56a4aa"/><path d="M102.0 66.5L102.8 68.7M102.8 68.7L103.2 67.3" class="m"/><path d="M111.1 72.3 113.6 74.5 114.1 73.5 111.6 71.2Z" fill="#4477ff"/><path d="M111.3 72.4L113.5 74.3M113.5 74.3L113.9 73.4" class="m"/><path d="M98.4 51.4 98.9 53.0 99.6 50.9 99.2 50.8Z" fill="#c24b38"/><path d="M98.9 52.5 99.1 58.0 99.7 55.7 99.4 50.9Z" fill="#b9713f"/><path d="M103.8 69.1 105.4 71.6 106.0 70.3 104.5 67.7Z" fill="#4696dc"/><path d="M100.4 64.9 101.0 66.6 101.8 64.8 101.1 63.0Z" fill="#6dad85"/><path d="M101.1 63.2L101.5 64.8" class="m"/><path d="M105.6 70.1 108.0 73.3 108.5 72.2 106.1 68.8Z" fill="#448cee"/><path d="M107.9 73.0L108.3 72.1" class="m"/><path d="M113.7 73.3 116.2 75.3 116.7 74.3 114.2 72.3Z" fill="#4569ff"/><path d="M113.9 73.4L114.3 72.5" class="m"/><path d="M99.0 57.6 99.3 61.3 100.0 59.3 99.6 55.2Z" fill="#ada04a"/><path d="M102.5 68.6 103.6 70.7 104.3 69.3 103.2 67.1Z" fill="#499bcd"/><path d="M102.8 68.7L103.6 70.4M102.8 68.7L103.2 67.3" class="m"/><path d="M100.8 66.4 101.5 68.2 102.2 66.6 101.5 64.6Z" fill="#5ba79c"/><path d="M101.5 64.8L102.0 66.5" class="m"/><path d="M97.4 51.9 97.7 52.1 98.5 51.2 98.2 51.1Z" fill="#d2d2d2"/><path d="M108.1 71.9 110.6 74.5 111.1 73.4 108.6 70.8Z" fill="#4380ff"/><path d="M108.3 72.1L108.8 71.0" class="m"/><path d="M99.2 60.9 99.7 64.6 100.3 62.8 99.9 58.8Z" fill="#91b15e"/><path d="M116.2 74.2 118.8 75.9 119.3 75.0 116.8 73.2Z" fill="#455eff"/><path d="M118.7 75.7L119.1 75.0" class="m"/><path d="M97.6 52.0 97.9 52.1 98.6 51.3 98.4 51.2Z" fill="#d2d2d2"/><path d="M119.3 74.1 124.1 76.9 124.5 76.1 119.7 73.2Z" fill="#4655ff"/><path d="M119.5 74.1L119.9 73.3M123.9 76.8L124.3 76.0" class="m"/><path d="M97.8 52.0 98.1 52.2 98.9 51.4 98.5 51.2Z" fill="#d2d2d2"/><path d="M99.5 64.2 100.1 66.7 100.8 65.0 100.2 62.4Z" fill="#74b07d"/><path d="M101.3 67.8 102.3 70.2 103.0 68.8 101.9 66.3Z" fill="#4f9fbc"/><path d="M102.0 66.5L102.8 68.7M102.3 70.0L102.8 68.7" class="m"/><path d="M110.7 73.2 113.2 75.4 113.7 74.4 111.2 72.2Z" fill="#446fff"/><path d="M111.3 72.4L113.5 74.3M113.0 75.1L113.5 74.3" class="m"/><path d="M98.1 51.7 98.4 55.6 99.1 52.7 98.7 51.3Z" fill="#b85538"/><path d="M98.3 55.1 98.6 60.2 99.2 58.0 98.9 52.5Z" fill="#ba8d48"/><path d="M103.4 70.3 104.9 72.6 105.5 71.5 104.0 69.0Z" fill="#4491e5"/><path d="M103.6 70.4L104.9 72.4" class="m"/><path d="M99.9 66.5 100.5 68.1 101.3 66.4 100.6 64.6Z" fill="#5ea995"/><path d="M105.1 71.2 107.5 74.2 108.1 73.2 105.7 70.0Z" fill="#4388f7"/><path d="M107.4 74.0L107.9 73.0" class="m"/><path d="M113.2 74.2 115.8 76.1 116.3 75.2 113.8 73.2Z" fill="#4562ff"/><path d="M113.5 74.3L115.6 75.9M113.5 74.3L113.9 73.4" class="m"/><path d="M98.4 59.7 98.8 63.2 99.5 61.3 99.1 57.5Z" fill="#a0aa4f"/><path d="M102.1 69.9 103.2 71.8 103.8 70.5 102.7 68.4Z" fill="#4596da"/><path d="M102.8 68.7L103.6 70.4M102.3 70.0L102.8 68.7" class="m"/><path d="M100.3 67.8 101.0 69.5 101.7 68.0 101.0 66.1Z" fill="#54a2af"/><path d="M97.0 52.4 97.2 52.5 98.0 51.7 97.8 51.6Z" fill="#d2d2d2"/><path d="M107.6 72.9 110.1 75.3 110.7 74.3 108.2 71.8Z" fill="#4378ff"/><path d="M107.9 73.0L108.3 72.1" class="m"/><path d="M98.7 62.8 99.2 66.2 99.8 64.6 99.4 60.8Z" fill="#83b56b"/><path d="M115.8 75.0 118.4 76.7 118.9 75.8 116.3 74.1Z" fill="#4558ff"/><path d="M118.3 76.5L118.7 75.7" class="m"/><path d="M97.1 52.4 97.4 52.6 98.2 51.8 97.9 51.6Z" fill="#d2d2d2"/><path d="M118.8 74.9 123.7 77.6 124.1 76.9 119.3 74.0Z" fill="#464fff"/><path d="M119.1 75.0L119.5 74.1M123.5 77.5L123.9 76.8" class="m"/><path d="M97.3 52.2 97.7 54.7 98.3 51.7 98.0 51.6Z" fill="#ba4d37"/><path d="M99.0 65.9 99.7 68.2 100.4 66.6 99.7 64.1Z" fill="#65ab8e"/><path d="M100.8 69.2 101.9 71.4 102.5 70.1 101.5 67.7Z" fill="#489bcd"/><path d="M101.8 71.2L102.3 70.0" class="m"/><path d="M110.2 74.2 112.8 76.2 113.3 75.2 110.8 73.1Z" fill="#4468ff"/><path d="M112.6 76.0L113.0 75.1" class="m"/><path d="M97.5 54.3 97.8 58.0 98.5 55.5 98.2 51.7Z" fill="#b96e3e"/><path d="M97.8 57.5 98.1 62.2 98.7 60.2 98.4 55.1Z" fill="#af9d4a"/><path d="M102.9 71.5 104.5 73.7 105.1 72.5 103.5 70.2Z" fill="#438cee"/><path d="M103.6 70.4L104.9 72.4" class="m"/><path d="M99.4 68.0 100.1 69.5 100.8 67.8 100.1 66.2Z" fill="#56a4a8"/><path d="M104.6 72.3 107.1 75.2 107.6 74.1 105.2 71.1Z" fill="#4284fe"/><path d="M104.9 72.4L107.0 74.9M107.0 74.9L107.4 74.0" class="m"/><path d="M112.8 75.1 115.4 76.9 115.9 76.0 113.3 74.1Z" fill="#455cff"/><path d="M113.5 74.3L115.6 75.9M113.0 75.1L113.5 74.3" class="m"/><path d="M97.9 61.8 98.3 65.0 99.0 63.2 98.6 59.7Z" fill="#92b05c"/><path d="M101.6 71.1 102.7 72.9 103.4 71.6 102.3 69.7Z" fill="#4491e3"/><path d="M101.8 71.2L102.3 70.0" class="m"/><path d="M99.8 69.2 100.5 70.8 101.3 69.3 100.5 67.6Z" fill="#4d9ec0"/><path d="M96.5 52.9 96.7 53.0 97.5 52.2 97.3 52.1Z" fill="#d2d2d2"/><path d="M107.2 73.9 109.7 76.2 110.2 75.2 107.7 72.8Z" fill="#4370ff"/><path d="M107.4 74.0L107.9 73.0" class="m"/><path d="M98.2 64.6 98.7 67.8 99.3 66.2 98.9 62.7Z" fill="#73b07d"/><path d="M115.4 75.8 118.0 77.4 118.5 76.6 115.9 74.9Z" fill="#4552ff"/><path d="M115.6 75.9L117.8 77.3M117.8 77.3L118.3 76.5" class="m"/><path d="M96.6 52.9 96.9 53.2 97.7 52.2 97.4 52.1Z" fill="#fa503c"/><path d="M96.9 52.8L97.0 53.0" class="m"/><path d="M118.4 75.7 123.3 78.3 123.7 77.6 118.9 74.8Z" fill="#454aff"/><path d="M118.7 75.7L119.1 75.0M123.1 78.2L123.5 77.5" class="m"/><path d="M97.0 52.7 97.1 57.2 97.9 54.6 97.5 52.1Z" fill="#b85c39"/><path d="M97.0 53.0L97.2 57.0" class="m"/><path d="M98.5 67.5 99.2 69.6 99.9 68.1 99.2 65.7Z" fill="#59a69f"/><path d="M100.3 70.5 101.4 72.6 102.1 71.3 101.0 69.0Z" fill="#4496da"/><path d="M101.4 72.3L101.8 71.2" class="m"/><path d="M109.8 75.0 112.3 77.0 112.9 76.0 110.3 74.0Z" fill="#4461ff"/><path d="M112.2 76.8L112.6 76.0" class="m"/><path d="M97.0 56.8 97.3 60.2 98.0 57.9 97.7 54.2Z" fill="#ba8d48"/><path d="M97.2 57.0L97.3 60.0" class="m"/><path d="M97.2 59.8 97.6 64.1 98.2 62.2 97.9 57.5Z" fill="#a4a94b"/><path d="M97.3 60.0L97.6 63.9" class="m"/><path d="M102.4 72.6 104.0 74.7 104.6 73.5 103.1 71.3Z" fill="#4287f6"/><path d="M98.9 69.4 99.6 70.8 100.3 69.2 99.7 67.7Z" fill="#4f9fba"/><path d="M104.2 73.3 106.7 76.0 107.2 75.1 104.7 72.2Z" fill="#427cff"/><path d="M104.9 72.4L107.0 74.9M106.5 75.8L107.0 74.9" class="m"/><path d="M112.4 75.9 115.0 77.6 115.5 76.7 112.9 74.9Z" fill="#4556ff"/><path d="M112.6 76.0L113.0 75.1" class="m"/><path d="M97.4 63.7 97.8 66.7 98.5 65.0 98.1 61.7Z" fill="#85b568"/><path d="M97.6 63.9L97.9 66.4" class="m"/><path d="M123.7 76.7 128.6 79.1 129.0 78.4 124.1 75.9Z" fill="#5242fc"/><path d="M123.9 76.8L124.3 76.0M128.4 79.0L128.8 78.3" class="m"/><path d="M101.1 72.3 102.3 74.0 102.9 72.7 101.8 70.9Z" fill="#428cec"/><path d="M101.4 72.3L101.8 71.2" class="m"/><path d="M99.3 70.6 100.1 72.0 100.8 70.6 100.1 69.0Z" fill="#469ad1"/><path d="M96.0 53.3 96.3 53.4 97.1 52.6 96.8 52.5Z" fill="#d2d2d2"/><path d="M106.7 74.8 109.3 77.0 109.8 76.1 107.3 73.8Z" fill="#4469ff"/><path d="M107.0 74.9L109.1 76.8M107.0 74.9L107.4 74.0" class="m"/><path d="M97.7 66.3 98.2 69.3 98.8 67.7 98.4 64.5Z" fill="#64ab8d"/><path d="M97.9 66.4L98.2 69.0" class="m"/><path d="M115.0 76.6 117.6 78.2 118.1 77.3 115.5 75.7Z" fill="#454cff"/><path d="M115.6 75.9L117.8 77.3M117.4 78.0L117.8 77.3" class="m"/><path d="M96.2 53.0 96.5 55.9 97.2 52.7 96.9 52.5Z" fill="#b84e37"/><path d="M96.9 52.8L97.0 53.0" class="m"/><path d="M118.0 76.4 122.9 79.0 123.3 78.3 118.5 75.6Z" fill="#4a47ff"/><path d="M118.3 76.5L118.7 75.7M122.7 78.9L123.1 78.2" class="m"/><path d="M96.4 55.4 96.6 59.6 97.3 57.2 97.1 52.7Z" fill="#b97641"/><path d="M97.0 53.0L97.2 57.0" class="m"/><path d="M98.0 68.9 98.7 70.9 99.4 69.5 98.7 67.3Z" fill="#52a1b1"/><path d="M98.2 69.0L98.7 70.7" class="m"/><path d="M99.8 71.7 100.9 73.7 101.6 72.4 100.5 70.3Z" fill="#4391e3"/><path d="M100.9 73.4L101.4 72.3" class="m"/><path d="M109.3 75.9 111.9 77.7 112.4 76.8 109.9 74.9Z" fill="#445bff"/><path d="M111.8 77.5L112.2 76.8" class="m"/><path d="M96.4 59.2 96.8 62.3 97.5 60.2 97.2 56.7Z" fill="#af9d4a"/><path d="M97.2 57.0L97.3 60.0" class="m"/><path d="M96.7 61.9 97.1 65.9 97.7 64.1 97.3 59.7Z" fill="#95af59"/><path d="M97.3 60.0L97.6 63.9" class="m"/><path d="M102.0 73.6 103.6 75.6 104.2 74.5 102.6 72.4Z" fill="#4183fe"/><path d="M98.5 70.7 99.1 72.1 99.8 70.5 99.2 69.1Z" fill="#489bcb"/><path d="M98.7 70.7L99.1 71.8" class="m"/><path d="M103.7 74.3 106.2 76.9 106.8 75.9 104.3 73.2Z" fill="#4274ff"/><path d="M106.1 76.7L106.5 75.8" class="m"/><path d="M111.9 76.7 114.5 78.4 115.0 77.5 112.5 75.8Z" fill="#4550ff"/><path d="M112.2 76.8L112.6 76.0" class="m"/><path d="M96.9 65.5 97.4 68.3 98.0 66.6 97.6 63.6Z" fill="#75b07a"/><path d="M97.6 63.9L97.9 66.4" class="m"/><path d="M123.3 77.4 128.2 79.8 128.6 79.0 123.7 76.6Z" fill="#5640f6"/><path d="M123.5 77.5L123.9 76.8M128.0 79.6L128.4 79.0" class="m"/><path d="M100.7 73.4 101.8 75.0 102.5 73.8 101.3 72.1Z" fill="#4187f4"/><path d="M100.9 73.4L101.4 72.3" class="m"/><path d="M98.9 71.8 99.6 73.2 100.3 71.8 99.6 70.3Z" fill="#4394dc"/><path d="M99.1 71.8L99.6 73.0" class="m"/><path d="M95.6 53.8 95.8 53.9 96.6 53.1 96.4 53.0Z" fill="#d2d2d2"/><path d="M106.3 75.7 108.8 77.8 109.4 76.9 106.8 74.7Z" fill="#4462ff"/><path d="M107.0 74.9L109.1 76.8M106.5 75.8L107.0 74.9" class="m"/><path d="M97.2 67.9 97.7 70.7 98.4 69.2 97.9 66.2Z" fill="#58a69e"/><path d="M97.9 66.4L98.2 69.0" class="m"/><path d="M114.6 77.4 117.2 78.9 117.7 78.0 115.1 76.5Z" fill="#4848ff"/><path d="M117.0 78.7L117.4 78.0" class="m"/><path d="M95.9 53.5 96.0 58.4 96.6 55.9 96.4 53.0Z" fill="#b75e39"/><path d="M117.6 77.2 122.5 79.7 122.9 79.0 118.1 76.4Z" fill="#5044ff"/><path d="M117.8 77.3L122.3 79.6M117.8 77.3L118.3 76.5M122.3 79.6L122.7 78.9" class="m"/><path d="M95.8 57.9 96.1 61.8 96.7 59.6 96.5 55.4Z" fill="#b89349"/><path d="M97.5 70.4 98.2 72.2 98.9 70.8 98.2 68.8Z" fill="#4b9cc3"/><path d="M98.2 69.0L98.7 70.7" class="m"/><path d="M99.4 72.9 100.5 74.7 101.1 73.5 100.0 71.5Z" fill="#428ceb"/><path d="M99.6 73.0L100.4 74.5M100.4 74.5L100.9 73.4" class="m"/><path d="M108.9 76.7 111.5 78.5 112.0 77.6 109.4 75.8Z" fill="#4455ff"/><path d="M109.1 76.8L111.3 78.3M111.3 78.3L111.8 77.5" class="m"/><path d="M95.9 61.4 96.3 64.3 97.0 62.3 96.6 59.1Z" fill="#a4a94b"/><path d="M96.2 63.9 96.6 67.6 97.2 65.9 96.8 61.9Z" fill="#88b466"/><path d="M101.5 74.7 103.1 76.5 103.7 75.5 102.1 73.5Z" fill="#417cff"/><path d="M98.0 72.0 98.6 73.2 99.4 71.8 98.7 70.4Z" fill="#4396d9"/><path d="M98.7 70.7L99.1 71.8" class="m"/><path d="M103.3 75.3 105.8 77.7 106.3 76.8 103.8 74.2Z" fill="#426cff"/><path d="M105.7 77.5L106.1 76.7" class="m"/><path d="M111.5 77.5 114.1 79.1 114.6 78.2 112.0 76.6Z" fill="#454bff"/><path d="M111.8 77.5L112.2 76.8" class="m"/><path d="M96.4 67.2 96.9 69.8 97.5 68.2 97.1 65.4Z" fill="#66ab8b"/><path d="M122.9 78.1 127.8 80.4 128.2 79.7 123.3 77.3Z" fill="#5b3df0"/><path d="M123.1 78.2L123.5 77.5M127.6 80.3L128.0 79.6" class="m"/><path d="M100.2 74.5 101.3 76.0 102.0 74.8 100.9 73.2Z" fill="#4083fc"/><path d="M100.4 74.5L101.3 75.7M100.4 74.5L100.9 73.4" class="m"/><path d="M98.4 73.0 99.1 74.3 99.9 73.0 99.1 71.6Z" fill="#428fe5"/><path d="M99.1 71.8L99.6 73.0" class="m"/><path d="M95.0 54.1 95.4 55.5 96.1 53.5 95.8 53.4Z" fill="#bb4938"/><path d="M105.9 76.6 108.4 78.6 108.9 77.7 106.4 75.6Z" fill="#445bff"/><path d="M106.1 76.7L106.5 75.8" class="m"/><path d="M96.7 69.4 97.3 72.0 97.9 70.6 97.4 67.8Z" fill="#50a1b1"/><path d="M114.1 78.1 116.8 79.6 117.3 78.8 114.6 77.2Z" fill="#4d45ff"/><path d="M116.6 79.4L117.0 78.7" class="m"/><path d="M95.4 55.0 95.4 60.8 96.0 58.4 95.9 53.5Z" fill="#b87240"/><path d="M117.2 77.9 122.1 80.4 122.5 79.6 117.6 77.1Z" fill="#5441f9"/><path d="M117.8 77.3L122.3 79.6M117.4 78.0L117.8 77.3M121.9 80.2L122.3 79.6" class="m"/><path d="M95.3 60.4 95.6 63.9 96.2 61.8 96.0 57.9Z" fill="#aca04b"/><path d="M97.0 71.7 97.8 73.4 98.5 72.0 97.7 70.2Z" fill="#4498d3"/><path d="M98.9 74.0 100.0 75.8 100.7 74.6 99.6 72.7Z" fill="#4087f4"/><path d="M99.6 73.0L100.4 74.5M100.0 75.5L100.4 74.5" class="m"/><path d="M108.5 77.5 111.1 79.2 111.6 78.4 109.0 76.6Z" fill="#444fff"/><path d="M109.1 76.8L111.3 78.3M110.9 79.0L111.3 78.3" class="m"/><path d="M95.4 63.6 95.8 66.2 96.5 64.2 96.1 61.3Z" fill="#95af59"/><path d="M128.1 78.9 133.1 81.0 133.5 80.3 128.5 78.1Z" fill="#6239e5"/><path d="M128.4 79.0L128.8 78.3M132.9 80.9L133.3 80.3" class="m"/><path d="M95.7 65.8 96.1 69.2 96.7 67.6 96.3 63.8Z" fill="#78b176"/><path d="M101.1 75.7 102.7 77.4 103.3 76.4 101.7 74.5Z" fill="#4174ff"/><path d="M101.3 75.7L102.6 77.2" class="m"/><path d="M97.5 73.2 98.2 74.4 98.9 73.0 98.2 71.7Z" fill="#4290e2"/><path d="M102.8 76.2 105.3 78.5 105.9 77.6 103.4 75.2Z" fill="#4265ff"/><path d="M105.2 78.3L105.7 77.5" class="m"/><path d="M111.1 78.3 113.7 79.8 114.2 79.0 111.6 77.4Z" fill="#4947ff"/><path d="M111.3 78.3L113.5 79.6M111.3 78.3L111.8 77.5" class="m"/><path d="M95.9 68.9 96.4 71.3 97.1 69.7 96.6 67.1Z" fill="#59a69c"/><path d="M122.5 78.8 127.4 81.1 127.8 80.3 122.9 78.1Z" fill="#5f3beb"/><path d="M122.7 78.9L123.1 78.2M127.2 80.9L127.6 80.3" class="m"/><path d="M99.7 75.5 100.9 76.9 101.5 75.8 100.4 74.2Z" fill="#407dff"/><path d="M100.4 74.5L101.3 75.7M100.0 75.5L100.4 74.5" class="m"/><path d="M97.9 74.2 98.7 75.4 99.4 74.1 98.6 72.7Z" fill="#408aed"/><path d="M94.6 56.8 94.8 59.1 95.5 55.0 95.3 53.9Z" fill="#b85f39"/><path d="M105.4 77.4 108.0 79.3 108.5 78.5 106.0 76.5Z" fill="#4455ff"/><path d="M105.7 77.5L106.1 76.7" class="m"/><path d="M96.2 70.9 96.8 73.3 97.4 71.9 96.9 69.3Z" fill="#499cc2"/><path d="M113.7 78.8 116.4 80.3 116.8 79.5 114.2 78.0Z" fill="#5242fd"/><path d="M116.2 80.1L116.6 79.4" class="m"/><path d="M94.8 58.6 94.9 63.8 95.5 60.8 95.4 55.0Z" fill="#b89349"/><path d="M116.8 78.6 121.7 81.0 122.1 80.3 117.2 77.8Z" fill="#593ef3"/><path d="M117.0 78.7L117.4 78.0M121.5 80.9L121.9 80.2" class="m"/><path d="M94.7 63.5 95.1 66.5 95.8 63.8 95.5 60.3Z" fill="#9cac53"/><path d="M96.5 73.0 97.3 74.6 98.0 73.2 97.3 71.5Z" fill="#4292dd"/><path d="M98.4 75.1 99.6 76.7 100.2 75.6 99.1 73.8Z" fill="#3f83fb"/><path d="M99.5 76.5L100.0 75.5" class="m"/><path d="M108.0 78.3 110.6 80.0 111.1 79.1 108.6 77.4Z" fill="#444aff"/><path d="M110.5 79.8L110.9 79.0" class="m"/><path d="M94.9 66.4 95.3 68.5 96.1 65.9 95.6 63.4Z" fill="#85b568"/><path d="M127.7 79.6 132.8 81.6 133.2 81.0 128.2 78.8Z" fill="#6637e1"/><path d="M128.0 79.6L128.4 79.0M132.6 81.5L132.9 80.9" class="m"/><path d="M95.1 68.1 95.6 71.2 96.3 69.2 95.8 65.7Z" fill="#65ab8b"/><path d="M100.6 76.6 102.2 78.3 102.8 77.3 101.2 75.5Z" fill="#416cff"/><path d="M101.3 75.7L102.6 77.2" class="m"/><path d="M97.0 74.4 97.7 75.5 98.4 74.1 97.8 72.9Z" fill="#408bea"/><path d="M102.4 77.1 104.9 79.3 105.4 78.4 102.9 76.1Z" fill="#435eff"/><path d="M102.6 77.2L104.8 79.1M104.8 79.1L105.2 78.3" class="m"/><path d="M110.7 79.0 113.3 80.5 113.8 79.7 111.2 78.1Z" fill="#4f44ff"/><path d="M111.3 78.3L113.5 79.6M110.9 79.0L111.3 78.3" class="m"/><path d="M95.3 71.0 95.9 73.0 96.6 71.1 96.1 68.7Z" fill="#4f9fb2"/><path d="M122.1 79.5 127.0 81.7 127.5 81.0 122.5 78.7Z" fill="#6239e6"/><path d="M122.3 79.6L126.8 81.6M122.3 79.6L122.7 78.9M126.8 81.6L127.2 80.9" class="m"/><path d="M99.3 76.5 100.4 77.8 101.1 76.7 99.9 75.3Z" fill="#4075ff"/><path d="M99.5 76.5L100.0 75.5" class="m"/><path d="M97.5 75.3 98.2 76.5 98.9 75.1 98.2 73.9Z" fill="#3f85f5"/><path d="M94.1 60.0 94.3 62.0 95.0 58.6 94.8 56.3Z" fill="#ba8947"/><path d="M94.2 59.8L94.3 61.8" class="m"/><path d="M105.0 78.3 107.6 80.1 108.1 79.2 105.5 77.3Z" fill="#4450ff"/><path d="M105.2 78.3L105.7 77.5" class="m"/><path d="M95.7 72.7 96.3 74.8 97.0 73.1 96.4 70.8Z" fill="#4195d4"/><path d="M113.3 79.6 116.0 81.0 116.4 80.1 113.8 78.7Z" fill="#573ff6"/><path d="M113.5 79.6L115.8 80.8M115.8 80.8L116.2 80.1" class="m"/><path d="M94.2 61.6 94.4 66.2 95.0 63.7 94.9 58.6Z" fill="#a7a54b"/><path d="M94.3 61.8L94.4 66.0" class="m"/><path d="M116.4 79.3 121.3 81.7 121.7 81.0 116.8 78.6Z" fill="#5d3ced"/><path d="M116.6 79.4L117.0 78.7M121.1 81.5L121.5 80.9" class="m"/><path d="M94.1 65.9 94.6 68.7 95.3 66.4 94.9 63.3Z" fill="#89b465"/><path d="M94.4 66.0L94.6 68.4" class="m"/><path d="M96.1 74.6 96.8 76.0 97.5 74.3 96.8 72.8Z" fill="#408ae4"/><path d="M98.0 76.2 99.1 77.7 99.8 76.6 98.6 74.9Z" fill="#3f7cff"/><path d="M99.1 77.5L99.5 76.5" class="m"/><path d="M107.6 79.1 110.2 80.7 110.7 79.8 108.1 78.2Z" fill="#4a47ff"/><path d="M110.1 80.5L110.5 79.8" class="m"/><path d="M94.3 68.5 94.8 70.5 95.5 68.3 95.1 66.0Z" fill="#6eae81"/><path d="M94.6 68.4L94.8 70.2" class="m"/><path d="M127.4 80.2 132.4 82.3 132.8 81.6 127.8 79.5Z" fill="#6935dc"/><path d="M127.6 80.3L128.0 79.6M132.2 82.1L132.6 81.5" class="m"/><path d="M94.6 70.1 95.1 72.9 95.8 71.1 95.3 68.0Z" fill="#55a4a4"/><path d="M94.8 70.2L95.1 72.6" class="m"/><path d="M100.1 77.5 101.8 79.1 102.4 78.1 100.8 76.4Z" fill="#4165ff"/><path d="M96.6 75.9 97.2 76.8 97.9 75.1 97.3 74.1Z" fill="#3e84f0"/><path d="M101.9 78.0 104.5 80.1 105.0 79.2 102.5 77.0Z" fill="#4358ff"/><path d="M102.6 77.2L104.8 79.1M104.3 79.9L104.8 79.1" class="m"/><path d="M110.2 79.7 112.9 81.2 113.4 80.4 110.7 78.9Z" fill="#5341fb"/><path d="M110.5 79.8L110.9 79.0" class="m"/><path d="M94.8 72.6 95.4 74.5 96.1 72.8 95.6 70.7Z" fill="#4599ca"/><path d="M95.1 72.6L95.4 74.2" class="m"/><path d="M121.7 80.2 126.7 82.3 127.1 81.6 122.1 79.4Z" fill="#6637e1"/><path d="M122.3 79.6L126.8 81.6M121.9 80.2L122.3 79.6M126.4 82.2L126.8 81.6" class="m"/><path d="M98.8 77.4 100.0 78.7 100.6 77.6 99.5 76.3Z" fill="#406dff"/><path d="M99.1 77.5L99.5 76.5" class="m"/><path d="M97.0 76.6 97.7 77.7 98.4 76.1 97.7 75.0Z" fill="#3d7ef9"/><path d="M93.6 63.0 93.8 64.8 94.5 61.6 94.2 59.6Z" fill="#ac9f4a"/><path d="M94.2 59.8L94.3 61.8" class="m"/><path d="M104.5 79.1 107.1 80.8 107.6 80.0 105.1 78.1Z" fill="#444aff"/><path d="M104.8 79.1L107.0 80.6M104.8 79.1L105.2 78.3" class="m"/><path d="M95.2 74.2 95.8 76.1 96.5 74.6 95.9 72.5Z" fill="#3f8de1"/><path d="M95.4 74.2L95.8 75.9" class="m"/><path d="M112.9 80.3 115.5 81.6 116.0 80.8 113.4 79.4Z" fill="#5b3df1"/><path d="M113.5 79.6L115.8 80.8M115.4 81.4L115.8 80.8" class="m"/><path d="M93.7 64.3 93.9 68.5 94.5 66.2 94.3 61.5Z" fill="#95af59"/><path d="M94.3 61.8L94.4 66.0" class="m"/><path d="M116.0 80.0 120.9 82.3 121.3 81.6 116.4 79.3Z" fill="#613ae8"/><path d="M116.2 80.1L116.6 79.4M120.7 82.2L121.1 81.5" class="m"/><path d="M132.7 80.8 137.8 82.8 138.2 82.1 133.1 80.1Z" fill="#6e32d5"/><path d="M132.9 80.9L133.3 80.3" class="m"/><path d="M93.6 68.2 94.0 70.7 94.8 68.5 94.4 65.7Z" fill="#74b07b"/><path d="M94.4 66.0L94.6 68.4" class="m"/><path d="M95.6 75.9 96.3 77.2 97.0 75.7 96.3 74.3Z" fill="#3e84f0"/><path d="M95.8 75.9L96.3 77.0" class="m"/><path d="M97.5 77.4 98.6 78.8 99.3 77.5 98.2 76.0Z" fill="#3e70fd"/><path d="M98.6 78.6L99.1 77.5" class="m"/><path d="M107.2 79.8 109.8 81.4 110.3 80.5 107.7 78.9Z" fill="#4f44ff"/><path d="M109.6 81.2L110.1 80.5" class="m"/><path d="M93.8 70.5 94.3 72.3 95.0 70.2 94.6 68.2Z" fill="#5ba797"/><path d="M94.6 68.4L94.8 70.2" class="m"/><path d="M127.0 80.9 132.0 82.9 132.4 82.2 127.4 80.1Z" fill="#6c33d8"/><path d="M127.2 80.9L127.6 80.3M131.8 82.8L132.2 82.1" class="m"/><path d="M94.1 71.9 94.6 74.4 95.3 72.8 94.8 70.0Z" fill="#4b9dbc"/><path d="M94.8 70.2L95.1 72.6" class="m"/><path d="M99.7 78.4 101.3 80.0 101.9 79.0 100.3 77.4Z" fill="#425eff"/><path d="M96.1 77.1 96.7 78.0 97.5 76.5 96.8 75.5Z" fill="#3d7efb"/><path d="M96.3 77.0L96.8 77.7" class="m"/><path d="M101.5 78.8 104.0 80.9 104.6 80.0 102.0 77.9Z" fill="#4352ff"/><path d="M103.9 80.7L104.3 79.9" class="m"/><path d="M109.8 80.4 112.5 81.9 113.0 81.0 110.3 79.6Z" fill="#583ff5"/><path d="M110.1 80.5L110.5 79.8" class="m"/><path d="M94.4 74.2 94.9 75.9 95.7 74.3 95.1 72.4Z" fill="#4092da"/><path d="M95.1 72.6L95.4 74.2" class="m"/><path d="M121.3 80.8 126.3 82.9 126.7 82.2 121.7 80.1Z" fill="#6935dd"/><path d="M121.5 80.9L121.9 80.2M126.1 82.8L126.4 82.2" class="m"/><path d="M98.3 78.6 99.5 79.8 100.2 78.5 99.0 77.2Z" fill="#3f62ff"/><path d="M98.6 78.6L99.1 77.5" class="m"/><path d="M96.5 77.8 97.3 78.7 98.0 77.3 97.2 76.3Z" fill="#3d73fe"/><path d="M96.8 77.7L97.3 78.5" class="m"/><path d="M93.0 65.7 93.2 67.3 93.9 64.3 93.7 62.5Z" fill="#9bac53"/><path d="M104.1 79.8 106.7 81.5 107.2 80.7 104.6 78.9Z" fill="#4947ff"/><path d="M104.8 79.1L107.0 80.6M104.3 79.9L104.8 79.1" class="m"/><path d="M94.7 75.6 95.3 77.4 96.1 75.9 95.4 74.0Z" fill="#3c86eb"/><path d="M95.4 74.2L95.8 75.9" class="m"/><path d="M112.5 81.0 115.1 82.3 115.6 81.5 112.9 80.1Z" fill="#5f3beb"/><path d="M115.0 82.1L115.4 81.4" class="m"/><path d="M93.1 66.8 93.4 70.6 94.0 68.5 93.8 64.3Z" fill="#82b56b"/><path d="M115.5 80.7 120.5 82.9 120.9 82.2 116.0 80.0Z" fill="#6437e3"/><path d="M115.8 80.8L120.3 82.8M115.8 80.8L116.2 80.1M120.3 82.8L120.7 82.2" class="m"/><path d="M132.3 81.5 137.4 83.4 137.8 82.7 132.7 80.8Z" fill="#7030d2"/><path d="M132.6 81.5L132.9 80.9" class="m"/><path d="M93.1 70.4 93.5 72.5 94.3 70.5 93.9 68.0Z" fill="#5fa992"/><path d="M95.1 77.2 95.9 78.4 96.6 76.9 95.8 75.6Z" fill="#3c7efa"/><path d="M95.8 75.9L96.3 77.0" class="m"/><path d="M97.0 78.5 98.2 79.8 98.8 78.6 97.7 77.2Z" fill="#3f67ff"/><path d="M97.3 78.5L98.1 79.5M98.1 79.5L98.6 78.6" class="m"/><path d="M106.7 80.6 109.4 82.1 109.9 81.2 107.2 79.7Z" fill="#5441fb"/><path d="M107.0 80.6L109.2 81.9M109.2 81.9L109.6 81.2" class="m"/><path d="M93.3 72.4 93.8 74.0 94.5 72.0 94.1 70.2Z" fill="#50a0b0"/><path d="M126.6 81.5 131.7 83.5 132.1 82.8 127.0 80.8Z" fill="#6f31d5"/><path d="M126.8 81.6L131.4 83.4M126.8 81.6L127.2 80.9M131.4 83.4L131.8 82.8" class="m"/><path d="M93.6 73.7 94.1 75.9 94.8 74.3 94.3 71.8Z" fill="#4297d1"/><path d="M99.2 79.5 100.9 80.9 101.5 79.8 99.8 78.3Z" fill="#4155ff"/><path d="M95.6 78.2 96.3 79.0 97.0 77.6 96.3 76.7Z" fill="#3d73fe"/><path d="M96.3 77.0L96.8 77.7" class="m"/><path d="M101.0 79.7 103.6 81.6 104.1 80.7 101.5 78.7Z" fill="#434dff"/><path d="M103.4 81.4L103.9 80.7" class="m"/><path d="M109.4 81.1 112.0 82.5 112.5 81.7 109.9 80.3Z" fill="#5c3cef"/><path d="M109.6 81.2L110.1 80.5" class="m"/><path d="M93.9 75.7 94.4 77.2 95.2 75.7 94.6 73.9Z" fill="#3d8ae5"/><path d="M120.9 81.5 125.9 83.6 126.3 82.9 121.3 80.8Z" fill="#6c33d9"/><path d="M121.1 81.5L121.5 80.9M125.7 83.4L126.1 82.8" class="m"/><path d="M97.9 79.6 99.1 80.7 99.7 79.5 98.5 78.3Z" fill="#405aff"/><path d="M98.1 79.5L99.0 80.4M98.1 79.5L98.6 78.6" class="m"/><path d="M96.0 78.9 96.8 79.8 97.5 78.4 96.7 77.5Z" fill="#3d69ff"/><path d="M96.8 77.7L97.3 78.5" class="m"/><path d="M92.5 68.0 92.7 69.4 93.4 66.9 93.2 65.2Z" fill="#89b464"/><path d="M103.6 80.6 106.3 82.2 106.8 81.4 104.2 79.7Z" fill="#4e44ff"/><path d="M103.9 80.7L104.3 79.9" class="m"/><path d="M94.2 77.0 94.9 78.6 95.6 77.2 94.9 75.4Z" fill="#3b7ff5"/><path d="M112.0 81.6 114.7 82.9 115.2 82.1 112.5 80.8Z" fill="#6338e6"/><path d="M114.5 82.8L115.0 82.1" class="m"/><path d="M92.6 68.9 92.9 72.4 93.5 70.6 93.3 66.8Z" fill="#6dae82"/><path d="M115.1 81.4 120.1 83.6 120.5 82.9 115.6 80.6Z" fill="#6835df"/><path d="M115.8 80.8L120.3 82.8M115.4 81.4L115.8 80.8M119.9 83.4L120.3 82.8" class="m"/><path d="M131.9 82.1 137.1 84.0 137.4 83.4 132.3 81.4Z" fill="#732fcf"/><path d="M132.2 82.1L132.6 81.5" class="m"/><path d="M92.6 72.1 93.1 74.1 93.8 72.4 93.4 70.1Z" fill="#53a2a9"/><path d="M94.6 78.4 95.4 79.5 96.1 78.1 95.3 76.9Z" fill="#3c73fd"/><path d="M96.5 79.5 97.7 80.7 98.4 79.6 97.2 78.2Z" fill="#3f5eff"/><path d="M97.3 78.5L98.1 79.5M97.7 80.5L98.1 79.5" class="m"/><path d="M106.3 81.3 108.9 82.7 109.4 81.9 106.8 80.4Z" fill="#583ef4"/><path d="M107.0 80.6L109.2 81.9M108.8 82.6L109.2 81.9" class="m"/><path d="M92.8 74.0 93.3 75.5 94.1 73.7 93.6 72.0Z" fill="#479ac7"/><path d="M126.2 82.1 131.3 84.1 131.7 83.4 126.6 81.4Z" fill="#7130d1"/><path d="M126.8 81.6L131.4 83.4M126.4 82.2L126.8 81.6M131.1 84.0L131.4 83.4" class="m"/><path d="M93.1 75.1 93.6 77.2 94.3 75.8 93.8 73.5Z" fill="#3f8fde"/><path d="M98.8 80.4 100.4 81.7 101.0 80.7 99.4 79.3Z" fill="#414eff"/><path d="M99.0 80.4L100.3 81.5" class="m"/><path d="M95.2 79.3 95.8 80.1 96.5 78.7 95.9 77.9Z" fill="#3d68ff"/><path d="M100.5 80.6 103.1 82.4 103.7 81.5 101.1 79.5Z" fill="#4546ff"/><path d="M103.0 82.2L103.4 81.4" class="m"/><path d="M109.0 81.8 111.6 83.2 112.1 82.4 109.5 81.0Z" fill="#603aea"/><path d="M109.2 81.9L111.4 83.0M109.2 81.9L109.6 81.2" class="m"/><path d="M93.4 77.0 94.0 78.4 94.7 77.0 94.1 75.4Z" fill="#3b83f0"/><path d="M120.5 82.1 125.5 84.2 125.9 83.5 120.9 81.4Z" fill="#6e31d5"/><path d="M120.7 82.2L121.1 81.5M125.3 84.0L125.7 83.4" class="m"/><path d="M97.4 80.5 98.6 81.6 99.3 80.4 98.1 79.3Z" fill="#4052ff"/><path d="M98.1 79.5L99.0 80.4M97.7 80.5L98.1 79.5" class="m"/><path d="M95.6 79.9 96.3 80.7 97.0 79.4 96.3 78.5Z" fill="#3e5fff"/><path d="M92.0 69.9 92.2 71.2 93.0 69.0 92.7 67.5Z" fill="#77b178"/><path d="M103.2 81.4 105.8 82.9 106.3 82.1 103.7 80.5Z" fill="#5341fc"/><path d="M103.4 81.4L103.9 80.7" class="m"/><path d="M93.7 78.1 94.4 79.6 95.1 78.4 94.5 76.7Z" fill="#3978fc"/><path d="M111.6 82.3 114.3 83.6 114.8 82.8 112.1 81.5Z" fill="#6636e1"/><path d="M114.1 83.4L114.5 82.8" class="m"/><path d="M92.1 70.8 92.4 73.9 93.0 72.4 92.8 68.9Z" fill="#5ca895"/><path d="M114.7 82.0 119.7 84.2 120.1 83.5 115.2 81.3Z" fill="#6b34db"/><path d="M115.0 82.1L115.4 81.4M119.5 84.1L119.9 83.4" class="m"/><path d="M131.6 82.7 136.7 84.6 137.1 84.0 132.0 82.0Z" fill="#752ecc"/><path d="M131.8 82.8L132.2 82.1" class="m"/><path d="M92.1 73.6 92.6 75.5 93.3 74.0 92.9 71.9Z" fill="#4a9cbe"/><path d="M94.1 79.4 94.9 80.5 95.6 79.2 94.9 78.1Z" fill="#3c69ff"/><path d="M96.1 80.5 97.3 81.6 97.9 80.5 96.7 79.3Z" fill="#3f55ff"/><path d="M97.2 81.4L97.7 80.5" class="m"/><path d="M105.9 82.0 108.5 83.4 109.0 82.6 106.4 81.2Z" fill="#5c3cef"/><path d="M108.3 83.2L108.8 82.6" class="m"/><path d="M92.3 75.3 92.8 76.8 93.6 75.2 93.1 73.6Z" fill="#4094d7"/><path d="M125.8 82.7 130.9 84.7 131.3 84.0 126.2 82.1Z" fill="#732ece"/><path d="M126.1 82.8L126.4 82.2M130.7 84.6L131.1 84.0" class="m"/><path d="M92.6 76.4 93.1 78.4 93.8 77.1 93.3 75.0Z" fill="#3c88e8"/><path d="M98.3 81.3 100.0 82.6 100.6 81.5 98.9 80.2Z" fill="#4348ff"/><path d="M99.0 80.4L100.3 81.5" class="m"/><path d="M94.7 80.3 95.3 81.0 96.0 79.7 95.4 79.0Z" fill="#3d60ff"/><path d="M100.1 81.4 102.7 83.2 103.2 82.3 100.6 80.5Z" fill="#4d43ff"/><path d="M100.3 81.5L102.5 83.0M102.5 83.0L103.0 82.2" class="m"/><path d="M108.5 82.5 111.2 83.8 111.7 83.0 109.0 81.7Z" fill="#6438e5"/><path d="M109.2 81.9L111.4 83.0M108.8 82.6L109.2 81.9" class="m"/><path d="M92.9 78.1 93.5 79.5 94.2 78.2 93.7 76.7Z" fill="#3a7ef8"/><path d="M120.1 82.8 125.1 84.8 125.5 84.1 120.5 82.0Z" fill="#7130d1"/><path d="M120.3 82.8L124.9 84.6M120.3 82.8L120.7 82.2M124.9 84.6L125.3 84.0" class="m"/><path d="M97.0 81.4 98.1 82.4 98.8 81.3 97.6 80.2Z" fill="#414bff"/><path d="M97.2 81.4L97.7 80.5" class="m"/><path d="M95.1 80.9 95.9 81.6 96.6 80.4 95.8 79.6Z" fill="#3e58ff"/><path d="M91.5 71.7 91.7 73.0 92.4 70.8 92.2 69.4Z" fill="#66ab8b"/><path d="M91.6 71.6L91.8 72.7" class="m"/><path d="M102.7 82.2 105.4 83.7 105.9 82.8 103.3 81.2Z" fill="#573df1"/><path d="M103.0 82.2L103.4 81.4" class="m"/><path d="M93.2 79.2 93.9 80.6 94.6 79.4 94.0 77.9Z" fill="#396efe"/><path d="M111.2 83.0 113.9 84.2 114.4 83.4 111.7 82.2Z" fill="#6934dd"/><path d="M111.4 83.0L113.7 84.0M113.7 84.0L114.1 83.4" class="m"/><path d="M91.6 72.5 91.9 75.4 92.5 73.9 92.3 70.7Z" fill="#52a2aa"/><path d="M91.8 72.7L91.9 75.2" class="m"/><path d="M114.3 82.7 119.3 84.8 119.7 84.1 114.7 82.0Z" fill="#6d32d7"/><path d="M114.5 82.8L115.0 82.1M119.1 84.7L119.5 84.1" class="m"/><path d="M131.2 83.3 136.3 85.2 136.7 84.6 131.6 82.6Z" fill="#772cc9"/><path d="M131.4 83.4L136.1 85.1M131.4 83.4L131.8 82.8" class="m"/><path d="M91.6 75.2 92.1 76.9 92.8 75.4 92.4 73.4Z" fill="#4297d0"/><path d="M91.9 75.2L92.1 76.6" class="m"/><path d="M93.7 80.4 94.4 81.4 95.2 80.2 94.4 79.1Z" fill="#3c62ff"/><path d="M95.6 81.4 96.8 82.5 97.5 81.4 96.3 80.3Z" fill="#404fff"/><path d="M96.7 82.2L97.2 81.4" class="m"/><path d="M105.4 82.7 108.1 84.1 108.6 83.3 105.9 81.9Z" fill="#6039e9"/><path d="M107.9 83.9L108.3 83.2" class="m"/><path d="M91.9 76.7 92.3 78.0 93.1 76.5 92.6 75.0Z" fill="#3e8de1"/><path d="M92.1 76.6L92.3 77.8" class="m"/><path d="M125.4 83.4 130.5 85.3 130.9 84.6 125.8 82.7Z" fill="#752dcb"/><path d="M125.7 83.4L126.1 82.8M130.3 85.2L130.7 84.6" class="m"/><path d="M92.1 77.7 92.7 79.5 93.4 78.2 92.8 76.3Z" fill="#3b82f0"/><path d="M92.3 77.8L92.7 79.2" class="m"/><path d="M97.8 82.2 99.5 83.4 100.1 82.4 98.4 81.1Z" fill="#4a44ff"/><path d="M94.2 81.2 94.9 81.9 95.6 80.7 94.9 80.0Z" fill="#3e59ff"/><path d="M99.6 82.3 102.2 83.9 102.8 83.1 100.2 81.3Z" fill="#533ff8"/><path d="M100.3 81.5L102.5 83.0M102.1 83.7L102.5 83.0" class="m"/><path d="M108.1 83.2 110.8 84.5 111.3 83.7 108.6 82.4Z" fill="#6736e0"/><path d="M108.3 83.2L108.8 82.6" class="m"/><path d="M92.4 79.3 93.0 80.5 93.7 79.2 93.2 77.9Z" fill="#3976fc"/><path d="M92.7 79.2L93.0 80.2" class="m"/><path d="M119.7 83.4 124.7 85.4 125.1 84.7 120.1 82.7Z" fill="#732ece"/><path d="M120.3 82.8L124.9 84.6M119.9 83.4L120.3 82.8M124.5 85.3L124.9 84.6" class="m"/><path d="M96.5 82.3 97.7 83.2 98.3 82.2 97.1 81.2Z" fill="#4546ff"/><path d="M96.7 82.2L97.2 81.4" class="m"/><path d="M94.6 81.7 95.4 82.5 96.1 81.3 95.3 80.5Z" fill="#3f52ff"/><path d="M91.0 73.5 91.2 74.6 91.9 72.6 91.7 71.3Z" fill="#57a59f"/><path d="M91.6 71.6L91.8 72.7" class="m"/><path d="M102.3 82.9 104.9 84.4 105.5 83.5 102.8 82.0Z" fill="#5e3aeb"/><path d="M102.5 83.0L104.8 84.2M102.5 83.0L103.0 82.2" class="m"/><path d="M92.8 80.2 93.4 81.5 94.2 80.4 93.5 79.0Z" fill="#3965ff"/><path d="M93.0 80.2L93.4 81.3" class="m"/><path d="M110.8 83.6 113.5 84.8 114.0 84.1 111.3 82.8Z" fill="#6c33d9"/><path d="M111.4 83.0L113.7 84.0M113.3 84.7L113.7 84.0" class="m"/><path d="M91.1 74.2 91.4 76.9 92.0 75.4 91.8 72.5Z" fill="#499cbf"/><path d="M91.8 72.7L91.9 75.2" class="m"/><path d="M113.9 83.3 118.9 85.4 119.3 84.7 114.3 82.6Z" fill="#7030d3"/><path d="M114.1 83.4L114.5 82.8M118.7 85.3L119.1 84.7" class="m"/><path d="M130.8 83.9 136.0 85.8 136.4 85.1 131.2 83.2Z" fill="#792bc6"/><path d="M131.4 83.4L136.1 85.1M131.1 84.0L131.4 83.4" class="m"/><path d="M91.1 76.6 91.6 78.2 92.3 76.7 91.9 74.9Z" fill="#3f90dc"/><path d="M91.9 75.2L92.1 76.6" class="m"/><path d="M93.2 81.3 94.0 82.2 94.7 81.1 93.9 80.1Z" fill="#3c5aff"/><path d="M93.4 81.3L94.0 82.0" class="m"/><path d="M95.1 82.2 96.3 83.3 97.0 82.3 95.8 81.2Z" fill="#4049ff"/><path d="M96.3 83.0L96.7 82.2" class="m"/><path d="M105.0 83.5 107.6 84.8 108.2 83.9 105.5 82.6Z" fill="#6436e1"/><path d="M107.5 84.6L107.9 83.9" class="m"/><path d="M91.4 78.0 91.8 79.2 92.6 77.7 92.1 76.4Z" fill="#3c87ea"/><path d="M92.1 76.6L92.3 77.8" class="m"/><path d="M125.0 84.0 130.2 85.9 130.6 85.2 125.5 83.3Z" fill="#772cc8"/><path d="M125.3 84.0L125.7 83.4M129.9 85.8L130.3 85.2" class="m"/><path d="M91.6 78.9 92.2 80.6 92.9 79.3 92.4 77.5Z" fill="#397df8"/><path d="M92.3 77.8L92.7 79.2" class="m"/><path d="M97.4 82.9 99.1 84.1 99.7 83.2 98.0 81.9Z" fill="#5140fb"/><path d="M93.7 82.1 94.4 82.7 95.1 81.6 94.4 80.9Z" fill="#3e52ff"/><path d="M94.0 82.0L94.4 82.5" class="m"/><path d="M99.2 83.1 101.8 84.7 102.3 83.8 99.7 82.1Z" fill="#593cf0"/><path d="M101.6 84.5L102.1 83.7" class="m"/><path d="M107.7 83.9 110.3 85.1 110.8 84.3 108.2 83.1Z" fill="#6a34dc"/><path d="M107.9 83.9L108.3 83.2" class="m"/><path d="M91.9 80.3 92.5 81.5 93.3 80.2 92.7 79.0Z" fill="#396cfe"/><path d="M92.7 79.2L93.0 80.2" class="m"/><path d="M119.3 84.0 124.3 86.0 124.7 85.3 119.7 83.3Z" fill="#752dcb"/><path d="M119.5 84.1L119.9 83.4M124.1 85.9L124.5 85.3" class="m"/><path d="M96.0 83.0 97.2 83.9 97.9 83.0 96.7 82.0Z" fill="#4b43ff"/><path d="M96.3 83.0L96.7 82.2" class="m"/><path d="M94.2 82.6 94.9 83.3 95.6 82.2 94.9 81.4Z" fill="#3f4cff"/><path d="M94.4 82.5L94.9 83.0" class="m"/><path d="M90.5 75.3 90.7 76.3 91.4 74.2 91.2 73.1Z" fill="#4e9fb5"/><path d="M101.8 83.7 104.5 85.1 105.0 84.2 102.4 82.8Z" fill="#6337e4"/><path d="M102.5 83.0L104.8 84.2M102.1 83.7L102.5 83.0" class="m"/><path d="M92.3 81.2 93.0 82.4 93.7 81.3 93.0 80.0Z" fill="#385dff"/><path d="M93.0 80.2L93.4 81.3" class="m"/><path d="M110.3 84.3 113.1 85.5 113.5 84.7 110.8 83.5Z" fill="#6f31d5"/><path d="M112.9 85.3L113.3 84.7" class="m"/><path d="M90.6 75.9 90.9 78.3 91.6 76.8 91.3 74.1Z" fill="#4196d2"/><path d="M113.5 84.0 118.5 86.0 118.9 85.4 113.9 83.3Z" fill="#722fd0"/><path d="M113.7 84.0L118.3 85.9M113.7 84.0L114.1 83.4M118.3 85.9L118.7 85.3" class="m"/><path d="M130.4 84.5 135.6 86.4 136.0 85.7 130.8 83.9Z" fill="#7a2ac4"/><path d="M130.7 84.6L131.1 84.0" class="m"/><path d="M90.7 78.1 91.1 79.5 91.9 77.9 91.4 76.4Z" fill="#3d89e6"/><path d="M92.7 82.2 93.5 83.1 94.2 82.0 93.4 81.0Z" fill="#3d54ff"/><path d="M93.4 81.3L94.0 82.0" class="m"/><path d="M94.7 83.0 95.9 84.0 96.5 83.0 95.3 82.0Z" fill="#4645ff"/><path d="M94.9 83.0L95.8 83.8M95.8 83.8L96.3 83.0" class="m"/><path d="M104.5 84.2 107.2 85.4 107.7 84.6 105.0 83.3Z" fill="#6934dc"/><path d="M104.8 84.2L107.0 85.3M107.0 85.3L107.5 84.6" class="m"/><path d="M90.9 79.3 91.3 80.4 92.1 78.9 91.6 77.7Z" fill="#3b81f3"/><path d="M124.7 84.6 129.8 86.5 130.2 85.8 125.1 83.9Z" fill="#792bc6"/><path d="M124.9 84.6L129.6 86.4M124.9 84.6L125.3 84.0M129.6 86.4L129.9 85.8" class="m"/><path d="M91.1 80.1 91.7 81.6 92.4 80.4 91.9 78.7Z" fill="#3874fb"/><path d="M96.9 83.7 98.6 84.8 99.2 83.9 97.5 82.7Z" fill="#573ef5"/><path d="M93.3 83.0 93.9 83.6 94.6 82.4 94.0 81.7Z" fill="#3f4cff"/><path d="M94.0 82.0L94.4 82.5" class="m"/><path d="M98.7 83.8 101.4 85.3 101.9 84.5 99.2 82.9Z" fill="#5f39ea"/><path d="M101.2 85.2L101.6 84.5" class="m"/><path d="M107.2 84.6 109.9 85.8 110.4 85.0 107.7 83.7Z" fill="#6d32d6"/><path d="M107.5 84.6L107.9 83.9" class="m"/><path d="M91.5 81.4 92.0 82.5 92.8 81.2 92.2 80.1Z" fill="#3863ff"/><path d="M118.9 84.6 123.9 86.6 124.4 85.9 119.3 83.9Z" fill="#772cc8"/><path d="M119.1 84.7L119.5 84.1M123.7 86.5L124.1 85.9" class="m"/><path d="M95.6 83.8 96.8 84.7 97.4 83.7 96.2 82.8Z" fill="#5140fc"/><path d="M95.8 83.8L96.7 84.4M95.8 83.8L96.3 83.0" class="m"/><path d="M93.7 83.4 94.5 84.1 95.2 83.0 94.4 82.2Z" fill="#4147ff"/><path d="M94.4 82.5L94.9 83.0" class="m"/><path d="M90.0 77.1 90.2 78.0 90.9 75.8 90.7 74.8Z" fill="#4498cc"/><path d="M101.4 84.4 104.1 85.8 104.6 84.9 101.9 83.6Z" fill="#6735de"/><path d="M101.6 84.5L102.1 83.7" class="m"/><path d="M91.8 82.2 92.5 83.3 93.2 82.2 92.5 81.0Z" fill="#3856ff"/><path d="M109.9 84.9 112.6 86.1 113.1 85.3 110.4 84.1Z" fill="#7130d2"/><path d="M112.4 85.9L112.9 85.3" class="m"/><path d="M90.0 77.7 90.4 79.8 91.1 78.2 90.8 75.8Z" fill="#3e8ddf"/><path d="M113.0 84.6 118.1 86.6 118.5 86.0 113.5 83.9Z" fill="#742ecd"/><path d="M113.7 84.0L118.3 85.9M113.3 84.7L113.7 84.0M117.9 86.5L118.3 85.9" class="m"/><path d="M130.1 85.1 135.3 87.0 135.6 86.3 130.5 84.5Z" fill="#7c29c2"/><path d="M130.3 85.2L130.7 84.6" class="m"/><path d="M90.2 79.6 90.6 80.9 91.4 79.2 90.9 77.8Z" fill="#3a81f0"/><path d="M92.2 83.2 93.0 84.0 93.7 82.8 93.0 81.9Z" fill="#3d4dff"/><path d="M94.2 83.9 95.4 84.8 96.1 83.8 94.9 82.8Z" fill="#4c42ff"/><path d="M94.9 83.0L95.8 83.8M95.4 84.6L95.8 83.8" class="m"/><path d="M104.1 84.9 106.8 86.1 107.3 85.3 104.6 84.0Z" fill="#6d32d7"/><path d="M104.8 84.2L107.0 85.3M106.6 85.9L107.0 85.3" class="m"/><path d="M90.4 80.7 90.9 81.7 91.6 80.1 91.1 79.0Z" fill="#3979fa"/><path d="M124.3 85.2 129.4 87.1 129.8 86.4 124.7 84.5Z" fill="#7b2ac3"/><path d="M124.9 84.6L129.6 86.4M124.5 85.3L124.9 84.6M129.2 87.0L129.6 86.4" class="m"/><path d="M90.6 81.5 91.2 82.8 92.0 81.4 91.4 79.9Z" fill="#3768fd"/><path d="M96.5 84.4 98.2 85.5 98.7 84.6 97.0 83.5Z" fill="#5c3bef"/><path d="M96.7 84.4L98.0 85.3" class="m"/><path d="M92.8 83.8 93.5 84.4 94.2 83.2 93.5 82.6Z" fill="#4047ff"/><path d="M98.3 84.5 100.9 86.0 101.4 85.2 98.8 83.7Z" fill="#6437e5"/><path d="M100.7 85.8L101.2 85.2" class="m"/><path d="M106.8 85.2 109.5 86.4 110.0 85.6 107.3 84.4Z" fill="#7130d1"/><path d="M107.0 85.3L109.3 86.3M107.0 85.3L107.5 84.6" class="m"/><path d="M91.0 82.6 91.6 83.5 92.3 82.2 91.7 81.1Z" fill="#3859ff"/><path d="M118.4 85.2 123.5 87.2 124.0 86.5 118.9 84.6Z" fill="#792bc6"/><path d="M118.7 85.3L119.1 84.7M123.3 87.1L123.7 86.5" class="m"/><path d="M95.1 84.6 96.3 85.4 97.0 84.4 95.7 83.6Z" fill="#563df5"/><path d="M95.8 83.8L96.7 84.4M95.4 84.6L95.8 83.8" class="m"/><path d="M93.2 84.2 94.0 84.9 94.7 83.8 93.9 83.1Z" fill="#4843ff"/><path d="M89.5 78.8 89.7 79.6 90.4 77.6 90.2 76.7Z" fill="#3f8fdd"/><path d="M100.9 85.1 103.6 86.4 104.1 85.6 101.5 84.3Z" fill="#6b33d9"/><path d="M101.2 85.2L101.6 84.5" class="m"/><path d="M91.3 83.3 92.0 84.3 92.7 83.1 92.1 82.0Z" fill="#384dff"/><path d="M109.5 85.6 112.2 86.7 112.7 85.9 110.0 84.8Z" fill="#732ecd"/><path d="M112.0 86.6L112.4 85.9" class="m"/><path d="M89.5 79.3 89.9 81.2 90.6 79.6 90.3 77.5Z" fill="#3b85eb"/><path d="M112.6 85.2 117.7 87.2 118.1 86.6 113.1 84.5Z" fill="#762dca"/><path d="M112.9 85.3L113.3 84.7M117.5 87.1L117.9 86.5" class="m"/><path d="M129.7 85.7 134.9 87.6 135.3 86.9 130.1 85.1Z" fill="#7d28c0"/><path d="M129.9 85.8L130.3 85.2" class="m"/><path d="M89.7 81.0 90.1 82.1 90.9 80.5 90.4 79.3Z" fill="#3879f9"/><path d="M91.8 84.1 92.6 84.9 93.3 83.7 92.5 82.8Z" fill="#3e46ff"/><path d="M93.7 84.7 95.0 85.6 95.6 84.5 94.4 83.6Z" fill="#523ff9"/><path d="M94.9 85.3L95.4 84.6" class="m"/><path d="M103.6 85.6 106.3 86.8 106.8 86.0 104.2 84.7Z" fill="#7030d2"/><path d="M106.2 86.6L106.6 85.9" class="m"/><path d="M89.9 82.0 90.4 82.8 91.1 81.3 90.7 80.4Z" fill="#386cfc"/><path d="M123.9 85.8 129.0 87.7 129.4 87.0 124.3 85.1Z" fill="#7c29c1"/><path d="M124.1 85.9L124.5 85.3M128.8 87.6L129.2 87.0" class="m"/><path d="M90.2 82.6 90.7 83.8 91.5 82.5 90.9 81.2Z" fill="#375dff"/><path d="M96.0 85.2 97.7 86.2 98.3 85.3 96.6 84.2Z" fill="#6038e9"/><path d="M96.7 84.4L98.0 85.3" class="m"/><path d="M92.3 84.7 93.0 85.3 93.7 84.1 93.0 83.5Z" fill="#4742ff"/><path d="M97.8 85.2 100.5 86.7 101.0 85.9 98.3 84.4Z" fill="#6735e0"/><path d="M98.0 85.3L100.3 86.5M100.3 86.5L100.7 85.8" class="m"/><path d="M106.3 85.9 109.1 87.1 109.6 86.3 106.8 85.1Z" fill="#742ecd"/><path d="M107.0 85.3L109.3 86.3M106.6 85.9L107.0 85.3" class="m"/><path d="M90.5 83.7 91.1 84.5 91.8 83.2 91.2 82.3Z" fill="#3850ff"/><path d="M118.0 85.8 123.2 87.8 123.6 87.1 118.5 85.2Z" fill="#7b2ac4"/><path d="M118.3 85.9L122.9 87.6M118.3 85.9L118.7 85.3M122.9 87.6L123.3 87.1" class="m"/><path d="M94.6 85.3 95.9 86.1 96.5 85.2 95.3 84.3Z" fill="#5b3aee"/><path d="M94.9 85.3L95.4 84.6" class="m"/><path d="M92.8 85.1 93.5 85.7 94.2 84.6 93.5 83.9Z" fill="#4f3ff9"/><path d="M89.0 80.5 89.2 81.2 89.9 79.2 89.7 78.4Z" fill="#3c85ea"/><path d="M89.1 80.3L89.3 81.0" class="m"/><path d="M100.5 85.8 103.2 87.1 103.7 86.3 101.0 85.0Z" fill="#6f31d5"/><path d="M100.7 85.8L101.2 85.2" class="m"/><path d="M90.9 84.3 91.5 85.2 92.3 84.0 91.6 83.0Z" fill="#3946ff"/><path d="M109.1 86.2 111.8 87.4 112.3 86.6 109.5 85.4Z" fill="#762cc9"/><path d="M109.3 86.3L111.6 87.2M111.6 87.2L112.0 86.6" class="m"/><path d="M89.0 81.0 89.4 82.6 90.2 80.9 89.8 79.1Z" fill="#387cf6"/><path d="M89.3 81.0L89.4 82.3" class="m"/><path d="M112.2 85.9 117.3 87.8 117.7 87.2 112.7 85.2Z" fill="#782bc7"/><path d="M112.4 85.9L112.9 85.3M117.1 87.7L117.5 87.1" class="m"/><path d="M129.3 86.3 134.5 88.2 134.9 87.5 129.7 85.7Z" fill="#7e28be"/><path d="M129.6 86.4L134.3 88.0M129.6 86.4L129.9 85.8" class="m"/><path d="M89.2 82.5 89.6 83.4 90.4 81.7 90.0 80.7Z" fill="#376bfb"/><path d="M89.4 82.3L89.7 83.1" class="m"/><path d="M91.3 85.0 92.1 85.7 92.8 84.5 92.0 83.8Z" fill="#4742ff"/><path d="M93.3 85.5 94.5 86.3 95.1 85.3 93.9 84.4Z" fill="#583bf0"/><path d="M94.4 86.1L94.9 85.3" class="m"/><path d="M103.2 86.2 105.9 87.4 106.4 86.6 103.7 85.4Z" fill="#732ece"/><path d="M105.7 87.2L106.2 86.6" class="m"/><path d="M89.5 83.3 89.9 84.0 90.6 82.5 90.2 81.6Z" fill="#385ffe"/><path d="M89.7 83.1L89.9 83.8" class="m"/><path d="M123.5 86.4 128.6 88.3 129.0 87.6 123.9 85.7Z" fill="#7d28bf"/><path d="M123.7 86.5L124.1 85.9M128.4 88.1L128.8 87.6" class="m"/><path d="M89.7 83.9 90.2 84.9 91.0 83.5 90.4 82.3Z" fill="#3752ff"/><path d="M89.9 83.8L90.3 84.6" class="m"/><path d="M95.5 85.9 97.3 86.9 97.8 86.0 96.1 85.0Z" fill="#6436e3"/><path d="M91.8 85.6 92.5 86.1 93.2 84.9 92.6 84.4Z" fill="#4f3ef8"/><path d="M97.3 85.9 100.0 87.3 100.5 86.5 97.9 85.1Z" fill="#6b33db"/><path d="M98.0 85.3L100.3 86.5M99.8 87.1L100.3 86.5" class="m"/><path d="M105.9 86.6 108.6 87.7 109.1 86.9 106.4 85.8Z" fill="#762cc9"/><path d="M106.2 86.6L106.6 85.9" class="m"/><path d="M90.0 84.7 90.6 85.5 91.3 84.1 90.8 83.3Z" fill="#3847ff"/><path d="M90.3 84.6L90.6 85.2" class="m"/><path d="M117.6 86.5 122.8 88.4 123.2 87.7 118.1 85.8Z" fill="#7c29c1"/><path d="M118.3 85.9L122.9 87.6M117.9 86.5L118.3 85.9M122.5 88.2L122.9 87.6" class="m"/><path d="M94.2 86.1 95.4 86.9 96.0 85.9 94.8 85.1Z" fill="#6037e6"/><path d="M94.4 86.1L94.9 85.3" class="m"/><path d="M92.3 85.9 93.1 86.5 93.8 85.4 93.0 84.8Z" fill="#563bf1"/><path d="M88.5 82.1 88.7 82.7 89.4 80.8 89.2 80.1Z" fill="#397df6"/><path d="M89.1 80.3L89.3 81.0" class="m"/><path d="M100.0 86.4 102.7 87.7 103.2 86.9 100.6 85.6Z" fill="#712fd1"/><path d="M100.3 86.5L102.6 87.5M100.3 86.5L100.7 85.8" class="m"/><path d="M90.4 85.3 91.1 86.1 91.8 84.9 91.1 84.0Z" fill="#4040ff"/><path d="M90.6 85.2L91.1 85.9" class="m"/><path d="M108.6 86.9 111.4 88.0 111.8 87.2 109.1 86.1Z" fill="#792bc6"/><path d="M109.3 86.3L111.6 87.2M111.2 87.8L111.6 87.2" class="m"/><path d="M88.5 82.5 88.9 83.8 89.7 82.3 89.3 80.7Z" fill="#366efb"/><path d="M89.3 81.0L89.4 82.3" class="m"/><path d="M111.8 86.5 116.9 88.5 117.3 87.8 112.2 85.8Z" fill="#7a2ac4"/><path d="M112.0 86.6L112.4 85.9M116.6 88.3L117.1 87.7" class="m"/><path d="M128.9 86.9 134.1 88.7 134.5 88.1 129.3 86.3Z" fill="#8027bc"/><path d="M129.6 86.4L134.3 88.0M129.2 87.0L129.6 86.4" class="m"/><path d="M88.7 83.7 89.1 84.6 89.9 83.0 89.5 82.1Z" fill="#365efe"/><path d="M89.4 82.3L89.7 83.1" class="m"/><path d="M90.8 85.9 91.6 86.6 92.3 85.4 91.5 84.7Z" fill="#4e3df5"/><path d="M91.1 85.9L91.6 86.3" class="m"/><path d="M92.8 86.3 94.0 87.1 94.7 86.1 93.5 85.2Z" fill="#5e38e8"/><path d="M93.9 86.9L94.4 86.1" class="m"/><path d="M102.8 86.9 105.5 88.0 106.0 87.3 103.3 86.1Z" fill="#762dcb"/><path d="M105.3 87.9L105.7 87.2" class="m"/><path d="M89.0 84.5 89.4 85.1 90.1 83.6 89.7 82.9Z" fill="#3754ff"/><path d="M89.7 83.1L89.9 83.8" class="m"/><path d="M123.1 87.0 128.3 88.9 128.7 88.2 123.5 86.3Z" fill="#7f27bd"/><path d="M123.3 87.1L123.7 86.5M128.0 88.7L128.4 88.1" class="m"/><path d="M89.2 85.0 89.8 85.9 90.5 84.6 89.9 83.5Z" fill="#3748ff"/><path d="M89.9 83.8L90.3 84.6" class="m"/><path d="M95.1 86.7 96.8 87.6 97.4 86.7 95.7 85.7Z" fill="#6933dc"/><path d="M91.4 86.5 92.0 86.9 92.7 85.7 92.1 85.2Z" fill="#573aee"/><path d="M91.6 86.3L92.0 86.7" class="m"/><path d="M96.9 86.6 99.6 88.0 100.1 87.2 97.4 85.8Z" fill="#6e31d6"/><path d="M99.4 87.8L99.8 87.1" class="m"/><path d="M105.5 87.2 108.2 88.3 108.7 87.6 106.0 86.4Z" fill="#792bc6"/><path d="M105.7 87.2L106.2 86.6" class="m"/><path d="M89.6 85.7 90.1 86.4 90.8 85.1 90.3 84.4Z" fill="#3e41ff"/><path d="M90.3 84.6L90.6 85.2" class="m"/><path d="M117.2 87.1 122.4 89.0 122.8 88.3 117.7 86.4Z" fill="#7d28bf"/><path d="M117.5 87.1L117.9 86.5M122.1 88.8L122.5 88.2" class="m"/><path d="M93.7 86.9 94.9 87.6 95.6 86.6 94.3 85.9Z" fill="#6634df"/><path d="M93.9 86.9L94.4 86.1" class="m"/><path d="M91.8 86.8 92.6 87.3 93.3 86.2 92.5 85.6Z" fill="#5c38e8"/><path d="M92.0 86.7L92.6 87.1" class="m"/><path d="M88.0 83.5 88.2 84.0 88.9 82.2 88.7 81.6Z" fill="#386efb"/><path d="M99.6 87.1 102.3 88.3 102.8 87.6 100.1 86.3Z" fill="#742ece"/><path d="M100.3 86.5L102.6 87.5M99.8 87.1L100.3 86.5" class="m"/><path d="M89.9 86.2 90.6 87.0 91.3 85.8 90.6 85.0Z" fill="#483cf5"/><path d="M90.6 85.2L91.1 85.9" class="m"/><path d="M108.2 87.5 110.9 88.6 111.4 87.9 108.7 86.7Z" fill="#7b29c3"/><path d="M110.7 88.5L111.2 87.8" class="m"/><path d="M88.0 83.9 88.4 85.0 89.2 83.5 88.8 82.2Z" fill="#3560fd"/><path d="M111.4 87.1 116.4 89.1 116.9 88.4 111.8 86.4Z" fill="#7c29c1"/><path d="M111.6 87.2L116.2 89.0M111.6 87.2L112.0 86.6M116.2 89.0L116.6 88.3" class="m"/><path d="M128.6 87.5 133.8 89.3 134.2 88.7 129.0 86.9Z" fill="#8126bb"/><path d="M128.8 87.6L129.2 87.0" class="m"/><path d="M88.2 84.9 88.6 85.7 89.4 84.2 89.0 83.3Z" fill="#3652ff"/><path d="M90.3 86.8 91.1 87.4 91.8 86.3 91.0 85.6Z" fill="#5739ed"/><path d="M91.1 85.9L91.6 86.3" class="m"/><path d="M92.3 87.1 93.5 87.9 94.2 86.8 93.0 86.0Z" fill="#6435e0"/><path d="M92.6 87.1L93.5 87.6M93.5 87.6L93.9 86.9" class="m"/><path d="M102.3 87.5 105.0 88.6 105.5 87.9 102.8 86.7Z" fill="#782bc8"/><path d="M102.6 87.5L104.8 88.5M104.8 88.5L105.3 87.9" class="m"/><path d="M88.5 85.6 88.9 86.2 89.6 84.7 89.2 84.1Z" fill="#374aff"/><path d="M122.7 87.6 127.9 89.4 128.3 88.8 123.1 86.9Z" fill="#8027bc"/><path d="M122.9 87.6L127.6 89.3M122.9 87.6L123.3 87.1M127.6 89.3L128.0 88.7" class="m"/><path d="M88.7 86.0 89.3 86.8 90.0 85.6 89.4 84.6Z" fill="#3a41ff"/><path d="M94.6 87.4 96.3 88.3 96.9 87.4 95.2 86.4Z" fill="#6d31d6"/><path d="M90.9 87.3 91.6 87.7 92.3 86.6 91.6 86.1Z" fill="#5e37e6"/><path d="M91.6 86.3L92.0 86.7" class="m"/><path d="M96.4 87.3 99.1 88.6 99.6 87.8 96.9 86.5Z" fill="#712fd0"/><path d="M98.9 88.5L99.4 87.8" class="m"/><path d="M105.0 87.8 107.8 88.9 108.3 88.2 105.5 87.1Z" fill="#7b2ac3"/><path d="M105.3 87.9L105.7 87.2" class="m"/><path d="M89.1 86.7 89.6 87.3 90.4 86.1 89.8 85.4Z" fill="#463df6"/><path d="M116.8 87.7 122.0 89.6 122.4 88.9 117.2 87.0Z" fill="#7f27be"/><path d="M117.1 87.7L117.5 87.1M121.7 89.4L122.1 88.8" class="m"/><path d="M93.2 87.7 94.5 88.3 95.1 87.3 93.9 86.6Z" fill="#6b31d8"/><path d="M93.5 87.6L94.4 88.1M93.5 87.6L93.9 86.9" class="m"/><path d="M91.3 87.6 92.1 88.1 92.8 87.0 92.0 86.4Z" fill="#6334e0"/><path d="M92.0 86.7L92.6 87.1" class="m"/><path d="M87.5 84.8 87.7 85.3 88.4 83.6 88.2 83.0Z" fill="#375ffd"/><path d="M99.1 87.8 101.8 89.0 102.4 88.2 99.7 87.0Z" fill="#762cca"/><path d="M99.4 87.8L99.8 87.1" class="m"/><path d="M89.4 87.1 90.1 87.8 90.8 86.6 90.1 85.9Z" fill="#5038ec"/><path d="M107.8 88.1 110.5 89.2 111.0 88.5 108.2 87.4Z" fill="#7d28c0"/><path d="M110.3 89.1L110.7 88.5" class="m"/><path d="M87.6 85.2 87.9 86.2 88.7 84.7 88.3 83.5Z" fill="#3453fe"/><path d="M110.9 87.8 116.0 89.7 116.5 89.0 111.4 87.1Z" fill="#7e28be"/><path d="M111.6 87.2L116.2 89.0M111.2 87.8L111.6 87.2M115.8 89.6L116.2 89.0" class="m"/><path d="M128.2 88.1 133.4 89.9 133.8 89.3 128.6 87.4Z" fill="#8225b9"/><path d="M128.4 88.1L128.8 87.6" class="m"/><path d="M87.8 86.1 88.1 86.7 88.9 85.3 88.5 84.5Z" fill="#3648ff"/><path d="M89.9 87.6 90.6 88.2 91.3 87.1 90.6 86.5Z" fill="#5e36e5"/><path d="M91.9 87.9 93.1 88.6 93.7 87.6 92.5 86.8Z" fill="#6a32d9"/><path d="M92.6 87.1L93.5 87.6M93.0 88.3L93.5 87.6" class="m"/><path d="M101.9 88.1 104.6 89.3 105.1 88.5 102.4 87.4Z" fill="#7a2ac5"/><path d="M102.6 87.5L104.8 88.5M104.4 89.1L104.8 88.5" class="m"/><path d="M88.0 86.6 88.4 87.1 89.1 85.8 88.7 85.2Z" fill="#3b42ff"/><path d="M122.3 88.2 127.5 90.0 127.9 89.4 122.7 87.5Z" fill="#8126ba"/><path d="M122.9 87.6L127.6 89.3M122.5 88.2L122.9 87.6M127.3 89.9L127.6 89.3" class="m"/><path d="M88.2 87.0 88.8 87.7 89.5 86.5 89.0 85.7Z" fill="#433cf5"/><path d="M94.1 88.1 95.9 89.0 96.4 88.1 94.7 87.2Z" fill="#712ed0"/><path d="M94.4 88.1L95.7 88.8" class="m"/><path d="M90.4 88.1 91.1 88.5 91.8 87.4 91.1 86.9Z" fill="#6534de"/><path d="M95.9 88.0 98.6 89.3 99.2 88.5 96.5 87.2Z" fill="#752dcc"/><path d="M98.5 89.1L98.9 88.5" class="m"/><path d="M104.6 88.5 107.3 89.5 107.8 88.8 105.1 87.7Z" fill="#7d29c1"/><path d="M104.8 88.5L107.1 89.4M104.8 88.5L105.3 87.9" class="m"/><path d="M88.6 87.6 89.1 88.1 89.9 86.9 89.3 86.3Z" fill="#4f39ec"/><path d="M116.4 88.3 121.6 90.2 122.0 89.5 116.8 87.6Z" fill="#8026bb"/><path d="M116.6 88.3L117.1 87.7M121.3 90.0L121.7 89.4" class="m"/><path d="M92.8 88.4 94.0 89.1 94.6 88.1 93.4 87.4Z" fill="#702fd2"/><path d="M93.5 87.6L94.4 88.1M93.0 88.3L93.5 87.6" class="m"/><path d="M90.9 88.3 91.6 88.8 92.3 87.7 91.5 87.2Z" fill="#6932d9"/><path d="M87.0 86.1 87.2 86.5 87.9 84.9 87.7 84.4Z" fill="#3653ff"/><path d="M98.7 88.4 101.4 89.6 101.9 88.8 99.2 87.6Z" fill="#792bc6"/><path d="M98.9 88.5L99.4 87.8" class="m"/><path d="M88.9 88.0 89.6 88.6 90.3 87.5 89.7 86.8Z" fill="#5835e4"/><path d="M107.3 88.8 110.1 89.8 110.6 89.1 107.8 88.0Z" fill="#7f27be"/><path d="M109.9 89.7L110.3 89.1" class="m"/><path d="M87.1 86.3 87.4 87.2 88.2 85.8 87.8 84.8Z" fill="#3448ff"/><path d="M110.5 88.4 115.6 90.3 116.1 89.6 111.0 87.7Z" fill="#8027bc"/><path d="M110.7 88.5L111.2 87.8M115.4 90.2L115.8 89.6" class="m"/><path d="M127.8 88.7 133.0 90.5 133.4 89.9 128.2 88.0Z" fill="#8325b8"/><path d="M128.0 88.7L128.4 88.1" class="m"/><path d="M87.3 87.1 87.7 87.7 88.4 86.3 88.0 85.7Z" fill="#3a40fe"/><path d="M89.4 88.4 90.2 89.0 90.9 87.9 90.1 87.3Z" fill="#6533dd"/><path d="M91.4 88.6 92.6 89.3 93.2 88.3 92.0 87.6Z" fill="#6f2fd3"/><path d="M92.5 89.1L93.0 88.3" class="m"/><path d="M101.4 88.8 104.1 89.9 104.6 89.1 101.9 88.0Z" fill="#7c29c2"/><path d="M103.9 89.7L104.4 89.1" class="m"/><path d="M87.5 87.6 87.9 88.1 88.7 86.8 88.2 86.2Z" fill="#443df6"/><path d="M121.9 88.8 127.1 90.6 127.5 90.0 122.3 88.1Z" fill="#8225b9"/><path d="M122.1 88.8L122.5 88.2M126.9 90.5L127.3 89.9" class="m"/><path d="M87.7 87.9 88.3 88.6 89.0 87.4 88.5 86.6Z" fill="#4b38ec"/><path d="M93.7 88.8 95.4 89.7 96.0 88.8 94.2 87.9Z" fill="#752ccb"/><path d="M94.4 88.1L95.7 88.8" class="m"/><path d="M89.9 88.8 90.6 89.2 91.3 88.1 90.6 87.7Z" fill="#6b31d7"/><path d="M95.5 88.7 98.2 90.0 98.7 89.2 96.0 87.9Z" fill="#782bc7"/><path d="M95.7 88.8L98.0 89.8M98.0 89.8L98.5 89.1" class="m"/><path d="M104.1 89.1 106.9 90.2 107.4 89.4 104.6 88.3Z" fill="#7e28bf"/><path d="M104.8 88.5L107.1 89.4M104.4 89.1L104.8 88.5" class="m"/><path d="M88.1 88.4 88.7 89.0 89.4 87.8 88.8 87.2Z" fill="#5735e5"/><path d="M116.0 88.9 121.1 90.8 121.6 90.1 116.4 88.2Z" fill="#8226b9"/><path d="M116.2 89.0L120.9 90.6M116.2 89.0L116.6 88.3M120.9 90.6L121.3 90.0" class="m"/><path d="M92.3 89.1 93.5 89.7 94.1 88.8 92.9 88.1Z" fill="#742dcc"/><path d="M92.5 89.1L93.0 88.3" class="m"/><path d="M90.4 89.1 91.2 89.5 91.9 88.5 91.1 88.0Z" fill="#6f2fd3"/><path d="M86.5 87.2 86.7 87.5 87.5 86.0 87.2 85.6Z" fill="#3648ff"/><path d="M86.7 87.0L86.8 87.3" class="m"/><path d="M98.2 89.1 100.9 90.2 101.4 89.5 98.7 88.3Z" fill="#7b29c2"/><path d="M98.5 89.1L98.9 88.5" class="m"/><path d="M88.5 88.8 89.1 89.4 89.8 88.3 89.2 87.6Z" fill="#6032de"/><path d="M106.9 89.4 109.6 90.4 110.1 89.7 107.4 88.6Z" fill="#8027bc"/><path d="M107.1 89.4L109.4 90.3M109.4 90.3L109.9 89.7" class="m"/><path d="M86.6 87.4 86.9 88.2 87.7 86.9 87.3 86.0Z" fill="#363ffd"/><path d="M86.8 87.3L87.0 87.9" class="m"/><path d="M110.1 89.0 115.2 90.9 115.6 90.2 110.5 88.3Z" fill="#8126ba"/><path d="M110.3 89.1L110.7 88.5M115.0 90.8L115.4 90.2" class="m"/><path d="M127.4 89.3 132.7 91.1 133.1 90.4 127.8 88.6Z" fill="#8424b6"/><path d="M127.6 89.3L132.4 91.0M127.6 89.3L128.0 88.7" class="m"/><path d="M86.8 88.1 87.2 88.6 87.9 87.3 87.5 86.7Z" fill="#423bf3"/><path d="M87.0 87.9L87.2 88.3" class="m"/><path d="M88.9 89.2 89.7 89.7 90.4 88.6 89.6 88.1Z" fill="#6b30d6"/><path d="M90.9 89.3 92.1 90.0 92.8 89.0 91.5 88.3Z" fill="#732dcd"/><path d="M92.0 89.8L92.5 89.1" class="m"/><path d="M101.0 89.4 103.7 90.5 104.2 89.7 101.5 88.6Z" fill="#7e28bf"/><path d="M103.5 90.3L103.9 89.7" class="m"/><path d="M87.0 88.5 87.4 88.9 88.2 87.7 87.7 87.2Z" fill="#4d39ed"/><path d="M87.2 88.3L87.5 88.7" class="m"/><path d="M121.5 89.4 126.7 91.2 127.1 90.6 121.9 88.7Z" fill="#8325b7"/><path d="M121.7 89.4L122.1 88.8M126.5 91.1L126.9 90.5" class="m"/><path d="M87.3 88.8 87.8 89.4 88.6 88.2 88.0 87.6Z" fill="#5335e4"/><path d="M87.5 88.7L87.8 89.1" class="m"/><path d="M93.2 89.5 94.9 90.3 95.5 89.5 93.8 88.6Z" fill="#792ac6"/><path d="M89.4 89.6 90.1 90.0 90.8 88.9 90.2 88.5Z" fill="#702ed1"/><path d="M95.0 89.4 97.7 90.6 98.2 89.8 95.5 88.6Z" fill="#7b29c3"/><path d="M95.7 88.8L98.0 89.8M97.5 90.4L98.0 89.8" class="m"/><path d="M103.7 89.7 106.4 90.8 106.9 90.0 104.2 88.9Z" fill="#8027bc"/><path d="M103.9 89.7L104.4 89.1" class="m"/><path d="M87.6 89.3 88.2 89.7 88.9 88.6 88.4 88.1Z" fill="#5e32de"/><path d="M87.8 89.1L88.2 89.5" class="m"/><path d="M115.6 89.5 120.7 91.4 121.2 90.7 116.0 88.8Z" fill="#8325b7"/><path d="M116.2 89.0L120.9 90.6M115.8 89.6L116.2 89.0M120.5 91.2L120.9 90.6" class="m"/><path d="M91.8 89.8 93.0 90.4 93.7 89.5 92.4 88.8Z" fill="#782ac7"/><path d="M92.0 89.8L92.5 89.1" class="m"/><path d="M89.9 89.8 90.7 90.3 91.4 89.2 90.6 88.7Z" fill="#742ccd"/><path d="M86.0 88.2 86.2 88.5 87.0 87.1 86.7 86.7Z" fill="#3a40ff"/><path d="M86.7 87.0L86.8 87.3" class="m"/><path d="M97.8 89.8 100.5 90.9 101.0 90.1 98.3 89.0Z" fill="#7e28bf"/><path d="M98.0 89.8L100.3 90.7M98.0 89.8L98.5 89.1" class="m"/><path d="M88.0 89.6 88.6 90.1 89.4 89.0 88.7 88.5Z" fill="#662fd8"/><path d="M88.2 89.5L88.6 89.9" class="m"/><path d="M106.4 90.0 109.2 91.0 109.7 90.3 106.9 89.2Z" fill="#8126ba"/><path d="M107.1 89.4L109.4 90.3M109.0 90.9L109.4 90.3" class="m"/><path d="M86.1 88.4 86.4 89.1 87.2 87.8 86.8 87.1Z" fill="#3e3af0"/><path d="M86.8 87.3L87.0 87.9" class="m"/><path d="M109.6 89.6 114.8 91.5 115.2 90.8 110.1 88.9Z" fill="#8225b8"/><path d="M109.9 89.7L110.3 89.1M114.6 91.4L115.0 90.8" class="m"/><path d="M127.0 89.9 132.3 91.7 132.7 91.0 127.4 89.2Z" fill="#8424b5"/><path d="M127.6 89.3L132.4 91.0M127.3 89.9L127.6 89.3" class="m"/><path d="M86.3 89.0 86.7 89.5 87.4 88.2 87.0 87.7Z" fill="#4a37e9"/><path d="M87.0 87.9L87.2 88.3" class="m"/><path d="M88.4 89.9 89.2 90.4 89.9 89.4 89.1 88.9Z" fill="#712dd0"/><path d="M88.6 89.9L89.2 90.2" class="m"/><path d="M90.4 90.0 91.7 90.7 92.3 89.7 91.1 89.1Z" fill="#782bc8"/><path d="M91.6 90.4L92.0 89.8" class="m"/><path d="M100.5 90.0 103.2 91.1 103.7 90.4 101.0 89.3Z" fill="#8027bc"/><path d="M103.0 91.0L103.5 90.3" class="m"/><path d="M86.5 89.4 86.9 89.8 87.7 88.6 87.3 88.1Z" fill="#5535e5"/><path d="M87.2 88.3L87.5 88.7" class="m"/><path d="M121.1 90.0 126.3 91.8 126.7 91.1 121.5 89.3Z" fill="#8424b6"/><path d="M121.3 90.0L121.7 89.4M126.1 91.7L126.5 91.1" class="m"/><path d="M86.8 89.6 87.3 90.2 88.1 89.0 87.5 88.4Z" fill="#5a32dd"/><path d="M87.5 88.7L87.8 89.1" class="m"/><path d="M92.7 90.2 94.5 91.0 95.0 90.1 93.3 89.3Z" fill="#7c28c2"/><path d="M89.0 90.3 89.6 90.7 90.3 89.6 89.7 89.2Z" fill="#752ccb"/><path d="M89.2 90.2L89.6 90.4" class="m"/><path d="M94.5 90.1 97.3 91.2 97.8 90.5 95.1 89.3Z" fill="#7e28bf"/><path d="M97.1 91.1L97.5 90.4" class="m"/><path d="M103.2 90.3 106.0 91.4 106.5 90.6 103.8 89.6Z" fill="#8126ba"/><path d="M103.5 90.3L103.9 89.7" class="m"/><path d="M87.1 90.0 87.7 90.5 88.4 89.4 87.9 88.9Z" fill="#652fd8"/><path d="M87.8 89.1L88.2 89.5" class="m"/><path d="M115.1 90.1 120.3 92.0 120.8 91.3 115.6 89.4Z" fill="#8424b6"/><path d="M115.4 90.2L115.8 89.6M120.1 91.8L120.5 91.2" class="m"/><path d="M91.3 90.5 92.6 91.1 93.2 90.1 92.0 89.5Z" fill="#7b29c3"/><path d="M91.6 90.4L92.0 89.8" class="m"/><path d="M89.4 90.5 90.2 90.9 90.9 89.9 90.1 89.5Z" fill="#782ac8"/><path d="M89.6 90.4L90.2 90.7" class="m"/><path d="M85.5 89.2 85.7 89.5 86.5 88.1 86.2 87.8Z" fill="#433cf3"/><path d="M97.3 90.4 100.0 91.5 100.5 90.7 97.8 89.6Z" fill="#8026bc"/><path d="M98.0 89.8L100.3 90.7M97.5 90.4L98.0 89.8" class="m"/><path d="M87.5 90.3 88.1 90.8 88.9 89.8 88.2 89.2Z" fill="#6c2dd2"/><path d="M88.2 89.5L88.6 89.9" class="m"/><path d="M106.0 90.6 108.8 91.6 109.3 90.9 106.5 89.8Z" fill="#8225b8"/><path d="M108.6 91.5L109.0 90.9" class="m"/><path d="M85.6 89.4 85.9 90.0 86.7 88.7 86.4 88.1Z" fill="#4436e6"/><path d="M109.2 90.2 114.4 92.1 114.8 91.4 109.7 89.5Z" fill="#8324b7"/><path d="M109.4 90.3L114.1 92.0M109.4 90.3L109.9 89.7M114.1 92.0L114.6 91.4" class="m"/><path d="M126.6 90.5 131.9 92.3 132.3 91.6 127.0 89.8Z" fill="#8523b4"/><path d="M126.9 90.5L127.3 89.9" class="m"/><path d="M85.8 89.9 86.2 90.3 86.9 89.1 86.5 88.6Z" fill="#5234e2"/><path d="M87.9 90.7 88.7 91.1 89.4 90.1 88.6 89.6Z" fill="#752bcb"/><path d="M88.6 89.9L89.2 90.2" class="m"/><path d="M89.9 90.7 91.2 91.3 91.8 90.4 90.6 89.8Z" fill="#7b29c3"/><path d="M90.2 90.7L91.1 91.1M91.1 91.1L91.6 90.4" class="m"/><path d="M100.0 90.7 102.8 91.8 103.3 91.0 100.6 89.9Z" fill="#8125ba"/><path d="M100.3 90.7L102.6 91.6M102.6 91.6L103.0 91.0" class="m"/><path d="M86.0 90.2 86.4 90.5 87.2 89.4 86.8 89.0Z" fill="#5d32de"/><path d="M120.7 90.6 125.9 92.4 126.3 91.8 121.1 89.9Z" fill="#8523b4"/><path d="M120.9 90.6L125.7 92.3M120.9 90.6L121.3 90.0M125.7 92.3L126.1 91.7" class="m"/><path d="M86.3 90.4 86.8 90.9 87.6 89.8 87.0 89.3Z" fill="#612fd8"/><path d="M92.2 90.9 94.0 91.6 94.6 90.8 92.8 90.0Z" fill="#7f27be"/><path d="M88.5 91.0 89.1 91.3 89.9 90.3 89.2 89.9Z" fill="#792ac6"/><path d="M89.2 90.2L89.6 90.4" class="m"/><path d="M94.1 90.8 96.8 91.9 97.3 91.1 94.6 90.0Z" fill="#8026bc"/><path d="M96.6 91.7L97.1 91.1" class="m"/><path d="M102.8 90.9 105.6 92.0 106.1 91.3 103.3 90.2Z" fill="#8325b8"/><path d="M103.0 91.0L103.5 90.3" class="m"/><path d="M86.6 90.8 87.2 91.2 87.9 90.1 87.4 89.7Z" fill="#6b2dd2"/><path d="M114.7 90.7 119.9 92.6 120.4 91.9 115.2 90.1Z" fill="#8523b4"/><path d="M115.0 90.8L115.4 90.2M119.7 92.4L120.1 91.8" class="m"/><path d="M90.8 91.2 92.1 91.7 92.7 90.8 91.5 90.2Z" fill="#7e27bf"/><path d="M91.1 91.1L92.0 91.5M91.1 91.1L91.6 90.4" class="m"/><path d="M88.9 91.2 89.7 91.6 90.4 90.6 89.6 90.2Z" fill="#7b29c3"/><path d="M89.6 90.4L90.2 90.7" class="m"/><path d="M85.0 90.1 85.2 90.4 86.0 89.1 85.7 88.8Z" fill="#4b37ea"/><path d="M96.8 91.1 99.6 92.1 100.1 91.4 97.3 90.3Z" fill="#8225b9"/><path d="M97.1 91.1L97.5 90.4" class="m"/><path d="M87.0 91.0 87.7 91.5 88.4 90.5 87.7 90.0Z" fill="#722bcd"/><path d="M105.6 91.2 108.3 92.2 108.8 91.5 106.1 90.5Z" fill="#8424b6"/><path d="M108.1 92.1L108.6 91.5" class="m"/><path d="M85.1 90.2 85.4 90.8 86.2 89.6 85.9 89.0Z" fill="#4a32de"/><path d="M108.8 90.8 113.9 92.7 114.4 92.0 109.2 90.1Z" fill="#8424b5"/><path d="M109.4 90.3L114.1 92.0M109.0 90.9L109.4 90.3M113.7 92.6L114.1 92.0" class="m"/><path d="M126.2 91.0 131.5 92.9 131.9 92.2 126.7 90.4Z" fill="#8623b3"/><path d="M126.5 91.1L126.9 90.5" class="m"/><path d="M85.3 90.7 85.7 91.1 86.4 89.9 86.0 89.5Z" fill="#5931db"/><path d="M87.4 91.3 88.2 91.8 88.9 90.8 88.1 90.3Z" fill="#7929c6"/><path d="M89.5 91.4 90.7 92.0 91.3 91.1 90.1 90.5Z" fill="#7e27bf"/><path d="M90.2 90.7L91.1 91.1M90.6 91.8L91.1 91.1" class="m"/><path d="M99.6 91.3 102.3 92.4 102.8 91.6 100.1 90.6Z" fill="#8324b7"/><path d="M100.3 90.7L102.6 91.6M102.1 92.2L102.6 91.6" class="m"/><path d="M85.5 91.0 85.9 91.3 86.7 90.2 86.3 89.8Z" fill="#6430d8"/><path d="M120.3 91.2 125.5 93.0 125.9 92.3 120.7 90.5Z" fill="#8623b3"/><path d="M120.9 90.6L125.7 92.3M120.5 91.2L120.9 90.6M125.3 92.9L125.7 92.3" class="m"/><path d="M85.8 91.2 86.3 91.6 87.1 90.6 86.5 90.1Z" fill="#682dd3"/><path d="M91.7 91.5 93.5 92.3 94.1 91.4 92.3 90.7Z" fill="#8126bb"/><path d="M92.0 91.5L93.4 92.1" class="m"/><path d="M88.0 91.7 88.7 92.0 89.4 91.0 88.7 90.6Z" fill="#7c28c2"/><path d="M93.6 91.4 96.3 92.5 96.9 91.7 94.1 90.6Z" fill="#8225b9"/><path d="M96.1 92.3L96.6 91.7" class="m"/><path d="M102.3 91.6 105.1 92.6 105.6 91.9 102.9 90.8Z" fill="#8424b6"/><path d="M102.6 91.6L104.9 92.5M102.6 91.6L103.0 91.0" class="m"/><path d="M86.1 91.5 86.7 91.9 87.4 90.8 86.9 90.4Z" fill="#712bce"/><path d="M114.3 91.3 119.5 93.1 119.9 92.5 114.8 90.7Z" fill="#8623b3"/><path d="M114.6 91.4L115.0 90.8M119.3 93.0L119.7 92.4" class="m"/><path d="M90.4 91.8 91.6 92.4 92.2 91.5 91.0 90.9Z" fill="#8126bb"/><path d="M91.1 91.1L92.0 91.5M90.6 91.8L91.1 91.1" class="m"/><path d="M88.4 91.9 89.2 92.3 89.9 91.3 89.1 90.8Z" fill="#7e27bf"/><path d="M84.5 90.9 84.7 91.2 85.5 89.9 85.2 89.7Z" fill="#5334e3"/><path d="M96.4 91.7 99.1 92.8 99.6 92.0 96.9 90.9Z" fill="#8424b6"/><path d="M96.6 91.7L97.1 91.1" class="m"/><path d="M86.5 91.7 87.2 92.2 87.9 91.2 87.2 90.7Z" fill="#7629c9"/><path d="M105.1 91.8 107.9 92.8 108.4 92.1 105.6 91.1Z" fill="#8523b5"/><path d="M107.7 92.7L108.1 92.1" class="m"/><path d="M84.6 91.1 84.9 91.6 85.7 90.4 85.4 89.9Z" fill="#502fd7"/><path d="M108.3 91.4 113.5 93.3 114.0 92.6 108.8 90.8Z" fill="#8523b4"/><path d="M108.6 91.5L109.0 90.9M113.3 93.2L113.7 92.6" class="m"/><path d="M125.8 91.7 131.1 93.5 131.5 92.8 126.3 91.0Z" fill="#8622b2"/><path d="M126.1 91.7L126.5 91.1" class="m"/><path d="M84.8 91.5 85.2 91.8 85.9 90.7 85.6 90.3Z" fill="#602ed6"/><path d="M86.9 92.0 87.7 92.5 88.4 91.5 87.7 91.0Z" fill="#7c28c2"/><path d="M89.0 92.1 90.2 92.6 90.9 91.7 89.6 91.1Z" fill="#8026bc"/><path d="M90.1 92.4L90.6 91.8" class="m"/><path d="M99.1 92.0 101.9 93.0 102.4 92.2 99.6 91.2Z" fill="#8524b5"/><path d="M101.7 92.8L102.1 92.2" class="m"/><path d="M85.0 91.7 85.4 92.0 86.2 90.9 85.8 90.6Z" fill="#6a2dd3"/><path d="M119.9 91.8 125.1 93.6 125.5 92.9 120.3 91.1Z" fill="#8722b2"/><path d="M120.1 91.8L120.5 91.2M124.9 93.5L125.3 92.9" class="m"/><path d="M85.3 91.9 85.8 92.3 86.6 91.3 86.0 90.8Z" fill="#6e2bce"/><path d="M91.3 92.2 93.0 92.9 93.6 92.1 91.8 91.3Z" fill="#8324b8"/><path d="M92.0 91.5L93.4 92.1" class="m"/><path d="M87.5 92.3 88.2 92.7 88.9 91.7 88.2 91.3Z" fill="#7f27be"/><path d="M93.1 92.1 95.9 93.1 96.4 92.4 93.7 91.3Z" fill="#8424b6"/><path d="M93.4 92.1L95.7 93.0M95.7 93.0L96.1 92.3" class="m"/><path d="M101.9 92.2 104.7 93.2 105.2 92.5 102.4 91.4Z" fill="#8523b4"/><path d="M102.6 91.6L104.9 92.5M102.1 92.2L102.6 91.6" class="m"/><path d="M85.6 92.2 86.2 92.6 86.9 91.5 86.4 91.1Z" fill="#7629c9"/><path d="M113.9 91.9 119.1 93.7 119.5 93.1 114.3 91.3Z" fill="#8622b2"/><path d="M114.1 92.0L118.9 93.6M114.1 92.0L114.6 91.4M118.9 93.6L119.3 93.0" class="m"/><path d="M89.9 92.5 91.1 93.0 91.8 92.1 90.5 91.5Z" fill="#8325b8"/><path d="M90.1 92.4L90.6 91.8" class="m"/><path d="M87.9 92.5 88.7 92.9 89.4 91.9 88.7 91.5Z" fill="#8126bc"/><path d="M84.0 91.6 84.2 91.8 85.0 90.8 84.8 90.5Z" fill="#5832e0"/><path d="M84.2 91.4L84.3 91.6" class="m"/><path d="M95.9 92.3 98.6 93.4 99.2 92.6 96.4 91.6Z" fill="#8523b4"/><path d="M96.1 92.3L96.6 91.7" class="m"/><path d="M86.0 92.4 86.7 92.8 87.4 91.8 86.7 91.4Z" fill="#7a28c4"/><path d="M104.7 92.4 107.5 93.5 107.9 92.7 105.2 91.7Z" fill="#8623b3"/><path d="M104.9 92.5L107.3 93.3M107.3 93.3L107.7 92.7" class="m"/><path d="M84.1 91.7 84.4 92.2 85.2 91.2 84.9 90.7Z" fill="#542dd3"/><path d="M84.3 91.6L84.5 91.9" class="m"/><path d="M107.9 92.0 113.1 93.9 113.5 93.2 108.4 91.4Z" fill="#8623b3"/><path d="M108.1 92.1L108.6 91.5M112.9 93.8L113.3 93.2" class="m"/><path d="M125.5 92.3 130.8 94.1 131.2 93.4 125.9 91.6Z" fill="#8722b1"/><path d="M125.7 92.3L130.5 93.9M125.7 92.3L126.1 91.7" class="m"/><path d="M84.3 92.1 84.7 92.4 85.5 91.5 85.1 91.1Z" fill="#652dd4"/><path d="M84.5 91.9L84.7 92.2" class="m"/><path d="M86.5 92.7 87.2 93.1 88.0 92.1 87.2 91.7Z" fill="#7f26be"/><path d="M88.5 92.7 89.7 93.3 90.4 92.4 89.1 91.8Z" fill="#8325b9"/><path d="M89.6 93.0L90.1 92.4" class="m"/><path d="M98.7 92.6 101.4 93.6 101.9 92.9 99.2 91.8Z" fill="#8623b3"/><path d="M101.2 93.5L101.7 92.8" class="m"/><path d="M84.5 92.3 84.9 92.7 85.7 91.7 85.3 91.3Z" fill="#6e2cd1"/><path d="M84.7 92.2L85.0 92.4" class="m"/><path d="M119.5 92.4 124.7 94.2 125.1 93.5 119.9 91.7Z" fill="#8722b1"/><path d="M119.7 92.4L120.1 91.8M124.5 94.1L124.9 93.5" class="m"/><path d="M84.8 92.5 85.3 92.9 86.1 92.0 85.5 91.5Z" fill="#722acc"/><path d="M85.0 92.4L85.4 92.7" class="m"/><path d="M90.8 92.8 92.6 93.5 93.1 92.7 91.4 92.0Z" fill="#8523b5"/><path d="M87.0 93.0 87.7 93.3 88.4 92.3 87.7 92.0Z" fill="#8125bb"/><path d="M92.6 92.7 95.4 93.7 95.9 93.0 93.2 91.9Z" fill="#8523b4"/><path d="M93.4 92.1L95.7 93.0M95.2 93.6L95.7 93.0" class="m"/><path d="M101.4 92.8 104.2 93.8 104.7 93.1 101.9 92.1Z" fill="#8722b2"/><path d="M101.7 92.8L102.1 92.2" class="m"/><path d="M85.1 92.8 85.7 93.2 86.5 92.2 85.9 91.8Z" fill="#7928c7"/><path d="M85.4 92.7L85.7 92.9" class="m"/><path d="M113.5 92.5 118.7 94.3 119.1 93.7 113.9 91.8Z" fill="#8722b1"/><path d="M114.1 92.0L118.9 93.6M113.7 92.6L114.1 92.0M118.5 94.2L118.9 93.6" class="m"/><path d="M89.4 93.1 90.7 93.6 91.3 92.7 90.0 92.2Z" fill="#8424b6"/><path d="M89.6 93.0L90.1 92.4" class="m"/><path d="M87.5 93.1 88.3 93.5 89.0 92.6 88.2 92.2Z" fill="#8325b9"/><path d="M83.5 92.2 83.7 92.4 84.5 91.5 84.3 91.2Z" fill="#5a32df"/><path d="M84.2 91.4L84.3 91.6" class="m"/><path d="M95.4 92.9 98.2 94.0 98.7 93.2 95.9 92.2Z" fill="#8622b2"/><path d="M95.7 93.0L98.0 93.8M95.7 93.0L96.1 92.3" class="m"/><path d="M85.5 93.0 86.2 93.4 86.9 92.5 86.2 92.1Z" fill="#7d27c2"/><path d="M85.7 92.9L86.2 93.2" class="m"/><path d="M104.2 93.1 107.0 94.1 107.5 93.3 104.7 92.3Z" fill="#8722b1"/><path d="M104.9 92.5L107.3 93.3M106.8 93.9L107.3 93.3" class="m"/><path d="M83.6 92.3 83.9 92.8 84.7 91.9 84.4 91.4Z" fill="#562dd2"/><path d="M84.3 91.6L84.5 91.9" class="m"/><path d="M107.5 92.6 112.6 94.5 113.1 93.8 107.9 92.0Z" fill="#8722b1"/><path d="M107.7 92.7L108.1 92.1M112.4 94.4L112.9 93.8" class="m"/><path d="M125.1 92.8 130.4 94.7 130.8 94.0 125.5 92.2Z" fill="#8822b0"/><path d="M125.7 92.3L130.5 93.9M125.3 92.9L125.7 92.3" class="m"/><path d="M83.8 92.7 84.2 93.0 85.0 92.1 84.6 91.7Z" fill="#672dd3"/><path d="M84.5 91.9L84.7 92.2" class="m"/><path d="M86.0 93.3 86.8 93.7 87.5 92.8 86.7 92.3Z" fill="#8125bc"/><path d="M86.2 93.2L86.7 93.5" class="m"/><path d="M88.0 93.3 89.2 93.9 89.9 93.0 88.6 92.4Z" fill="#8424b6"/><path d="M89.1 93.7L89.6 93.0" class="m"/><path d="M98.2 93.2 101.0 94.2 101.5 93.5 98.7 92.4Z" fill="#8722b1"/><path d="M100.8 94.1L101.2 93.5" class="m"/><path d="M84.0 92.9 84.4 93.2 85.2 92.3 84.8 92.0Z" fill="#702cd0"/><path d="M84.7 92.2L85.0 92.4" class="m"/><path d="M119.0 93.0 124.3 94.8 124.7 94.1 119.5 92.3Z" fill="#8822b0"/><path d="M119.3 93.0L119.7 92.4M124.1 94.7L124.5 94.1" class="m"/><path d="M84.3 93.1 84.8 93.5 85.6 92.6 85.0 92.2Z" fill="#732acb"/><path d="M85.0 92.4L85.4 92.7" class="m"/><path d="M90.3 93.4 92.1 94.1 92.7 93.3 90.9 92.6Z" fill="#8623b3"/><path d="M86.5 93.5 87.2 93.9 87.9 93.0 87.2 92.6Z" fill="#8325b9"/><path d="M86.7 93.5L87.2 93.7" class="m"/><path d="M92.2 93.3 94.9 94.4 95.4 93.6 92.7 92.5Z" fill="#8722b2"/><path d="M94.7 94.2L95.2 93.6" class="m"/><path d="M101.0 93.4 103.8 94.4 104.3 93.7 101.5 92.7Z" fill="#8822b1"/><path d="M101.2 93.5L101.7 92.8" class="m"/><path d="M84.6 93.4 85.2 93.8 86.0 92.8 85.4 92.5Z" fill="#7a28c6"/><path d="M85.4 92.7L85.7 92.9" class="m"/><path d="M113.0 93.1 118.3 94.9 118.7 94.3 113.5 92.4Z" fill="#8822b0"/><path d="M113.3 93.2L113.7 92.6M118.1 94.8L118.5 94.2" class="m"/><path d="M88.9 93.7 90.2 94.3 90.8 93.4 89.5 92.8Z" fill="#8623b4"/><path d="M89.1 93.7L89.6 93.0" class="m"/><path d="M87.0 93.7 87.8 94.1 88.5 93.2 87.7 92.8Z" fill="#8424b7"/><path d="M87.2 93.7L87.7 93.9" class="m"/><path d="M83.0 92.8 83.2 93.0 84.0 92.1 83.8 91.8Z" fill="#5b31de"/><path d="M94.9 93.6 97.7 94.6 98.2 93.9 95.5 92.8Z" fill="#8822b1"/><path d="M95.7 93.0L98.0 93.8M95.2 93.6L95.7 93.0" class="m"/><path d="M85.0 93.6 85.7 94.0 86.4 93.1 85.7 92.7Z" fill="#7d27c1"/><path d="M85.7 92.9L86.2 93.2" class="m"/><path d="M103.8 93.7 106.6 94.7 107.1 93.9 104.3 92.9Z" fill="#8822b0"/><path d="M106.4 94.5L106.8 93.9" class="m"/><path d="M83.1 92.9 83.4 93.4 84.2 92.5 83.9 92.0Z" fill="#572cd1"/><path d="M107.0 93.3 112.2 95.1 112.7 94.4 107.5 92.6Z" fill="#8822b0"/><path d="M107.3 93.3L112.0 95.0M107.3 93.3L107.7 92.7M112.0 95.0L112.4 94.4" class="m"/><path d="M83.3 93.3 83.7 93.6 84.5 92.7 84.1 92.3Z" fill="#672cd3"/><path d="M85.5 93.9 86.3 94.3 87.0 93.4 86.2 92.9Z" fill="#8225bc"/><path d="M86.2 93.2L86.7 93.5" class="m"/><path d="M87.5 93.9 88.8 94.5 89.4 93.6 88.1 93.1Z" fill="#8523b5"/><path d="M87.7 93.9L88.7 94.3M88.7 94.3L89.1 93.7" class="m"/><path d="M83.5 93.5 83.9 93.8 84.7 92.9 84.3 92.5Z" fill="#712bcf"/><path d="M83.8 93.7 84.3 94.1 85.1 93.2 84.5 92.8Z" fill="#7429cb"/><path d="M89.8 94.0 91.6 94.8 92.2 93.9 90.4 93.2Z" fill="#8722b2"/><path d="M86.0 94.1 86.7 94.5 87.4 93.6 86.7 93.2Z" fill="#8324b9"/><path d="M86.7 93.5L87.2 93.7" class="m"/><path d="M91.7 93.9 94.4 95.0 95.0 94.2 92.2 93.2Z" fill="#8822b1"/><path d="M94.2 94.8L94.7 94.2" class="m"/><path d="M84.1 94.0 84.7 94.4 85.5 93.4 84.9 93.0Z" fill="#7a28c5"/><path d="M88.4 94.3 89.7 94.9 90.3 94.0 89.0 93.4Z" fill="#8722b3"/><path d="M88.7 94.3L89.6 94.6M88.7 94.3L89.1 93.7" class="m"/><path d="M86.5 94.3 87.3 94.7 88.0 93.8 87.2 93.4Z" fill="#8424b7"/><path d="M87.2 93.7L87.7 93.9" class="m"/><path d="M82.5 93.4 82.7 93.6 83.5 92.7 83.3 92.4Z" fill="#5d31dd"/><path d="M84.5 94.2 85.2 94.6 85.9 93.7 85.2 93.3Z" fill="#7e26c1"/><path d="M82.6 93.5 82.9 94.0 83.7 93.1 83.4 92.6Z" fill="#572cd1"/><path d="M82.8 93.9 83.1 94.2 84.0 93.3 83.6 92.9Z" fill="#682cd2"/><path d="M85.0 94.4 85.8 94.9 86.5 94.0 85.7 93.5Z" fill="#8225bb"/><path d="M87.0 94.5 88.3 95.1 88.9 94.2 87.6 93.7Z" fill="#8623b4"/><path d="M87.7 93.9L88.7 94.3M88.2 94.8L88.7 94.3" class="m"/><path d="M83.0 94.1 83.4 94.4 84.2 93.5 83.8 93.1Z" fill="#712bce"/><path d="M83.3 94.3 83.8 94.7 84.6 93.8 84.0 93.3Z" fill="#7429ca"/><path d="M85.5 94.7 86.2 95.1 86.9 94.1 86.3 93.8Z" fill="#8424b8"/><path d="M83.6 94.6 84.2 94.9 85.0 94.0 84.4 93.6Z" fill="#7b28c5"/><path d="M87.9 94.9 89.2 95.4 89.8 94.6 88.6 94.0Z" fill="#8722b2"/><path d="M88.7 94.3L89.6 94.6M88.2 94.8L88.7 94.3" class="m"/><path d="M86.0 94.9 86.8 95.3 87.5 94.4 86.7 94.0Z" fill="#8524b6"/><path d="M81.9 94.0 82.2 94.3 83.0 93.3 82.8 93.0Z" fill="#5e30dc"/><path d="M84.0 94.8 84.7 95.2 85.4 94.3 84.7 93.9Z" fill="#7e26c0"/><path d="M82.1 94.1 82.4 94.6 83.2 93.7 82.9 93.2Z" fill="#582cd0"/><path d="M82.3 94.5 82.6 94.8 83.5 93.9 83.1 93.5Z" fill="#692cd1"/><path d="M84.5 95.0 85.3 95.5 86.0 94.5 85.2 94.1Z" fill="#8225bb"/><path d="M86.5 95.1 87.8 95.7 88.4 94.8 87.1 94.2Z" fill="#8623b4"/><path d="M87.7 95.4L88.2 94.8" class="m"/><path d="M82.5 94.7 82.9 95.0 83.7 94.1 83.3 93.7Z" fill="#722bce"/><path d="M82.8 94.9 83.3 95.3 84.1 94.4 83.5 93.9Z" fill="#7529c9"/><path d="M85.0 95.3 85.7 95.7 86.4 94.7 85.8 94.4Z" fill="#8424b8"/><path d="M83.1 95.2 83.7 95.5 84.5 94.6 83.9 94.2Z" fill="#7b27c4"/><path d="M87.4 95.5 88.7 96.0 89.3 95.2 88.1 94.6Z" fill="#8722b2"/><path d="M87.7 95.4L88.2 94.8" class="m"/><path d="M85.5 95.5 86.3 95.9 87.0 95.0 86.2 94.6Z" fill="#8523b6"/><path d="M81.4 94.6 81.7 94.9 82.5 93.9 82.3 93.6Z" fill="#5f30db"/><path d="M81.6 94.5L81.8 94.6" class="m"/><path d="M83.5 95.4 84.2 95.8 84.9 94.9 84.2 94.4Z" fill="#7f26c0"/><path d="M81.6 94.7 81.9 95.2 82.7 94.3 82.4 93.8Z" fill="#592ccf"/><path d="M81.8 94.6L82.0 95.0" class="m"/><path d="M81.7 95.1 82.1 95.4 82.9 94.5 82.6 94.1Z" fill="#6a2cd0"/><path d="M82.0 95.0L82.2 95.2" class="m"/><path d="M83.9 95.6 84.7 96.1 85.5 95.1 84.7 94.7Z" fill="#8325ba"/><path d="M86.0 95.7 87.3 96.2 87.9 95.4 86.7 94.8Z" fill="#8623b4"/><path d="M87.2 96.0L87.7 95.4" class="m"/><path d="M82.0 95.3 82.4 95.6 83.2 94.7 82.8 94.3Z" fill="#732bcd"/><path d="M82.2 95.2L82.5 95.4" class="m"/><path d="M82.2 95.5 82.8 95.9 83.6 95.0 83.0 94.5Z" fill="#7629c9"/><path d="M82.5 95.4L82.8 95.7" class="m"/><path d="M84.5 95.9 85.2 96.3 85.9 95.3 85.3 95.0Z" fill="#8424b8"/><path d="M82.6 95.8 83.2 96.1 84.0 95.2 83.4 94.8Z" fill="#7c27c3"/><path d="M82.8 95.7L83.2 95.9" class="m"/><path d="M86.9 96.1 88.2 96.6 88.8 95.8 87.6 95.2Z" fill="#8722b2"/><path d="M87.2 96.0L87.7 95.4" class="m"/><path d="M85.0 96.1 85.8 96.5 86.5 95.6 85.7 95.2Z" fill="#8523b6"/><path d="M83.0 96.0 83.7 96.4 84.4 95.5 83.7 95.0Z" fill="#7f26bf"/><path d="M83.2 95.9L83.7 96.1" class="m"/><path d="M83.4 96.2 84.2 96.6 85.0 95.7 84.2 95.3Z" fill="#8325ba"/><path d="M83.7 96.1L84.2 96.4" class="m"/><path d="M85.5 96.3 86.8 96.8 87.4 96.0 86.2 95.4Z" fill="#8623b4"/><path d="M86.7 96.6L87.2 96.0" class="m"/><path d="M84.0 96.5 84.7 96.8 85.4 95.9 84.8 95.6Z" fill="#8424b7"/><path d="M84.2 96.4L84.7 96.6" class="m"/><path d="M84.5 96.7 85.3 97.1 86.0 96.2 85.2 95.8Z" fill="#8523b5"/><path d="M84.7 96.6L85.2 96.8" class="m"/><path d="M85.0 96.9 86.3 97.4 86.9 96.6 85.6 96.0Z" fill="#8722b3"/><path d="M85.2 96.8L86.2 97.2M86.2 97.2L86.7 96.6" class="m"/><path d="M78.9 97.8 79.0 97.9 82.0 94.5 81.8 94.3Z" fill="#622fd9"/><path d="M79.0 97.6L79.2 97.7M81.6 94.5L81.8 94.6" class="m"/><path d="M79.0 97.9 79.2 98.2 82.1 94.8 81.9 94.4Z" fill="#5c2bce"/><path d="M79.2 97.7L79.4 98.0M81.8 94.6L82.0 95.0" class="m"/><path d="M79.2 98.2 79.5 98.4 82.4 95.0 82.1 94.8Z" fill="#6d2bcf"/><path d="M79.4 98.0L79.6 98.2M82.0 95.0L82.2 95.2" class="m"/><path d="M79.4 98.4 79.7 98.6 82.7 95.2 82.4 95.0Z" fill="#752acb"/><path d="M79.6 98.2L79.9 98.4M82.2 95.2L82.5 95.4" class="m"/><path d="M79.7 98.6 80.1 98.9 83.0 95.5 82.6 95.2Z" fill="#7828c7"/><path d="M79.9 98.4L80.3 98.7M82.5 95.4L82.8 95.7" class="m"/><path d="M80.1 98.9 80.5 99.1 83.4 95.7 83.0 95.5Z" fill="#7d27c2"/><path d="M80.3 98.7L80.6 98.9M82.8 95.7L83.2 95.9" class="m"/><path d="M80.4 99.1 81.0 99.4 83.9 96.0 83.4 95.7Z" fill="#8025be"/><path d="M80.6 98.9L81.1 99.2M83.2 95.9L83.7 96.1" class="m"/><path d="M80.9 99.3 81.5 99.6 84.4 96.2 83.8 95.9Z" fill="#8424b8"/><path d="M81.1 99.2L81.7 99.4M83.7 96.1L84.2 96.4" class="m"/><path d="M81.5 99.6 82.0 99.8 84.9 96.4 84.4 96.2Z" fill="#8523b6"/><path d="M81.7 99.4L82.1 99.6M84.2 96.4L84.7 96.6" class="m"/><path d="M81.9 99.8 82.5 100.1 85.4 96.7 84.8 96.4Z" fill="#8623b4"/><path d="M82.1 99.6L82.7 99.9M84.7 96.6L85.2 96.8" class="m"/><path d="M82.5 100.0 83.5 100.5 86.4 97.1 85.4 96.6Z" fill="#8722b2"/><path d="M82.7 99.9L83.6 100.2M85.2 96.8L86.2 97.2M83.6 100.2L86.2 97.2" class="m"/><path d="M76.2 100.9 76.4 101.1 79.4 97.6 79.2 97.4Z" fill="#672dd5"/><path d="M76.4 100.8L76.5 100.9M79.0 97.6L79.2 97.7" class="m"/><path d="M76.3 101.1 76.6 101.4 79.5 97.8 79.3 97.5Z" fill="#6029cb"/><path d="M76.5 100.9L76.7 101.2M79.2 97.7L79.4 98.0" class="m"/><path d="M76.5 101.3 76.8 101.6 79.8 98.1 79.5 97.8Z" fill="#7129cb"/><path d="M76.7 101.2L76.9 101.4M79.4 98.0L79.6 98.2" class="m"/><path d="M76.8 101.5 77.1 101.8 80.1 98.3 79.8 98.0Z" fill="#7828c7"/><path d="M76.9 101.4L77.2 101.6M79.6 98.2L79.9 98.4" class="m"/><path d="M77.0 101.7 77.5 102.0 80.4 98.5 80.0 98.2Z" fill="#7a27c4"/><path d="M77.2 101.6L77.6 101.8M79.9 98.4L80.3 98.7" class="m"/><path d="M77.4 102.0 77.8 102.2 80.8 98.7 80.4 98.5Z" fill="#7f26bf"/><path d="M77.6 101.8L78.0 102.0M80.3 98.7L80.6 98.9" class="m"/><path d="M77.8 102.2 78.3 102.5 81.3 99.0 80.8 98.7Z" fill="#8224bb"/><path d="M78.0 102.0L78.5 102.3M80.6 98.9L81.1 99.2" class="m"/><path d="M78.3 102.4 78.9 102.7 81.8 99.3 81.2 99.0Z" fill="#8523b6"/><path d="M78.5 102.3L79.0 102.5M81.1 99.2L81.7 99.4" class="m"/><path d="M78.8 102.7 79.3 102.9 82.3 99.4 81.8 99.2Z" fill="#8623b4"/><path d="M79.0 102.5L79.5 102.7M81.7 99.4L82.1 99.6" class="m"/><path d="M79.3 102.9 79.9 103.2 82.9 99.7 82.3 99.4Z" fill="#8722b3"/><path d="M79.5 102.7L80.0 102.9M82.1 99.6L82.7 99.9" class="m"/><path d="M73.4 104.2 73.6 104.3 76.7 100.7 76.5 100.6Z" fill="#6b2cd1"/><path d="M73.6 104.0L73.8 104.1M76.4 100.8L76.5 100.9" class="m"/><path d="M73.6 104.3 73.8 104.6 76.9 101.0 76.7 100.7Z" fill="#6428c9"/><path d="M73.8 104.1L74.0 104.4M76.5 100.9L76.7 101.2" class="m"/><path d="M73.8 104.5 74.1 104.8 77.1 101.2 76.9 101.0Z" fill="#7428c8"/><path d="M74.0 104.4L74.2 104.6M76.7 101.2L76.9 101.4" class="m"/><path d="M74.0 104.7 74.4 104.9 77.4 101.4 77.1 101.2Z" fill="#7b27c4"/><path d="M74.2 104.6L74.5 104.7M76.9 101.4L77.2 101.6" class="m"/><path d="M74.3 104.9 74.7 105.2 77.8 101.6 77.4 101.3Z" fill="#7d26c1"/><path d="M74.5 104.7L74.9 105.0M77.2 101.6L77.6 101.8" class="m"/><path d="M74.7 105.2 75.1 105.4 78.2 101.8 77.7 101.6Z" fill="#8125bc"/><path d="M74.9 105.0L75.3 105.2M77.6 101.8L78.0 102.0" class="m"/><path d="M75.1 105.4 75.6 105.6 78.6 102.1 78.1 101.8Z" fill="#8324b9"/><path d="M75.3 105.2L75.7 105.4M78.0 102.0L78.5 102.3" class="m"/><path d="M75.5 105.6 76.2 105.9 79.2 102.3 78.6 102.0Z" fill="#8623b5"/><path d="M75.7 105.4L76.3 105.7M78.5 102.3L79.0 102.5" class="m"/><path d="M76.1 105.9 76.6 106.1 79.7 102.5 79.2 102.3Z" fill="#8722b3"/><path d="M76.3 105.7L76.8 105.9M79.0 102.5L79.5 102.7" class="m"/><path d="M70.6 107.5 70.8 107.6 73.9 103.9 73.8 103.8Z" fill="#6f2ace"/><path d="M70.8 107.3L71.0 107.4M73.6 104.0L73.8 104.1" class="m"/><path d="M70.8 107.6 71.0 107.9 74.1 104.2 73.9 103.9Z" fill="#6827c7"/><path d="M71.0 107.4L71.2 107.7M73.8 104.1L74.0 104.4" class="m"/><path d="M71.0 107.8 71.3 108.0 74.4 104.4 74.1 104.2Z" fill="#7827c6"/><path d="M71.2 107.7L71.4 107.8M74.0 104.4L74.2 104.6" class="m"/><path d="M71.2 108.0 71.5 108.2 74.7 104.6 74.4 104.4Z" fill="#7d26c1"/><path d="M71.4 107.8L71.7 108.0M74.2 104.6L74.5 104.7" class="m"/><path d="M71.5 108.2 71.9 108.4 75.1 104.8 74.6 104.5Z" fill="#7f25bf"/><path d="M71.7 108.0L72.1 108.2M74.5 104.7L74.9 105.0" class="m"/><path d="M71.9 108.4 72.3 108.7 75.4 105.0 75.0 104.8Z" fill="#8324ba"/><path d="M72.1 108.2L72.5 108.4M74.9 105.0L75.3 105.2" class="m"/><path d="M72.3 108.6 72.8 108.9 75.9 105.3 75.4 105.0Z" fill="#8523b7"/><path d="M72.5 108.4L72.9 108.7M75.3 105.2L75.7 105.4" class="m"/><path d="M72.7 108.9 73.4 109.1 76.5 105.5 75.9 105.2Z" fill="#8722b3"/><path d="M72.9 108.7L73.5 108.9M75.7 105.4L76.3 105.7" class="m"/><path d="M67.7 110.9 67.9 111.0 71.1 107.2 71.0 107.1Z" fill="#7329ca"/><path d="M67.9 110.7L68.1 110.8M70.8 107.3L71.0 107.4" class="m"/><path d="M67.9 111.0 68.1 111.2 71.3 107.5 71.1 107.2Z" fill="#6c26c5"/><path d="M68.1 110.8L68.3 111.0M71.0 107.4L71.2 107.7" class="m"/><path d="M68.1 111.2 68.4 111.4 71.6 107.7 71.3 107.5Z" fill="#7b26c3"/><path d="M68.3 111.0L68.5 111.2M71.2 107.7L71.4 107.8" class="m"/><path d="M68.3 111.4 68.7 111.6 71.9 107.8 71.6 107.6Z" fill="#7f25bf"/><path d="M68.5 111.2L68.8 111.4M71.4 107.8L71.7 108.0" class="m"/><path d="M68.6 111.5 69.1 111.8 72.3 108.1 71.8 107.8Z" fill="#8124bc"/><path d="M68.8 111.4L69.2 111.6M71.7 108.0L72.1 108.2" class="m"/><path d="M69.0 111.8 69.4 112.0 72.6 108.3 72.2 108.0Z" fill="#8423b8"/><path d="M69.2 111.6L69.6 111.8M72.1 108.2L72.5 108.4" class="m"/><path d="M69.4 112.0 69.9 112.2 73.1 108.5 72.6 108.2Z" fill="#8622b5"/><path d="M69.6 111.8L70.1 112.0M72.5 108.4L72.9 108.7" class="m"/><path d="M64.8 114.3 64.9 114.5 68.2 110.6 68.1 110.5Z" fill="#7728c7"/><path d="M64.9 114.2L65.1 114.3M67.9 110.7L68.1 110.8" class="m"/><path d="M64.9 114.4 65.1 114.7 68.4 110.8 68.2 110.6Z" fill="#7026c3"/><path d="M65.1 114.3L65.3 114.5M68.1 110.8L68.3 111.0" class="m"/><path d="M65.1 114.6 65.4 114.8 68.7 111.0 68.4 110.8Z" fill="#7d25c0"/><path d="M65.3 114.5L65.5 114.6M68.3 111.0L68.5 111.2" class="m"/><path d="M65.4 114.8 65.7 115.0 69.0 111.2 68.7 111.0Z" fill="#8125bc"/><path d="M65.5 114.6L65.8 114.8M68.5 111.2L68.8 111.4" class="m"/><path d="M65.7 115.0 66.1 115.2 69.4 111.4 68.9 111.2Z" fill="#8324ba"/><path d="M65.8 114.8L66.2 115.0M68.8 111.4L69.2 111.6" class="m"/><path d="M66.1 115.2 66.5 115.4 69.8 111.6 69.3 111.4Z" fill="#8523b6"/><path d="M66.2 115.0L66.6 115.2M69.2 111.6L69.6 111.8" class="m"/><path d="M66.4 115.4 67.0 115.7 70.2 111.9 69.7 111.6Z" fill="#8722b4"/><path d="M66.6 115.2L67.1 115.5M69.6 111.8L70.1 112.0" class="m"/><path d="M61.7 117.9 61.9 118.0 65.3 114.1 65.1 114.0Z" fill="#7a27c4"/><path d="M64.9 114.2L65.1 114.3" class="m"/><path d="M61.9 118.0 62.1 118.2 65.5 114.3 65.2 114.1Z" fill="#7425c2"/><path d="M65.1 114.3L65.3 114.5" class="m"/><path d="M62.1 118.2 62.3 118.4 65.7 114.5 65.4 114.3Z" fill="#7f25be"/><path d="M65.3 114.5L65.5 114.6" class="m"/><path d="M62.3 118.3 62.6 118.5 66.0 114.6 65.7 114.4Z" fill="#8324ba"/><path d="M65.5 114.6L65.8 114.8" class="m"/><path d="M62.6 118.5 63.0 118.8 66.4 114.8 66.0 114.6Z" fill="#8423b8"/><path d="M65.8 114.8L66.2 115.0" class="m"/><path d="M63.0 118.7 63.4 119.0 66.8 115.0 66.4 114.8Z" fill="#8622b5"/><path d="M66.2 115.0L66.6 115.2" class="m"/><path d="M61.8 117.7 L68.6 109.7 L75.0 102.2 L81.0 95.0 L81.0 95.0 L81.3 94.7 L81.6 94.3 L81.9 93.9 L82.2 93.6 L82.5 93.2 L82.8 92.9 L83.1 92.5 L83.4 92.2 L83.7 91.8 L84.0 91.4 L84.3 91.1 L84.6 90.7 L84.9 90.2 L85.2 89.7 L85.5 89.1 L85.8 88.6 L86.0 88.0 L86.3 87.4 L86.6 86.8 L86.9 86.1 L87.2 85.4 L87.5 84.7 L87.8 83.9 L88.1 83.1 L88.3 82.3 L88.6 81.4 L88.9 80.5 L89.2 79.5 L89.5 78.5 L89.8 77.5 L90.1 76.5 L90.4 75.4 L90.7 74.2 L91.0 73.2 L91.3 72.2 L91.5 71.1 L91.8 70.0 L92.1 68.9 L92.4 67.7 L92.7 66.5 L93.0 65.1 L93.3 63.5 L93.6 61.8 L94.0 60.1 L94.3 58.3 L94.6 56.3 L94.9 54.4 L95.2 54.1 L95.5 53.9 L95.7 53.6 L96.0 53.3 L96.3 53.0 L96.6 52.8 L96.8 52.5 L97.1 52.2 L97.4 52.0 L97.7 51.7 L97.9 51.4 L98.2 51.2 L98.5 50.9 L98.7 50.6 L99.0 50.4 L99.3 50.1 L99.5 49.8 L99.8 49.6 L100.1 49.3 L100.3 49.1 L100.6 48.8 L100.8 48.5 L101.1 48.3 L101.4 48.0 L101.6 47.8 L101.9 47.5 L102.1 47.3 L102.4 47.0 L102.6 46.7 L102.9 46.5 L103.2 46.2 L103.4 46.0" fill="none" stroke="#fff" stroke-width="1.1"/><path d="M23.6 104.5L104.0 136.9M104.0 136.9L139.1 83.5" fill="none" stroke="#8a8a8a" stroke-width="0.55"/><text x="17.4" y="117.04" font-family="'Liberation Sans', sans-serif" font-size="10.1" font-weight="bold" text-anchor="middle" textLength="11.86" lengthAdjust="spacingAndGlyphs" fill="#000">−2</text><text x="34.9" y="124.34" font-family="'Liberation Sans', sans-serif" font-size="10.1" font-weight="bold" text-anchor="middle" textLength="11.86" lengthAdjust="spacingAndGlyphs" fill="#000">−1</text><text x="57.4" y="131.64" font-family="'Liberation Sans', sans-serif" font-size="10.1" font-weight="bold" text-anchor="middle" textLength="5.78" lengthAdjust="spacingAndGlyphs" fill="#000">0</text><text x="78" y="138.94" font-family="'Liberation Sans', sans-serif" font-size="10.1" font-weight="bold" text-anchor="middle" textLength="5.78" lengthAdjust="spacingAndGlyphs" fill="#000">1</text><text x="99.5" y="147.64" font-family="'Liberation Sans', sans-serif" font-size="10.1" font-weight="bold" text-anchor="middle" textLength="5.78" lengthAdjust="spacingAndGlyphs" fill="#000">2</text><text x="142.7" y="91.04" font-family="'Liberation Sans', sans-serif" font-size="10.1" font-weight="bold" text-anchor="middle" textLength="5.78" lengthAdjust="spacingAndGlyphs" fill="#000">2</text><text x="135" y="102.04" font-family="'Liberation Sans', sans-serif" font-size="10.1" font-weight="bold" text-anchor="middle" textLength="5.78" lengthAdjust="spacingAndGlyphs" fill="#000">1</text><text x="127.8" y="114.04" font-family="'Liberation Sans', sans-serif" font-size="10.1" font-weight="bold" text-anchor="middle" textLength="5.78" lengthAdjust="spacingAndGlyphs" fill="#000">0</text><text x="122.5" y="127.34" font-family="'Liberation Sans', sans-serif" font-size="10.1" font-weight="bold" text-anchor="middle" textLength="11.86" lengthAdjust="spacingAndGlyphs" fill="#000">−1</text><text x="112.9" y="142.54" font-family="'Liberation Sans', sans-serif" font-size="10.1" font-weight="bold" text-anchor="middle" textLength="11.86" lengthAdjust="spacingAndGlyphs" fill="#000">−2</text><text x="17" y="83.64" font-family="'Liberation Sans', sans-serif" font-size="10.1" font-weight="bold" text-anchor="end" textLength="17.35" lengthAdjust="spacingAndGlyphs" fill="#000">400</text><text x="18.9" y="95.14" font-family="'Liberation Sans', sans-serif" font-size="10.1" font-weight="bold" text-anchor="end" textLength="17.35" lengthAdjust="spacingAndGlyphs" fill="#000">200</text><text x="20.5" y="106.14" font-family="'Liberation Sans', sans-serif" font-size="10.1" font-weight="bold" text-anchor="end" textLength="5.78" lengthAdjust="spacingAndGlyphs" fill="#000">0</text><text x="51.3" y="139.0" font-family="'Liberation Sans', sans-serif" font-size="11.5" font-weight="bold" font-style="italic" text-anchor="middle" fill="#000">x</text><text x="132.6" y="115.6" font-family="'Liberation Sans', sans-serif" font-size="11.5" font-weight="bold" font-style="italic" text-anchor="middle" fill="#000">t</text><defs><linearGradient id="cba" x1="0" y1="1" x2="0" y2="0"><stop offset="0.000" stop-color="#781c86"/><stop offset="0.025" stop-color="#6b2597"/><stop offset="0.050" stop-color="#5e2ea8"/><stop offset="0.075" stop-color="#5138b9"/><stop offset="0.100" stop-color="#4441ca"/><stop offset="0.125" stop-color="#3f4dd1"/><stop offset="0.150" stop-color="#405ad0"/><stop offset="0.175" stop-color="#4168cf"/><stop offset="0.200" stop-color="#4376cd"/><stop offset="0.225" stop-color="#4483cb"/><stop offset="0.250" stop-color="#4789c4"/><stop offset="0.275" stop-color="#4990be"/><stop offset="0.300" stop-color="#4c96b7"/><stop offset="0.325" stop-color="#4e9db0"/><stop offset="0.350" stop-color="#54a2a6"/><stop offset="0.375" stop-color="#5ba69b"/><stop offset="0.400" stop-color="#62aa90"/><stop offset="0.425" stop-color="#69af85"/><stop offset="0.450" stop-color="#72b37a"/><stop offset="0.475" stop-color="#7db672"/><stop offset="0.500" stop-color="#89ba69"/><stop offset="0.525" stop-color="#95bd60"/><stop offset="0.550" stop-color="#a0c058"/><stop offset="0.575" stop-color="#aabf52"/><stop offset="0.600" stop-color="#b2bc4c"/><stop offset="0.625" stop-color="#bbb947"/><stop offset="0.650" stop-color="#c3b642"/><stop offset="0.675" stop-color="#cbb23e"/><stop offset="0.700" stop-color="#d1ac3d"/><stop offset="0.725" stop-color="#d8a63d"/><stop offset="0.750" stop-color="#dea03c"/><stop offset="0.775" stop-color="#e49b3c"/><stop offset="0.800" stop-color="#e48e39"/><stop offset="0.825" stop-color="#e48136"/><stop offset="0.850" stop-color="#e37433"/><stop offset="0.875" stop-color="#e26730"/><stop offset="0.900" stop-color="#e15b2e"/><stop offset="0.925" stop-color="#e04e2d"/><stop offset="0.950" stop-color="#df422d"/><stop offset="0.975" stop-color="#dd362c"/><stop offset="1.000" stop-color="#dc2a2c"/></linearGradient></defs><rect x="155.1" y="55.6" width="5.5" height="49.1" fill="url(#cba)"/><text x="163.2" y="108.34" font-family="'Liberation Sans', sans-serif" font-size="10.1" font-weight="bold" textLength="5.78" lengthAdjust="spacingAndGlyphs" fill="#000">0</text><text x="163.2" y="98.24" font-family="'Liberation Sans', sans-serif" font-size="10.1" font-weight="bold" textLength="17.35" lengthAdjust="spacingAndGlyphs" fill="#000">100</text><text x="163.2" y="88.14" font-family="'Liberation Sans', sans-serif" font-size="10.1" font-weight="bold" textLength="17.35" lengthAdjust="spacingAndGlyphs" fill="#000">200</text><text x="163.2" y="78.04" font-family="'Liberation Sans', sans-serif" font-size="10.1" font-weight="bold" textLength="17.35" lengthAdjust="spacingAndGlyphs" fill="#000">300</text><text x="163.2" y="67.94" font-family="'Liberation Sans', sans-serif" font-size="10.1" font-weight="bold" textLength="17.35" lengthAdjust="spacingAndGlyphs" fill="#000">400</text></g>
</svg></body></html>
